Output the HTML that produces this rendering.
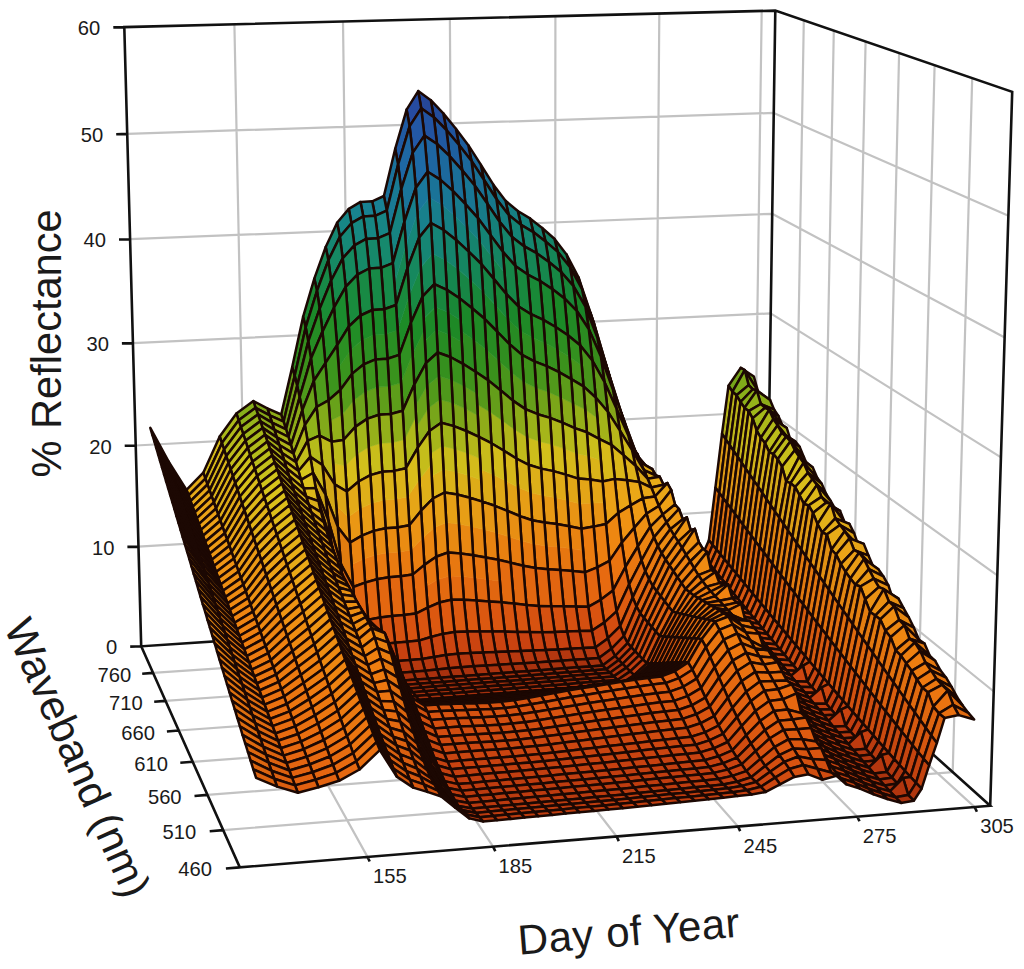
<!DOCTYPE html><html><head><meta charset="utf-8"><title>Reflectance surface</title><style>html,body{margin:0;padding:0;background:#fff}svg{display:block}</style></head><body><svg width="1024" height="969" viewBox="0 0 1024 969"><path d="M138.4,546.6 L767.7,508.8 L993.8,691.5 M135.7,445.5 L769.2,411.7 L997.3,575.4 M132.9,343.1 L770.7,313.4 L1001,457.4 M130,239.2 L772.2,213.8 L1004.7,337.5 M127.2,133.9 L773.7,112.9 L1008.4,215.7 M234.4,24.3 L246.8,639.2 L367.5,856.9 M343,21.6 L350.9,632.3 L493.1,846.6 M449.9,18.9 L453.6,625.4 L616.6,836.5 M555.4,16.2 L554.9,618.7 L738,826.5 M659.3,13.5 L654.7,612 L857.3,816.7 M761.7,10.9 L753.2,605.4 L974.7,807.1 M803.8,20.4 L793.4,628.9 L153,672.9 M833.8,30.7 L822,654.6 L165.5,700.9 M865.6,41.6 L852,681.6 L178.7,730.5 M899.1,53 L883.8,710.1 L192.7,761.8 M934.6,65.2 L917.3,740.2 L207.4,794.9 M972.2,78.1 L952.7,772.1 L223.1,830.1" stroke="#c2c2c2" stroke-width="2.2" fill="none" stroke-linejoin="round"/>
<path d="M141.2,646.3 L239.8,867.4 L990.2,805.8 L766.3,604.5 Z M141.2,646.3 L124.3,27.1 L775.3,10.6 L1012.2,91.8 L990.2,805.8 M775.3,10.6 L766.3,604.5 M141.2,646.3 l-11,0.3 M138.4,546.6 l-11,0.3 M135.7,445.5 l-11,0.3 M132.9,343.1 l-11,0.3 M130,239.2 l-11,0.3 M127.2,133.9 l-11,0.3 M124.3,27.1 l-11,0.3 M153,672.9 l-10.8,0.9 M165.5,700.9 l-11.3,0.9 M178.7,730.5 l-11.8,1 M192.7,761.8 l-12.4,1 M207.4,794.9 l-12.9,1.1 M223.1,830.1 l-13.4,1.1 M239.8,867.4 l-13.9,1.1 M367.5,856.9 l2.2,4.6 M493.1,846.6 l2.2,4.6 M616.6,836.5 l2.2,4.6 M738,826.5 l2.2,4.6 M857.3,816.7 l2.2,4.6 M974.7,807.1 l2.2,4.6" stroke="#111" stroke-width="2.6" fill="none" stroke-linejoin="miter"/>
<g stroke="#1c0803" stroke-width="2.5" stroke-linejoin="round"><path d="M744.8,370.2 L757.8,390.6 L753.9,376.5 L740.7,367.9Z" fill="#6b9b18"/><path d="M732.5,391.7 L744.8,370.2 L740.7,367.9 L728.5,385.8Z" fill="#75a51a"/><path d="M725.9,439.6 L732.5,391.7 L728.5,385.8 L722,433.8Z" fill="#b5b41a"/><path d="M719.3,492.9 L725.9,439.6 L722,433.8 L715.4,487.7Z" fill="#dd9c16"/><path d="M712.7,545 L719.3,492.9 L715.4,487.7 L708.9,540.3Z" fill="#df730f"/><path d="M706.3,559.9 L712.7,545 L708.9,540.3 L702.4,555.1Z" fill="#db5f10"/><path d="M695.4,555.9 L706.3,559.9 L702.4,555.1 L691.6,551Z" fill="#d85b0f"/><path d="M683.8,549 L695.4,555.9 L691.6,551 L680.1,544Z" fill="#d75e0f"/><path d="M672.3,541 L683.8,549 L680.1,544 L668.6,536Z" fill="#d9630f"/><path d="M660.7,531.2 L672.3,541 L668.6,536 L657,526.1Z" fill="#da690f"/><path d="M649.1,519.4 L660.7,531.2 L657,526.1 L645.5,514.2Z" fill="#da6f0f"/><path d="M641.1,464.1 L649.1,519.4 L645.5,514.2 L637.5,454Z" fill="#d28412"/><path d="M629.3,443 L641.1,464.1 L637.5,454 L625.8,438.1Z" fill="#cda417"/><path d="M617.6,404.3 L629.3,443 L625.8,438.1 L614.1,397.7Z" fill="#aea918"/><path d="M605.8,363.6 L617.6,404.3 L614.1,397.7 L602.3,355Z" fill="#619217"/><path d="M593.9,323.2 L605.8,363.6 L602.3,355 L590.5,312.8Z" fill="#2f831c"/><path d="M582,289.1 L593.9,323.2 L590.5,312.8 L578.5,277.3Z" fill="#197d26"/><path d="M569.9,266.9 L582,289.1 L578.5,277.3 L566.5,254.4Z" fill="#157f42"/><path d="M557.7,251.9 L569.9,266.9 L566.5,254.4 L554.4,238.8Z" fill="#158157"/><path d="M545.5,241.4 L557.7,251.9 L554.4,238.8 L542.2,228Z" fill="#158367"/><path d="M533.3,232.1 L545.5,241.4 L542.2,228 L530,218.4Z" fill="#158373"/><path d="M521,224.9 L533.3,232.1 L530,218.4 L517.8,211Z" fill="#16837d"/><path d="M508.7,214.9 L521,224.9 L517.8,211 L505.5,200.7Z" fill="#167e82"/><path d="M496.4,199 L508.7,214.9 L505.5,200.7 L493.2,184.4Z" fill="#17778a"/><path d="M483.9,179.8 L496.4,199 L493.2,184.4 L480.8,164.7Z" fill="#196e90"/><path d="M471.5,160.9 L483.9,179.8 L480.8,164.7 L468.3,145.2Z" fill="#1b6697"/><path d="M459,145 L471.5,160.9 L468.3,145.2 L455.9,128.8Z" fill="#1e5d9c"/><path d="M446.4,130 L459,145 L455.9,128.8 L443.3,113.4Z" fill="#20549d"/><path d="M433.8,117.2 L446.4,130 L443.3,113.4 L430.8,100.2Z" fill="#234c9b"/><path d="M421.2,108.3 L433.8,117.2 L430.8,100.2 L418.2,91.1Z" fill="#264799"/><path d="M409.6,126.4 L421.2,108.3 L418.2,91.1 L406.6,109.6Z" fill="#264ba0"/><path d="M398.1,164.6 L409.6,126.4 L406.6,109.6 L395.2,148.8Z" fill="#205aa2"/><path d="M386.8,210.6 L398.1,164.6 L395.2,148.8 L383.9,196Z" fill="#1b7199"/><path d="M375.1,215.8 L386.8,210.6 L383.9,196 L372.2,201.3Z" fill="#198194"/><path d="M363.3,216.4 L375.1,215.8 L372.2,201.3 L360.5,201.9Z" fill="#188191"/><path d="M351.5,223.2 L363.3,216.4 L360.5,201.9 L348.8,208.9Z" fill="#18838f"/><path d="M339.9,236.8 L351.5,223.2 L348.8,208.9 L337.1,222.8Z" fill="#178686"/><path d="M328.4,260.3 L339.9,236.8 L337.1,222.8 L325.7,247Z" fill="#168772"/><path d="M317,290.8 L328.4,260.3 L325.7,247 L314.3,278.6Z" fill="#168754"/><path d="M305.7,327.4 L317,290.8 L314.3,278.6 L303.1,316.8Z" fill="#1a8833"/><path d="M294.7,375.8 L305.7,327.4 L303.1,316.8 L292.2,367.1Z" fill="#2f8d20"/><path d="M283.6,421.7 L294.7,375.8 L292.2,367.1 L281.2,414.5Z" fill="#669d19"/><path d="M269.7,415.4 L283.6,421.7 L281.2,414.5 L267.3,408.3Z" fill="#8fac19"/><path d="M255.6,407.8 L269.7,415.4 L267.3,408.3 L253.4,401.1Z" fill="#7ea519"/><path d="M238.7,420.3 L255.6,407.8 L253.4,401.1 L236.4,413.5Z" fill="#87ae1a"/><path d="M221.9,443.1 L238.7,420.3 L236.4,413.5 L219.7,436.5Z" fill="#aab81a"/><path d="M205.4,478.6 L221.9,443.1 L219.7,436.5 L203.3,472.7Z" fill="#d4bb1b"/><path d="M188.5,495.5 L205.4,478.6 L203.3,472.7 L186.5,489.9Z" fill="#e5ac18"/><path d="M170.5,467.3 L188.5,495.5 L186.5,489.9 L168.5,461.3Z" fill="#cca017"/><path d="M152.2,434.4 L170.5,467.3 L168.5,461.3 L150.3,427.9Z" fill="#b3ac19"/><path d="M748.6,385.1 L761.8,398.6 L757.8,390.6 L744.8,370.2Z" fill="#7aa018"/><path d="M736.5,395.3 L748.6,385.1 L744.8,370.2 L732.5,391.7Z" fill="#80ab1a"/><path d="M729.8,445.3 L736.5,395.3 L732.5,391.7 L725.9,439.6Z" fill="#b9b41a"/><path d="M723.2,498.2 L729.8,445.3 L725.9,439.6 L719.3,492.9Z" fill="#de9a15"/><path d="M716.6,549.7 L723.2,498.2 L719.3,492.9 L712.7,545Z" fill="#df720f"/><path d="M710.1,564.6 L716.6,549.7 L712.7,545 L706.3,559.9Z" fill="#da5e10"/><path d="M699.2,560.8 L710.1,564.6 L706.3,559.9 L695.4,555.9Z" fill="#d75a0f"/><path d="M687.6,553.9 L699.2,560.8 L695.4,555.9 L683.8,549Z" fill="#d65d0f"/><path d="M676,546.1 L687.6,553.9 L683.8,549 L672.3,541Z" fill="#d8620f"/><path d="M664.4,536.3 L676,546.1 L672.3,541 L660.7,531.2Z" fill="#d9680f"/><path d="M652.8,524.7 L664.4,536.3 L660.7,531.2 L649.1,519.4Z" fill="#da6e0f"/><path d="M644.8,467.7 L652.8,524.7 L649.1,519.4 L641.1,464.1Z" fill="#d28211"/><path d="M632.9,448.6 L644.8,467.7 L641.1,464.1 L629.3,443Z" fill="#cba016"/><path d="M621.2,412.7 L632.9,448.6 L629.3,443 L617.6,404.3Z" fill="#b4ab18"/><path d="M609.3,375.2 L621.2,412.7 L617.6,404.3 L605.8,363.6Z" fill="#6c9617"/><path d="M597.4,337.9 L609.3,375.2 L605.8,363.6 L593.9,323.2Z" fill="#34841a"/><path d="M585.4,306.6 L597.4,337.9 L593.9,323.2 L582,289.1Z" fill="#1e8022"/><path d="M573.3,285.9 L585.4,306.6 L582,289.1 L569.9,266.9Z" fill="#178137"/><path d="M561.1,272 L573.3,285.9 L569.9,266.9 L557.7,251.9Z" fill="#15844a"/><path d="M548.9,262 L561.1,272 L557.7,251.9 L545.5,241.4Z" fill="#158558"/><path d="M536.6,253.2 L548.9,262 L545.5,241.4 L533.3,232.1Z" fill="#158564"/><path d="M524.3,246.4 L536.6,253.2 L533.3,232.1 L521,224.9Z" fill="#16856e"/><path d="M512,236.9 L524.3,246.4 L521,224.9 L508.7,214.9Z" fill="#158476"/><path d="M499.6,221.8 L512,236.9 L508.7,214.9 L496.4,199Z" fill="#167e7f"/><path d="M487.2,203.5 L499.6,221.8 L496.4,199 L483.9,179.8Z" fill="#17778b"/><path d="M474.7,185.5 L487.2,203.5 L483.9,179.8 L471.5,160.9Z" fill="#196f94"/><path d="M462.2,170.4 L474.7,185.5 L471.5,160.9 L459,145Z" fill="#1c689b"/><path d="M449.6,156.2 L462.2,170.4 L459,145 L446.4,130Z" fill="#1e609e"/><path d="M437,144 L449.6,156.2 L446.4,130 L433.8,117.2Z" fill="#2058a0"/><path d="M424.4,135.6 L437,144 L433.8,117.2 L421.2,108.3Z" fill="#2253a1"/><path d="M412.7,152.9 L424.4,135.6 L421.2,108.3 L409.6,126.4Z" fill="#2358a6"/><path d="M401.2,189.3 L412.7,152.9 L409.6,126.4 L398.1,164.6Z" fill="#1e67a3"/><path d="M389.8,233.2 L401.2,189.3 L398.1,164.6 L386.8,210.6Z" fill="#197a94"/><path d="M378,238.2 L389.8,233.2 L386.8,210.6 L375.1,215.8Z" fill="#178685"/><path d="M366.2,238.9 L378,238.2 L375.1,215.8 L363.3,216.4Z" fill="#178683"/><path d="M354.4,245.4 L366.2,238.9 L363.3,216.4 L351.5,223.2Z" fill="#178881"/><path d="M342.7,258.4 L354.4,245.4 L351.5,223.2 L339.9,236.8Z" fill="#168977"/><path d="M331.1,280.8 L342.7,258.4 L339.9,236.8 L328.4,260.3Z" fill="#168963"/><path d="M319.7,308.7 L331.1,280.8 L328.4,260.3 L317,290.8Z" fill="#178947"/><path d="M308.3,341.4 L319.7,308.7 L317,290.8 L305.7,327.4Z" fill="#1b8929"/><path d="M297.2,385.9 L308.3,341.4 L305.7,327.4 L294.7,375.8Z" fill="#348f1e"/><path d="M286.1,429.3 L297.2,385.9 L294.7,375.8 L283.6,421.7Z" fill="#70a119"/><path d="M272,422.6 L286.1,429.3 L283.6,421.7 L269.7,415.4Z" fill="#98af19"/><path d="M258,414.4 L272,422.6 L269.7,415.4 L255.6,407.8Z" fill="#85a719"/><path d="M240.9,427.1 L258,414.4 L255.6,407.8 L238.7,420.3Z" fill="#8fb11a"/><path d="M224.1,449.6 L240.9,427.1 L238.7,420.3 L221.9,443.1Z" fill="#b0b91a"/><path d="M207.5,484.5 L224.1,449.6 L221.9,443.1 L205.4,478.6Z" fill="#d6b91a"/><path d="M190.5,501.1 L207.5,484.5 L205.4,478.6 L188.5,495.5Z" fill="#e6aa18"/><path d="M172.5,473.3 L190.5,501.1 L188.5,495.5 L170.5,467.3Z" fill="#cd9e16"/><path d="M154.2,440.9 L172.5,473.3 L170.5,467.3 L152.2,434.4Z" fill="#b8ad19"/><path d="M752.7,389.3 L766,397.6 L761.8,398.6 L748.6,385.1Z" fill="#81a118"/><path d="M740.5,402 L752.7,389.3 L748.6,385.1 L736.5,395.3Z" fill="#8aae1a"/><path d="M733.8,451.2 L740.5,402 L736.5,395.3 L729.8,445.3Z" fill="#beb61a"/><path d="M727.1,503.4 L733.8,451.2 L729.8,445.3 L723.2,498.2Z" fill="#df9915"/><path d="M720.5,554.5 L727.1,503.4 L723.2,498.2 L716.6,549.7Z" fill="#de710f"/><path d="M714,569.4 L720.5,554.5 L716.6,549.7 L710.1,564.6Z" fill="#da5d10"/><path d="M703,565.7 L714,569.4 L710.1,564.6 L699.2,560.8Z" fill="#d7590f"/><path d="M691.4,558.9 L703,565.7 L699.2,560.8 L687.6,553.9Z" fill="#d65c0f"/><path d="M679.8,551.1 L691.4,558.9 L687.6,553.9 L676,546.1Z" fill="#d8610f"/><path d="M668.1,541.5 L679.8,551.1 L676,546.1 L664.4,536.3Z" fill="#d9670f"/><path d="M656.5,530.1 L668.1,541.5 L664.4,536.3 L652.8,524.7Z" fill="#da6d0f"/><path d="M648.5,468.9 L656.5,530.1 L652.8,524.7 L644.8,467.7Z" fill="#d28111"/><path d="M636.6,454.8 L648.5,468.9 L644.8,467.7 L632.9,448.6Z" fill="#cda017"/><path d="M624.8,422.7 L636.6,454.8 L632.9,448.6 L621.2,412.7Z" fill="#bbad19"/><path d="M612.9,389.6 L624.8,422.7 L621.2,412.7 L609.3,375.2Z" fill="#7c9b17"/><path d="M600.9,356.6 L612.9,389.6 L609.3,375.2 L597.4,337.9Z" fill="#418a19"/><path d="M588.8,329.2 L600.9,356.6 L597.4,337.9 L585.4,306.6Z" fill="#28851f"/><path d="M576.7,310.8 L588.8,329.2 L585.4,306.6 L573.3,285.9Z" fill="#1a8427"/><path d="M564.5,298.4 L576.7,310.8 L573.3,285.9 L561.1,272Z" fill="#188637"/><path d="M552.3,289.1 L564.5,298.4 L561.1,272 L548.9,262Z" fill="#178744"/><path d="M540,281 L552.3,289.1 L548.9,262 L536.6,253.2Z" fill="#16874d"/><path d="M527.7,274.6 L540,281 L536.6,253.2 L524.3,246.4Z" fill="#168756"/><path d="M515.3,265.9 L527.7,274.6 L524.3,246.4 L512,236.9Z" fill="#15865e"/><path d="M502.9,251.8 L515.3,265.9 L512,236.9 L499.6,221.8Z" fill="#15836a"/><path d="M490.4,234.9 L502.9,251.8 L499.6,221.8 L487.2,203.5Z" fill="#15807a"/><path d="M477.9,218.1 L490.4,234.9 L487.2,203.5 L474.7,185.5Z" fill="#177b88"/><path d="M465.4,204.1 L477.9,218.1 L474.7,185.5 L462.2,170.4Z" fill="#197693"/><path d="M452.8,190.9 L465.4,204.1 L462.2,170.4 L449.6,156.2Z" fill="#1b6f98"/><path d="M440.2,179.6 L452.8,190.9 L449.6,156.2 L437,144Z" fill="#1c699d"/><path d="M427.6,171.8 L440.2,179.6 L437,144 L424.4,135.6Z" fill="#1e65a1"/><path d="M415.8,188 L427.6,171.8 L424.4,135.6 L412.7,152.9Z" fill="#1e6aa5"/><path d="M404.3,222 L415.8,188 L412.7,152.9 L401.2,189.3Z" fill="#1b759a"/><path d="M392.8,263.1 L404.3,222 L401.2,189.3 L389.8,233.2Z" fill="#168381"/><path d="M381.1,267.8 L392.8,263.1 L389.8,233.2 L378,238.2Z" fill="#16896d"/><path d="M369.2,268.5 L381.1,267.8 L378,238.2 L366.2,238.9Z" fill="#16886a"/><path d="M357.4,274.6 L369.2,268.5 L366.2,238.9 L354.4,245.4Z" fill="#168967"/><path d="M345.7,286.8 L357.4,274.6 L354.4,245.4 L342.7,258.4Z" fill="#168a5e"/><path d="M334,307.7 L345.7,286.8 L342.7,258.4 L331.1,280.8Z" fill="#178b4c"/><path d="M322.5,331.6 L334,307.7 L331.1,280.8 L319.7,308.7Z" fill="#1a8b35"/><path d="M311,358.6 L322.5,331.6 L319.7,308.7 L308.3,341.4Z" fill="#258d24"/><path d="M299.7,397.2 L311,358.6 L308.3,341.4 L297.2,385.9Z" fill="#3b921c"/><path d="M288.5,437 L299.7,397.2 L297.2,385.9 L286.1,429.3Z" fill="#7da519"/><path d="M274.4,429.9 L288.5,437 L286.1,429.3 L272,422.6Z" fill="#a0b119"/><path d="M260.3,421.2 L274.4,429.9 L272,422.6 L258,414.4Z" fill="#8daa19"/><path d="M243.2,433.9 L260.3,421.2 L258,414.4 L240.9,427.1Z" fill="#98b41a"/><path d="M226.2,456.2 L243.2,433.9 L240.9,427.1 L224.1,449.6Z" fill="#b7bb1b"/><path d="M209.6,490.4 L226.2,456.2 L224.1,449.6 L207.5,484.5Z" fill="#d7b71a"/><path d="M192.6,506.8 L209.6,490.4 L207.5,484.5 L190.5,501.1Z" fill="#e7a817"/><path d="M174.4,479.5 L192.6,506.8 L190.5,501.1 L172.5,473.3Z" fill="#ce9d16"/><path d="M156.1,447.4 L174.4,479.5 L172.5,473.3 L154.2,440.9Z" fill="#beae19"/><path d="M756.8,390.5 L770.1,400 L766,397.6 L752.7,389.3Z" fill="#7fa218"/><path d="M744.5,407.9 L756.8,390.5 L752.7,389.3 L740.5,402Z" fill="#8cad1a"/><path d="M737.8,457 L744.5,407.9 L740.5,402 L733.8,451.2Z" fill="#c3b71a"/><path d="M731.1,508.8 L737.8,457 L733.8,451.2 L727.1,503.4Z" fill="#e09715"/><path d="M724.4,559.3 L731.1,508.8 L727.1,503.4 L720.5,554.5Z" fill="#de700f"/><path d="M717.9,574.2 L724.4,559.3 L720.5,554.5 L714,569.4Z" fill="#d95c10"/><path d="M706.9,570.7 L717.9,574.2 L714,569.4 L703,565.7Z" fill="#d75810"/><path d="M695.2,563.9 L706.9,570.7 L703,565.7 L691.4,558.9Z" fill="#d55b0f"/><path d="M683.6,556.2 L695.2,563.9 L691.4,558.9 L679.8,551.1Z" fill="#d7600f"/><path d="M671.9,546.7 L683.6,556.2 L679.8,551.1 L668.1,541.5Z" fill="#d9650f"/><path d="M660.2,535.4 L671.9,546.7 L668.1,541.5 L656.5,530.1Z" fill="#d96c0f"/><path d="M652.2,469.1 L660.2,535.4 L656.5,530.1 L648.5,468.9Z" fill="#d28211"/><path d="M640.2,462.1 L652.2,469.1 L648.5,468.9 L636.6,454.8Z" fill="#d2a417"/><path d="M628.3,435.4 L640.2,462.1 L636.6,454.8 L624.8,422.7Z" fill="#c2ac19"/><path d="M616.4,408.6 L628.3,435.4 L624.8,422.7 L612.9,389.6Z" fill="#94a518"/><path d="M604.4,381.9 L616.4,408.6 L612.9,389.6 L600.9,356.6Z" fill="#5c9418"/><path d="M592.3,360.5 L604.4,381.9 L600.9,356.6 L588.8,329.2Z" fill="#378b1b"/><path d="M580.1,345.3 L592.3,360.5 L588.8,329.2 L576.7,310.8Z" fill="#2b8b21"/><path d="M567.9,335.2 L580.1,345.3 L576.7,310.8 L564.5,298.4Z" fill="#228a25"/><path d="M555.6,327 L567.9,335.2 L564.5,298.4 L552.3,289.1Z" fill="#1b8927"/><path d="M543.3,319.8 L555.6,327 L552.3,289.1 L540,281Z" fill="#1a8830"/><path d="M531,314.2 L543.3,319.8 L540,281 L527.7,274.6Z" fill="#198937"/><path d="M518.6,306.5 L531,314.2 L527.7,274.6 L515.3,265.9Z" fill="#18883e"/><path d="M506.2,294 L518.6,306.5 L515.3,265.9 L502.9,251.8Z" fill="#168648"/><path d="M493.8,278.9 L506.2,294 L504.6,272.9 L492.1,256.9Z" fill="#15854d" stroke="#15854d" stroke-width="0.6"/><path d="M492.1,256.9 L504.6,272.9 L502.9,251.8 L490.4,234.9Z" fill="#158362" stroke="#158362" stroke-width="0.6"/><path d="M493.8,278.9 L506.2,294 L502.9,251.8 L490.4,234.9Z" fill="none"/><path d="M481.3,264 L493.8,278.9 L492.1,256.9 L479.6,241.1Z" fill="#15845d" stroke="#15845d" stroke-width="0.6"/><path d="M479.6,241.1 L492.1,256.9 L490.4,234.9 L477.9,218.1Z" fill="#158274" stroke="#158274" stroke-width="0.6"/><path d="M481.3,264 L493.8,278.9 L490.4,234.9 L477.9,218.1Z" fill="none"/><path d="M468.7,251.6 L481.3,264 L479.6,241.1 L467,227.9Z" fill="#15836d" stroke="#15836d" stroke-width="0.6"/><path d="M467,227.9 L479.6,241.1 L477.9,218.1 L465.4,204.1Z" fill="#167f81" stroke="#167f81" stroke-width="0.6"/><path d="M468.7,251.6 L481.3,264 L477.9,218.1 L465.4,204.1Z" fill="none"/><path d="M456.1,239.9 L468.7,251.6 L467,227.9 L454.5,215.4Z" fill="#15827a" stroke="#15827a" stroke-width="0.6"/><path d="M454.5,215.4 L467,227.9 L465.4,204.1 L452.8,190.9Z" fill="#187b8c" stroke="#187b8c" stroke-width="0.6"/><path d="M456.1,239.9 L468.7,251.6 L465.4,204.1 L452.8,190.9Z" fill="none"/><path d="M443.5,229.9 L456.1,239.9 L454.5,215.4 L441.9,204.7Z" fill="#177f84" stroke="#177f84" stroke-width="0.6"/><path d="M441.9,204.7 L454.5,215.4 L452.8,190.9 L440.2,179.6Z" fill="#197794" stroke="#197794" stroke-width="0.6"/><path d="M443.5,229.9 L456.1,239.9 L452.8,190.9 L440.2,179.6Z" fill="none"/><path d="M430.9,223 L443.5,229.9 L441.9,204.7 L429.2,197.4Z" fill="#187d8c" stroke="#187d8c" stroke-width="0.6"/><path d="M429.2,197.4 L441.9,204.7 L440.2,179.6 L427.6,171.8Z" fill="#1a7398" stroke="#1a7398" stroke-width="0.6"/><path d="M430.9,223 L443.5,229.9 L440.2,179.6 L427.6,171.8Z" fill="none"/><path d="M419.1,237.6 L430.9,223 L429.2,197.4 L417.5,212.8Z" fill="#18808c" stroke="#18808c" stroke-width="0.6"/><path d="M417.5,212.8 L429.2,197.4 L427.6,171.8 L415.8,188Z" fill="#1a779a" stroke="#1a779a" stroke-width="0.6"/><path d="M419.1,237.6 L430.9,223 L427.6,171.8 L415.8,188Z" fill="none"/><path d="M407.5,268.1 L419.1,237.6 L417.5,212.8 L405.9,245.1Z" fill="#168678" stroke="#168678" stroke-width="0.6"/><path d="M405.9,245.1 L417.5,212.8 L415.8,188 L404.3,222Z" fill="#18808c" stroke="#18808c" stroke-width="0.6"/><path d="M407.5,268.1 L419.1,237.6 L415.8,188 L404.3,222Z" fill="none"/><path d="M396,305 L407.5,268.1 L405.9,245.1 L394.4,284Z" fill="#168853" stroke="#168853" stroke-width="0.6"/><path d="M394.4,284 L405.9,245.1 L404.3,222 L392.8,263.1Z" fill="#16876a" stroke="#16876a" stroke-width="0.6"/><path d="M396,305 L407.5,268.1 L404.3,222 L392.8,263.1Z" fill="none"/><path d="M384.2,309.2 L396,305 L392.8,263.1 L381.1,267.8Z" fill="#178a49"/><path d="M372.4,310 L384.2,309.2 L381.1,267.8 L369.2,268.5Z" fill="#178947"/><path d="M360.5,315.5 L372.4,310 L369.2,268.5 L357.4,274.6Z" fill="#188a44"/><path d="M348.8,326.5 L360.5,315.5 L357.4,274.6 L345.7,286.8Z" fill="#198b3d"/><path d="M337.1,345.3 L348.8,326.5 L345.7,286.8 L334,307.7Z" fill="#1b8c2e"/><path d="M325.4,363.1 L337.1,345.3 L334,307.7 L322.5,331.6Z" fill="#258f25"/><path d="M313.8,381 L325.4,363.1 L322.5,331.6 L311,358.6Z" fill="#339320"/><path d="M302.3,410.4 L313.8,381 L311,358.6 L299.7,397.2Z" fill="#4e991b"/><path d="M291,445.2 L302.3,410.4 L299.7,397.2 L288.5,437Z" fill="#8dab19"/><path d="M276.8,437.4 L291,445.2 L288.5,437 L274.4,429.9Z" fill="#a8b319"/><path d="M262.6,427.9 L276.8,437.4 L274.4,429.9 L260.3,421.2Z" fill="#95ac19"/><path d="M245.5,440.8 L262.6,427.9 L260.3,421.2 L243.2,433.9Z" fill="#a0b61a"/><path d="M228.5,462.8 L245.5,440.8 L243.2,433.9 L226.2,456.2Z" fill="#bdbc1b"/><path d="M211.7,496.4 L228.5,462.8 L226.2,456.2 L209.6,490.4Z" fill="#d9b51a"/><path d="M194.6,512.5 L211.7,496.4 L209.6,490.4 L192.6,506.8Z" fill="#e8a717"/><path d="M176.5,485.6 L194.6,512.5 L192.6,506.8 L174.4,479.5Z" fill="#d09b16"/><path d="M158.1,454.1 L176.5,485.6 L174.4,479.5 L156.1,447.4Z" fill="#c2af19"/><path d="M760.8,404 L774.2,409.7 L770.1,400 L756.8,390.5Z" fill="#8dac19"/><path d="M748.6,411.1 L760.8,404 L756.8,390.5 L744.5,407.9Z" fill="#95b31a"/><path d="M741.8,462.9 L748.6,411.1 L744.5,407.9 L737.8,457Z" fill="#c7b81a"/><path d="M735.1,514.1 L741.8,462.9 L737.8,457 L731.1,508.8Z" fill="#e09514"/><path d="M728.4,564.1 L735.1,514.1 L731.1,508.8 L724.4,559.3Z" fill="#de6f0f"/><path d="M721.8,579.1 L728.4,564.1 L724.4,559.3 L717.9,574.2Z" fill="#d95b10"/><path d="M710.8,575.6 L721.8,579.1 L717.9,574.2 L706.9,570.7Z" fill="#d65710"/><path d="M699.1,569 L710.8,575.6 L706.9,570.7 L695.2,563.9Z" fill="#d55a0f"/><path d="M687.4,561.3 L699.1,569 L695.2,563.9 L683.6,556.2Z" fill="#d75f0f"/><path d="M675.7,551.9 L687.4,561.3 L683.6,556.2 L671.9,546.7Z" fill="#d8640f"/><path d="M663.9,540.8 L675.7,551.9 L671.9,546.7 L660.2,535.4Z" fill="#d96b0f"/><path d="M655.9,475.5 L663.9,540.8 L660.2,535.4 L652.2,469.1Z" fill="#d28111"/><path d="M643.9,470.1 L655.9,475.5 L652.2,469.1 L640.2,462.1Z" fill="#dca918"/><path d="M631.9,449.8 L643.9,470.1 L640.2,462.1 L628.3,435.4Z" fill="#c8aa18"/><path d="M619.9,430.7 L631.9,449.8 L628.3,435.4 L616.4,408.6Z" fill="#b0af19"/><path d="M607.8,411.7 L619.9,430.7 L616.4,408.6 L604.4,381.9Z" fill="#85a418"/><path d="M595.7,397.5 L607.8,411.7 L604.4,381.9 L592.3,360.5Z" fill="#609a19"/><path d="M583.5,386.4 L595.7,397.5 L592.3,360.5 L580.1,345.3Z" fill="#47941b"/><path d="M571.3,379.1 L583.5,386.4 L581.8,365.8 L569.6,357.1Z" fill="#45951b" stroke="#45951b" stroke-width="0.6"/><path d="M569.6,357.1 L581.8,365.8 L580.1,345.3 L567.9,335.2Z" fill="#33901f" stroke="#33901f" stroke-width="0.6"/><path d="M571.3,379.1 L583.5,386.4 L580.1,345.3 L567.9,335.2Z" fill="none"/><path d="M559,372.2 L571.3,379.1 L569.6,357.1 L557.3,349.6Z" fill="#3b921c" stroke="#3b921c" stroke-width="0.6"/><path d="M557.3,349.6 L569.6,357.1 L567.9,335.2 L555.6,327Z" fill="#2d8e21" stroke="#2d8e21" stroke-width="0.6"/><path d="M559,372.2 L571.3,379.1 L567.9,335.2 L555.6,327Z" fill="none"/><path d="M546.7,366.1 L559,372.2 L557.3,349.6 L545,342.9Z" fill="#36911e" stroke="#36911e" stroke-width="0.6"/><path d="M545,342.9 L557.3,349.6 L555.6,327 L543.3,319.8Z" fill="#288d23" stroke="#288d23" stroke-width="0.6"/><path d="M546.7,366.1 L559,372.2 L555.6,327 L543.3,319.8Z" fill="none"/><path d="M534.4,361.4 L546.7,366.1 L545,342.9 L532.7,337.8Z" fill="#32901f" stroke="#32901f" stroke-width="0.6"/><path d="M532.7,337.8 L545,342.9 L543.3,319.8 L531,314.2Z" fill="#248c24" stroke="#248c24" stroke-width="0.6"/><path d="M534.4,361.4 L546.7,366.1 L543.3,319.8 L531,314.2Z" fill="none"/><path d="M522,354.9 L534.4,361.4 L532.7,337.8 L520.3,330.7Z" fill="#2e8e21" stroke="#2e8e21" stroke-width="0.6"/><path d="M520.3,330.7 L532.7,337.8 L531,314.2 L518.6,306.5Z" fill="#1f8a26" stroke="#1f8a26" stroke-width="0.6"/><path d="M522,354.9 L534.4,361.4 L531,314.2 L518.6,306.5Z" fill="none"/><path d="M509.6,344.3 L522,354.9 L520.3,330.7 L507.9,319.2Z" fill="#278b23" stroke="#278b23" stroke-width="0.6"/><path d="M507.9,319.2 L520.3,330.7 L518.6,306.5 L506.2,294Z" fill="#1b882b" stroke="#1b882b" stroke-width="0.6"/><path d="M509.6,344.3 L522,354.9 L518.6,306.5 L506.2,294Z" fill="none"/><path d="M497.1,331.5 L509.6,344.3 L507.9,319.2 L495.4,305.2Z" fill="#1f8825" stroke="#1f8825" stroke-width="0.6"/><path d="M495.4,305.2 L507.9,319.2 L506.2,294 L493.8,278.9Z" fill="#188638" stroke="#188638" stroke-width="0.6"/><path d="M497.1,331.5 L509.6,344.3 L506.2,294 L493.8,278.9Z" fill="none"/><path d="M484.6,318.8 L497.1,331.5 L495.4,305.2 L482.9,291.4Z" fill="#1a872e" stroke="#1a872e" stroke-width="0.6"/><path d="M482.9,291.4 L495.4,305.2 L493.8,278.9 L481.3,264Z" fill="#168646" stroke="#168646" stroke-width="0.6"/><path d="M484.6,318.8 L497.1,331.5 L493.8,278.9 L481.3,264Z" fill="none"/><path d="M472.1,308.3 L484.6,318.8 L482.9,291.4 L470.4,280Z" fill="#18873a" stroke="#18873a" stroke-width="0.6"/><path d="M470.4,280 L482.9,291.4 L481.3,264 L468.7,251.6Z" fill="#158554" stroke="#158554" stroke-width="0.6"/><path d="M472.1,308.3 L484.6,318.8 L481.3,264 L468.7,251.6Z" fill="none"/><path d="M459.5,298.3 L472.1,308.3 L470.4,280 L457.8,269.1Z" fill="#178645" stroke="#178645" stroke-width="0.6"/><path d="M457.8,269.1 L470.4,280 L468.7,251.6 L456.1,239.9Z" fill="#158561" stroke="#158561" stroke-width="0.6"/><path d="M459.5,298.3 L472.1,308.3 L468.7,251.6 L456.1,239.9Z" fill="none"/><path d="M446.9,289.9 L459.5,298.3 L457.8,269.1 L445.2,259.9Z" fill="#15864e" stroke="#15864e" stroke-width="0.6"/><path d="M445.2,259.9 L457.8,269.1 L456.1,239.9 L443.5,229.9Z" fill="#15846c" stroke="#15846c" stroke-width="0.6"/><path d="M446.9,289.9 L459.5,298.3 L456.1,239.9 L443.5,229.9Z" fill="none"/><path d="M434.3,284.1 L446.9,289.9 L445.2,259.9 L432.6,253.6Z" fill="#158657" stroke="#158657" stroke-width="0.6"/><path d="M432.6,253.6 L445.2,259.9 L443.5,229.9 L430.9,223Z" fill="#158476" stroke="#158476" stroke-width="0.6"/><path d="M434.3,284.1 L446.9,289.9 L443.5,229.9 L430.9,223Z" fill="none"/><path d="M422.5,296.7 L434.3,284.1 L432.6,253.6 L420.8,267.2Z" fill="#168855" stroke="#168855" stroke-width="0.6"/><path d="M420.8,267.2 L432.6,253.6 L430.9,223 L419.1,237.6Z" fill="#168674" stroke="#168674" stroke-width="0.6"/><path d="M422.5,296.7 L434.3,284.1 L430.9,223 L419.1,237.6Z" fill="none"/><path d="M410.9,323.1 L422.5,296.7 L420.8,267.2 L409.2,295.6Z" fill="#188a42" stroke="#188a42" stroke-width="0.6"/><path d="M409.2,295.6 L420.8,267.2 L419.1,237.6 L407.5,268.1Z" fill="#16885e" stroke="#16885e" stroke-width="0.6"/><path d="M410.9,323.1 L422.5,296.7 L419.1,237.6 L407.5,268.1Z" fill="none"/><path d="M399.3,354.9 L410.9,323.1 L409.2,295.6 L397.7,329.9Z" fill="#1d8b27" stroke="#1d8b27" stroke-width="0.6"/><path d="M397.7,329.9 L409.2,295.6 L407.5,268.1 L396,305Z" fill="#198a3d" stroke="#198a3d" stroke-width="0.6"/><path d="M399.3,354.9 L410.9,323.1 L407.5,268.1 L396,305Z" fill="none"/><path d="M387.5,358.7 L399.3,354.9 L397.7,329.9 L385.9,334Z" fill="#298e23" stroke="#298e23" stroke-width="0.6"/><path d="M385.9,334 L397.7,329.9 L396,305 L384.2,309.2Z" fill="#1b8a2b" stroke="#1b8a2b" stroke-width="0.6"/><path d="M387.5,358.7 L399.3,354.9 L396,305 L384.2,309.2Z" fill="none"/><path d="M375.6,359.4 L387.5,358.7 L385.9,334 L374,334.7Z" fill="#2a8e22" stroke="#2a8e22" stroke-width="0.6"/><path d="M374,334.7 L385.9,334 L384.2,309.2 L372.4,310Z" fill="#1b8a29" stroke="#1b8a29" stroke-width="0.6"/><path d="M375.6,359.4 L387.5,358.7 L384.2,309.2 L372.4,310Z" fill="none"/><path d="M363.8,364.3 L375.6,359.4 L374,334.7 L362.2,339.9Z" fill="#2c8f22" stroke="#2c8f22" stroke-width="0.6"/><path d="M362.2,339.9 L374,334.7 L372.4,310 L360.5,315.5Z" fill="#1d8b27" stroke="#1d8b27" stroke-width="0.6"/><path d="M363.8,364.3 L375.6,359.4 L372.4,310 L360.5,315.5Z" fill="none"/><path d="M352,373.9 L363.8,364.3 L362.2,339.9 L350.4,350.2Z" fill="#309121" stroke="#309121" stroke-width="0.6"/><path d="M350.4,350.2 L362.2,339.9 L360.5,315.5 L348.8,326.5Z" fill="#228d26" stroke="#228d26" stroke-width="0.6"/><path d="M352,373.9 L363.8,364.3 L360.5,315.5 L348.8,326.5Z" fill="none"/><path d="M340.3,390 L352,373.9 L350.4,350.2 L338.7,367.6Z" fill="#39941e" stroke="#39941e" stroke-width="0.6"/><path d="M338.7,367.6 L350.4,350.2 L348.8,326.5 L337.1,345.3Z" fill="#2b9023" stroke="#2b9023" stroke-width="0.6"/><path d="M340.3,390 L352,373.9 L348.8,326.5 L337.1,345.3Z" fill="none"/><path d="M328.5,400.3 L340.3,390 L337.1,345.3 L325.4,363.1Z" fill="#3c951d"/><path d="M316.6,407 L328.5,400.3 L325.4,363.1 L313.8,381Z" fill="#4e9b1c"/><path d="M304.9,425.1 L316.6,407 L313.8,381 L302.3,410.4Z" fill="#69a31a"/><path d="M293.5,453.6 L304.9,425.1 L302.3,410.4 L291,445.2Z" fill="#9fb219"/><path d="M279.3,445 L293.5,453.6 L291,445.2 L276.8,437.4Z" fill="#b0b51a"/><path d="M265,434.7 L279.3,445 L276.8,437.4 L262.6,427.9Z" fill="#9dae19"/><path d="M247.8,447.8 L265,434.7 L262.6,427.9 L245.5,440.8Z" fill="#a8b91a"/><path d="M230.7,469.5 L247.8,447.8 L245.5,440.8 L228.5,462.8Z" fill="#c4be1b"/><path d="M213.9,502.4 L230.7,469.5 L228.5,462.8 L211.7,496.4Z" fill="#dab319"/><path d="M196.7,518.3 L213.9,502.4 L211.7,496.4 L194.6,512.5Z" fill="#eaa517"/><path d="M178.5,491.8 L196.7,518.3 L194.6,512.5 L176.5,485.6Z" fill="#d19a15"/><path d="M160,460.7 L178.5,491.8 L176.5,485.6 L158.1,454.1Z" fill="#c3ad19"/><path d="M765,407.8 L778.4,415.9 L774.2,409.7 L760.8,404Z" fill="#96ad19"/><path d="M752.6,418.4 L765,407.8 L760.8,404 L748.6,411.1Z" fill="#9eb61a"/><path d="M745.8,468.9 L752.6,418.4 L748.6,411.1 L741.8,462.9Z" fill="#cbb91b"/><path d="M739.1,519.5 L745.8,468.9 L741.8,462.9 L735.1,514.1Z" fill="#e09314"/><path d="M732.4,569 L739.1,519.5 L735.1,514.1 L728.4,564.1Z" fill="#de6e0f"/><path d="M725.8,583.9 L732.4,569 L728.4,564.1 L721.8,579.1Z" fill="#d85a10"/><path d="M714.7,580.6 L725.8,583.9 L721.8,579.1 L710.8,575.6Z" fill="#d65610"/><path d="M703,574.1 L714.7,580.6 L710.8,575.6 L699.1,569Z" fill="#d4590f"/><path d="M691.2,566.5 L703,574.1 L699.1,569 L687.4,561.3Z" fill="#d65e0f"/><path d="M679.5,557.1 L691.2,566.5 L687.4,561.3 L675.7,551.9Z" fill="#d8630f"/><path d="M667.7,546.2 L679.5,557.1 L675.7,551.9 L663.9,540.8Z" fill="#d96a0f"/><path d="M659.7,476.8 L667.7,546.2 L663.9,540.8 L655.9,475.5Z" fill="#d28011"/><path d="M647.6,478.7 L659.7,476.8 L655.9,475.5 L643.9,470.1Z" fill="#e1aa18"/><path d="M635.5,465.7 L647.6,478.7 L643.9,470.1 L631.9,449.8Z" fill="#d1a718"/><path d="M623.5,455.1 L635.5,465.7 L631.9,449.8 L619.9,430.7Z" fill="#ceb71a"/><path d="M611.3,444.8 L623.5,455.1 L619.9,430.7 L607.8,411.7Z" fill="#b8b61a"/><path d="M599.1,438.9 L611.3,444.8 L607.8,411.7 L595.7,397.5Z" fill="#a3b319"/><path d="M586.9,432.3 L599.1,438.9 L597.4,418.2 L585.2,409.3Z" fill="#a3b319" stroke="#a3b319" stroke-width="0.6"/><path d="M585.2,409.3 L597.4,418.2 L595.7,397.5 L583.5,386.4Z" fill="#78a419" stroke="#78a419" stroke-width="0.6"/><path d="M586.9,432.3 L599.1,438.9 L595.7,397.5 L583.5,386.4Z" fill="none"/><path d="M574.7,428.1 L586.9,432.3 L585.2,409.3 L573,403.6Z" fill="#95af19" stroke="#95af19" stroke-width="0.6"/><path d="M573,403.6 L585.2,409.3 L583.5,386.4 L571.3,379.1Z" fill="#67a01a" stroke="#67a01a" stroke-width="0.6"/><path d="M574.7,428.1 L586.9,432.3 L583.5,386.4 L571.3,379.1Z" fill="none"/><path d="M562.4,422.7 L574.7,428.1 L573,403.6 L560.7,397.4Z" fill="#88aa19" stroke="#88aa19" stroke-width="0.6"/><path d="M560.7,397.4 L573,403.6 L571.3,379.1 L559,372.2Z" fill="#5c9c1a" stroke="#5c9c1a" stroke-width="0.6"/><path d="M562.4,422.7 L574.7,428.1 L571.3,379.1 L559,372.2Z" fill="none"/><path d="M550.1,417.9 L562.4,422.7 L560.7,397.4 L548.4,392Z" fill="#7ba619" stroke="#7ba619" stroke-width="0.6"/><path d="M548.4,392 L560.7,397.4 L559,372.2 L546.7,366.1Z" fill="#51991b" stroke="#51991b" stroke-width="0.6"/><path d="M550.1,417.9 L562.4,422.7 L559,372.2 L546.7,366.1Z" fill="none"/><path d="M537.7,414.2 L550.1,417.9 L548.4,392 L536,387.8Z" fill="#70a219" stroke="#70a219" stroke-width="0.6"/><path d="M536,387.8 L548.4,392 L546.7,366.1 L534.4,361.4Z" fill="#48961b" stroke="#48961b" stroke-width="0.6"/><path d="M537.7,414.2 L550.1,417.9 L546.7,366.1 L534.4,361.4Z" fill="none"/><path d="M525.4,409.1 L537.7,414.2 L536,387.8 L523.7,382Z" fill="#669f1a" stroke="#669f1a" stroke-width="0.6"/><path d="M523.7,382 L536,387.8 L534.4,361.4 L522,354.9Z" fill="#3e931b" stroke="#3e931b" stroke-width="0.6"/><path d="M525.4,409.1 L537.7,414.2 L534.4,361.4 L522,354.9Z" fill="none"/><path d="M512.9,400.6 L525.4,409.1 L523.7,382 L511.3,372.5Z" fill="#599b1a" stroke="#599b1a" stroke-width="0.6"/><path d="M511.3,372.5 L523.7,382 L522,354.9 L509.6,344.3Z" fill="#37901d" stroke="#37901d" stroke-width="0.6"/><path d="M512.9,400.6 L525.4,409.1 L522,354.9 L509.6,344.3Z" fill="none"/><path d="M500.5,390.3 L512.9,400.6 L511.3,372.5 L498.8,360.9Z" fill="#49951b" stroke="#49951b" stroke-width="0.6"/><path d="M498.8,360.9 L511.3,372.5 L509.6,344.3 L497.1,331.5Z" fill="#308e20" stroke="#308e20" stroke-width="0.6"/><path d="M500.5,390.3 L512.9,400.6 L509.6,344.3 L497.1,331.5Z" fill="none"/><path d="M488,380.1 L500.5,390.3 L498.8,360.9 L486.3,349.5Z" fill="#3a911c" stroke="#3a911c" stroke-width="0.6"/><path d="M486.3,349.5 L498.8,360.9 L497.1,331.5 L484.6,318.8Z" fill="#278b22" stroke="#278b22" stroke-width="0.6"/><path d="M488,380.1 L500.5,390.3 L497.1,331.5 L484.6,318.8Z" fill="none"/><path d="M475.5,371.7 L488,380.1 L486.3,349.5 L473.8,340Z" fill="#338f1e" stroke="#338f1e" stroke-width="0.6"/><path d="M473.8,340 L486.3,349.5 L484.6,318.8 L472.1,308.3Z" fill="#208925" stroke="#208925" stroke-width="0.6"/><path d="M475.5,371.7 L488,380.1 L484.6,318.8 L472.1,308.3Z" fill="none"/><path d="M462.9,363.8 L475.5,371.7 L473.8,340 L461.2,331.1Z" fill="#2d8d21" stroke="#2d8d21" stroke-width="0.6"/><path d="M461.2,331.1 L473.8,340 L472.1,308.3 L459.5,298.3Z" fill="#1b8829" stroke="#1b8829" stroke-width="0.6"/><path d="M462.9,363.8 L475.5,371.7 L472.1,308.3 L459.5,298.3Z" fill="none"/><path d="M450.3,357 L462.9,363.8 L461.8,342 L449.2,334.7Z" fill="#2b8d21" stroke="#2b8d21" stroke-width="0.6"/><path d="M449.2,334.7 L461.8,342 L460.6,320.2 L448,312.3Z" fill="#1e8926" stroke="#1e8926" stroke-width="0.6"/><path d="M448,312.3 L460.6,320.2 L459.5,298.3 L446.9,289.9Z" fill="#198737" stroke="#198737" stroke-width="0.6"/><path d="M450.3,357 L462.9,363.8 L459.5,298.3 L446.9,289.9Z" fill="none"/><path d="M437.7,352.5 L450.3,357 L449.2,334.7 L436.6,329.7Z" fill="#278c23" stroke="#278c23" stroke-width="0.6"/><path d="M436.6,329.7 L449.2,334.7 L448,312.3 L435.4,306.9Z" fill="#1b882a" stroke="#1b882a" stroke-width="0.6"/><path d="M435.4,306.9 L448,312.3 L446.9,289.9 L434.3,284.1Z" fill="#18873e" stroke="#18873e" stroke-width="0.6"/><path d="M437.7,352.5 L450.3,357 L446.9,289.9 L434.3,284.1Z" fill="none"/><path d="M426,363 L437.7,352.5 L436.6,329.7 L424.8,340.9Z" fill="#298e23" stroke="#298e23" stroke-width="0.6"/><path d="M424.8,340.9 L436.6,329.7 L435.4,306.9 L423.7,318.8Z" fill="#1c8a28" stroke="#1c8a28" stroke-width="0.6"/><path d="M423.7,318.8 L435.4,306.9 L434.3,284.1 L422.5,296.7Z" fill="#19893c" stroke="#19893c" stroke-width="0.6"/><path d="M426,363 L437.7,352.5 L434.3,284.1 L422.5,296.7Z" fill="none"/><path d="M414.3,384.6 L426,363 L424.2,329.9 L412.6,353.9Z" fill="#319120" stroke="#319120" stroke-width="0.6"/><path d="M412.6,353.9 L424.2,329.9 L422.5,296.7 L410.9,323.1Z" fill="#1d8b27" stroke="#1d8b27" stroke-width="0.6"/><path d="M414.3,384.6 L426,363 L422.5,296.7 L410.9,323.1Z" fill="none"/><path d="M402.7,410.7 L414.3,384.6 L412.6,353.9 L401,382.8Z" fill="#45971b" stroke="#45971b" stroke-width="0.6"/><path d="M401,382.8 L412.6,353.9 L410.9,323.1 L399.3,354.9Z" fill="#2f9121" stroke="#2f9121" stroke-width="0.6"/><path d="M402.7,410.7 L414.3,384.6 L410.9,323.1 L399.3,354.9Z" fill="none"/><path d="M390.8,414 L402.7,410.7 L401,382.8 L389.2,386.3Z" fill="#5d9d1a" stroke="#5d9d1a" stroke-width="0.6"/><path d="M389.2,386.3 L401,382.8 L399.3,354.9 L387.5,358.7Z" fill="#39931d" stroke="#39931d" stroke-width="0.6"/><path d="M390.8,414 L402.7,410.7 L399.3,354.9 L387.5,358.7Z" fill="none"/><path d="M378.9,414.8 L390.8,414 L389.2,386.3 L377.3,387.1Z" fill="#5f9e1a" stroke="#5f9e1a" stroke-width="0.6"/><path d="M377.3,387.1 L389.2,386.3 L387.5,358.7 L375.6,359.4Z" fill="#3a931d" stroke="#3a931d" stroke-width="0.6"/><path d="M378.9,414.8 L390.8,414 L387.5,358.7 L375.6,359.4Z" fill="none"/><path d="M367.1,418.9 L378.9,414.8 L377.3,387.1 L365.4,391.6Z" fill="#629f1a" stroke="#629f1a" stroke-width="0.6"/><path d="M365.4,391.6 L377.3,387.1 L375.6,359.4 L363.8,364.3Z" fill="#3b941c" stroke="#3b941c" stroke-width="0.6"/><path d="M367.1,418.9 L378.9,414.8 L375.6,359.4 L363.8,364.3Z" fill="none"/><path d="M355.3,426.9 L367.1,418.9 L365.4,391.6 L353.6,400.4Z" fill="#6ca31a" stroke="#6ca31a" stroke-width="0.6"/><path d="M353.6,400.4 L365.4,391.6 L363.8,364.3 L352,373.9Z" fill="#43961c" stroke="#43961c" stroke-width="0.6"/><path d="M355.3,426.9 L367.1,418.9 L363.8,364.3 L352,373.9Z" fill="none"/><path d="M343.5,440 L355.3,426.9 L353.6,400.4 L341.9,415Z" fill="#82aa1a" stroke="#82aa1a" stroke-width="0.6"/><path d="M341.9,415 L353.6,400.4 L352,373.9 L340.3,390Z" fill="#569d1b" stroke="#569d1b" stroke-width="0.6"/><path d="M343.5,440 L355.3,426.9 L352,373.9 L340.3,390Z" fill="none"/><path d="M331.6,441.7 L343.5,440 L341.9,415 L330,421Z" fill="#93b01a" stroke="#93b01a" stroke-width="0.6"/><path d="M330,421 L341.9,415 L340.3,390 L328.5,400.3Z" fill="#68a21a" stroke="#68a21a" stroke-width="0.6"/><path d="M331.6,441.7 L343.5,440 L340.3,390 L328.5,400.3Z" fill="none"/><path d="M319.5,435.6 L331.6,441.7 L328.5,400.3 L316.6,407Z" fill="#82aa1a"/><path d="M307.6,440.8 L319.5,435.6 L316.6,407 L304.9,425.1Z" fill="#90b21a"/><path d="M296,462.2 L307.6,440.8 L304.9,425.1 L293.5,453.6Z" fill="#b1b81a"/><path d="M281.7,452.7 L296,462.2 L293.5,453.6 L279.3,445Z" fill="#b8b61a"/><path d="M267.4,441.6 L281.7,452.7 L279.3,445 L265,434.7Z" fill="#a4b019"/><path d="M250.1,454.8 L267.4,441.6 L265,434.7 L247.8,447.8Z" fill="#afbb1a"/><path d="M232.9,476.2 L250.1,454.8 L247.8,447.8 L230.7,469.5Z" fill="#cac01b"/><path d="M216,508.5 L232.9,476.2 L230.7,469.5 L213.9,502.4Z" fill="#dcb119"/><path d="M198.8,524.1 L216,508.5 L213.9,502.4 L196.7,518.3Z" fill="#eba317"/><path d="M180.5,498 L198.8,524.1 L196.7,518.3 L178.5,491.8Z" fill="#d29815"/><path d="M162,467.4 L180.5,498 L178.5,491.8 L160,460.7Z" fill="#c5ab18"/><path d="M769.2,409.9 L782.5,425.4 L778.4,415.9 L765,407.8Z" fill="#98ab18"/><path d="M756.7,430.5 L769.2,409.9 L765,407.8 L752.6,418.4Z" fill="#a4b71a"/><path d="M749.9,474.8 L756.7,430.5 L752.6,418.4 L745.8,468.9Z" fill="#cfb61a"/><path d="M743.1,524.9 L749.9,474.8 L745.8,468.9 L739.1,519.5Z" fill="#e09114"/><path d="M736.4,573.8 L743.1,524.9 L739.1,519.5 L732.4,569Z" fill="#dd6d0f"/><path d="M729.8,588.8 L736.4,573.8 L732.4,569 L725.8,583.9Z" fill="#d85910"/><path d="M718.7,585.7 L729.8,588.8 L725.8,583.9 L714.7,580.6Z" fill="#d65510"/><path d="M706.9,579.2 L718.7,585.7 L714.7,580.6 L703,574.1Z" fill="#d4580f"/><path d="M695.1,571.7 L706.9,579.2 L703,574.1 L691.2,566.5Z" fill="#d65d0f"/><path d="M683.3,562.4 L695.1,571.7 L691.2,566.5 L679.5,557.1Z" fill="#d7620f"/><path d="M671.5,551.6 L683.3,562.4 L679.5,557.1 L667.7,546.2Z" fill="#d9690f"/><path d="M663.5,484.7 L671.5,551.6 L667.7,546.2 L659.7,476.8Z" fill="#d37f11"/><path d="M651.3,487.5 L663.5,484.7 L659.7,476.8 L647.6,478.7Z" fill="#e9ac18"/><path d="M639.2,481.9 L651.3,487.5 L647.6,478.7 L635.5,465.7Z" fill="#dca617"/><path d="M627,480.2 L639.2,481.9 L635.5,465.7 L623.5,455.1Z" fill="#ddb119"/><path d="M614.8,478.9 L627,480.2 L623.5,455.1 L611.3,444.8Z" fill="#dab61a"/><path d="M602.6,481.5 L614.8,478.9 L611.3,444.8 L599.1,438.9Z" fill="#d9ba1a"/><path d="M590.3,479.6 L602.6,481.5 L600.8,460.2 L588.6,455.9Z" fill="#dab319" stroke="#dab319" stroke-width="0.6"/><path d="M588.6,455.9 L600.8,460.2 L599.1,438.9 L586.9,432.3Z" fill="#cabd1b" stroke="#cabd1b" stroke-width="0.6"/><path d="M590.3,479.6 L602.6,481.5 L599.1,438.9 L586.9,432.3Z" fill="none"/><path d="M578.1,478.6 L590.3,479.6 L588.6,455.9 L576.4,453.4Z" fill="#d9b61a" stroke="#d9b61a" stroke-width="0.6"/><path d="M576.4,453.4 L588.6,455.9 L586.9,432.3 L574.7,428.1Z" fill="#c1bb1b" stroke="#c1bb1b" stroke-width="0.6"/><path d="M578.1,478.6 L590.3,479.6 L586.9,432.3 L574.7,428.1Z" fill="none"/><path d="M565.8,474.6 L578.1,478.6 L576.4,453.4 L564.1,448.6Z" fill="#d7b81a" stroke="#d7b81a" stroke-width="0.6"/><path d="M564.1,448.6 L576.4,453.4 L574.7,428.1 L562.4,422.7Z" fill="#b8b91a" stroke="#b8b91a" stroke-width="0.6"/><path d="M565.8,474.6 L578.1,478.6 L574.7,428.1 L562.4,422.7Z" fill="none"/><path d="M553.4,471.1 L565.8,474.6 L564.1,448.6 L551.8,444.5Z" fill="#d5bc1b" stroke="#d5bc1b" stroke-width="0.6"/><path d="M551.8,444.5 L564.1,448.6 L562.4,422.7 L550.1,417.9Z" fill="#aeb61a" stroke="#aeb61a" stroke-width="0.6"/><path d="M553.4,471.1 L565.8,474.6 L562.4,422.7 L550.1,417.9Z" fill="none"/><path d="M541.1,468.6 L553.4,471.1 L551.8,444.5 L539.4,441.4Z" fill="#d3bf1b" stroke="#d3bf1b" stroke-width="0.6"/><path d="M539.4,441.4 L551.8,444.5 L550.1,417.9 L537.7,414.2Z" fill="#a6b51a" stroke="#a6b51a" stroke-width="0.6"/><path d="M541.1,468.6 L553.4,471.1 L550.1,417.9 L537.7,414.2Z" fill="none"/><path d="M528.7,464.8 L541.1,468.6 L539.4,441.4 L527,436.9Z" fill="#ccbd1b" stroke="#ccbd1b" stroke-width="0.6"/><path d="M527,436.9 L539.4,441.4 L537.7,414.2 L525.4,409.1Z" fill="#9bb119" stroke="#9bb119" stroke-width="0.6"/><path d="M528.7,464.8 L541.1,468.6 L537.7,414.2 L525.4,409.1Z" fill="none"/><path d="M516.3,458.5 L528.7,464.8 L527,436.9 L514.6,429.5Z" fill="#c0ba1b" stroke="#c0ba1b" stroke-width="0.6"/><path d="M514.6,429.5 L527,436.9 L525.4,409.1 L512.9,400.6Z" fill="#8cab19" stroke="#8cab19" stroke-width="0.6"/><path d="M516.3,458.5 L528.7,464.8 L525.4,409.1 L512.9,400.6Z" fill="none"/><path d="M503.9,450.8 L516.3,458.5 L514.6,429.5 L502.2,420.5Z" fill="#b0b61a" stroke="#b0b61a" stroke-width="0.6"/><path d="M502.2,420.5 L514.6,429.5 L512.9,400.6 L500.5,390.3Z" fill="#77a419" stroke="#77a419" stroke-width="0.6"/><path d="M503.9,450.8 L516.3,458.5 L512.9,400.6 L500.5,390.3Z" fill="none"/><path d="M491.4,443.2 L503.9,450.8 L502.2,420.5 L489.7,411.7Z" fill="#a0b219" stroke="#a0b219" stroke-width="0.6"/><path d="M489.7,411.7 L502.2,420.5 L500.5,390.3 L488,380.1Z" fill="#649e1a" stroke="#649e1a" stroke-width="0.6"/><path d="M491.4,443.2 L503.9,450.8 L500.5,390.3 L488,380.1Z" fill="none"/><path d="M478.9,436.9 L491.4,443.2 L489.7,411.7 L477.2,404.3Z" fill="#8fac19" stroke="#8fac19" stroke-width="0.6"/><path d="M477.2,404.3 L489.7,411.7 L488,380.1 L475.5,371.7Z" fill="#569a1a" stroke="#569a1a" stroke-width="0.6"/><path d="M478.9,436.9 L491.4,443.2 L488,380.1 L475.5,371.7Z" fill="none"/><path d="M466.3,431 L478.9,436.9 L477.7,415.2 L465.2,408.6Z" fill="#8aab19" stroke="#8aab19" stroke-width="0.6"/><path d="M465.2,408.6 L477.7,415.2 L476.6,393.5 L464.1,386.2Z" fill="#629d1a" stroke="#629d1a" stroke-width="0.6"/><path d="M464.1,386.2 L476.6,393.5 L475.5,371.7 L462.9,363.8Z" fill="#40931b" stroke="#40931b" stroke-width="0.6"/><path d="M466.3,431 L478.9,436.9 L475.5,371.7 L462.9,363.8Z" fill="none"/><path d="M453.8,426.1 L466.3,431 L465.2,408.6 L452.6,403.1Z" fill="#7da619" stroke="#7da619" stroke-width="0.6"/><path d="M452.6,403.1 L465.2,408.6 L464.1,386.2 L451.5,380Z" fill="#579a1a" stroke="#579a1a" stroke-width="0.6"/><path d="M451.5,380 L464.1,386.2 L462.9,363.8 L450.3,357Z" fill="#39911c" stroke="#39911c" stroke-width="0.6"/><path d="M453.8,426.1 L466.3,431 L462.9,363.8 L450.3,357Z" fill="none"/><path d="M441.2,422.8 L453.8,426.1 L452.6,403.1 L440,399.4Z" fill="#72a319" stroke="#72a319" stroke-width="0.6"/><path d="M440,399.4 L452.6,403.1 L451.5,380 L438.9,375.9Z" fill="#4e981b" stroke="#4e981b" stroke-width="0.6"/><path d="M438.9,375.9 L451.5,380 L450.3,357 L437.7,352.5Z" fill="#35901e" stroke="#35901e" stroke-width="0.6"/><path d="M441.2,422.8 L453.8,426.1 L450.3,357 L437.7,352.5Z" fill="none"/><path d="M429.4,431 L441.2,422.8 L440,399.4 L428.3,408.3Z" fill="#78a61a" stroke="#78a61a" stroke-width="0.6"/><path d="M428.3,408.3 L440,399.4 L438.9,375.9 L427.1,385.7Z" fill="#529a1b" stroke="#529a1b" stroke-width="0.6"/><path d="M427.1,385.7 L438.9,375.9 L437.7,352.5 L426,363Z" fill="#37921e" stroke="#37921e" stroke-width="0.6"/><path d="M429.4,431 L441.2,422.8 L437.7,352.5 L426,363Z" fill="none"/><path d="M417.7,447.9 L429.4,431 L428.3,408.3 L416.6,426.8Z" fill="#93b01a" stroke="#93b01a" stroke-width="0.6"/><path d="M416.6,426.8 L428.3,408.3 L427.1,385.7 L415.4,405.7Z" fill="#68a21a" stroke="#68a21a" stroke-width="0.6"/><path d="M415.4,405.7 L427.1,385.7 L426,363 L414.3,384.6Z" fill="#47981b" stroke="#47981b" stroke-width="0.6"/><path d="M417.7,447.9 L429.4,431 L426,363 L414.3,384.6Z" fill="none"/><path d="M406,468.2 L417.7,447.9 L416,416.3 L404.3,439.5Z" fill="#b0b91a" stroke="#b0b91a" stroke-width="0.6"/><path d="M404.3,439.5 L416,416.3 L414.3,384.6 L402.7,410.7Z" fill="#74a51a" stroke="#74a51a" stroke-width="0.6"/><path d="M406,468.2 L417.7,447.9 L414.3,384.6 L402.7,410.7Z" fill="none"/><path d="M394.2,470.9 L406,468.2 L404.3,439.5 L392.5,442.5Z" fill="#c4bc1b" stroke="#c4bc1b" stroke-width="0.6"/><path d="M392.5,442.5 L404.3,439.5 L402.7,410.7 L390.8,414Z" fill="#90ae1a" stroke="#90ae1a" stroke-width="0.6"/><path d="M394.2,470.9 L406,468.2 L402.7,410.7 L390.8,414Z" fill="none"/><path d="M382.3,471.7 L394.2,470.9 L392.5,442.5 L380.6,443.2Z" fill="#c5bd1b" stroke="#c5bd1b" stroke-width="0.6"/><path d="M380.6,443.2 L392.5,442.5 L390.8,414 L378.9,414.8Z" fill="#92af1a" stroke="#92af1a" stroke-width="0.6"/><path d="M382.3,471.7 L394.2,470.9 L390.8,414 L378.9,414.8Z" fill="none"/><path d="M370.4,475.1 L382.3,471.7 L380.6,443.2 L368.8,447Z" fill="#c9be1b" stroke="#c9be1b" stroke-width="0.6"/><path d="M368.8,447 L380.6,443.2 L378.9,414.8 L367.1,418.9Z" fill="#96b01a" stroke="#96b01a" stroke-width="0.6"/><path d="M370.4,475.1 L382.3,471.7 L378.9,414.8 L367.1,418.9Z" fill="none"/><path d="M358.6,481.5 L370.4,475.1 L368.8,447 L356.9,454.2Z" fill="#d2c01c" stroke="#d2c01c" stroke-width="0.6"/><path d="M356.9,454.2 L368.8,447 L367.1,418.9 L355.3,426.9Z" fill="#a2b51a" stroke="#a2b51a" stroke-width="0.6"/><path d="M358.6,481.5 L370.4,475.1 L367.1,418.9 L355.3,426.9Z" fill="none"/><path d="M346.8,491.5 L358.6,481.5 L356.9,454.2 L345.1,465.7Z" fill="#d8bd1b" stroke="#d8bd1b" stroke-width="0.6"/><path d="M345.1,465.7 L356.9,454.2 L355.3,426.9 L343.5,440Z" fill="#b4ba1a" stroke="#b4ba1a" stroke-width="0.6"/><path d="M346.8,491.5 L358.6,481.5 L355.3,426.9 L343.5,440Z" fill="none"/><path d="M334.7,484.4 L346.8,491.5 L345.1,465.7 L333.1,463.1Z" fill="#d7b91a" stroke="#d7b91a" stroke-width="0.6"/><path d="M333.1,463.1 L345.1,465.7 L343.5,440 L331.6,441.7Z" fill="#bcba1b" stroke="#bcba1b" stroke-width="0.6"/><path d="M334.7,484.4 L346.8,491.5 L343.5,440 L331.6,441.7Z" fill="none"/><path d="M322.4,465 L334.7,484.4 L331.6,441.7 L319.5,435.6Z" fill="#bdb81a"/><path d="M310.3,456.9 L322.4,465 L319.5,435.6 L307.6,440.8Z" fill="#b5bb1b"/><path d="M298.5,471 L310.3,456.9 L307.6,440.8 L296,462.2Z" fill="#c3bf1b"/><path d="M284.2,460.5 L298.5,471 L296,462.2 L281.7,452.7Z" fill="#c0b71a"/><path d="M269.8,448.5 L284.2,460.5 L281.7,452.7 L267.4,441.6Z" fill="#aab019"/><path d="M252.4,461.8 L269.8,448.5 L267.4,441.6 L250.1,454.8Z" fill="#b5bc1b"/><path d="M235.2,483 L252.4,461.8 L250.1,454.8 L232.9,476.2Z" fill="#d1c11c"/><path d="M218.2,514.6 L235.2,483 L232.9,476.2 L216,508.5Z" fill="#ddaf19"/><path d="M200.9,529.9 L218.2,514.6 L216,508.5 L198.8,524.1Z" fill="#eca116"/><path d="M182.6,504.3 L200.9,529.9 L198.8,524.1 L180.5,498Z" fill="#d39615"/><path d="M164,474.2 L182.6,504.3 L180.5,498 L162,467.4Z" fill="#c6a918"/><path d="M773.3,419.1 L786.8,428 L782.5,425.4 L769.2,409.9Z" fill="#9ead18"/><path d="M760.8,437.9 L773.3,419.1 L769.2,409.9 L756.7,430.5Z" fill="#adb81a"/><path d="M754,480.9 L760.8,437.9 L756.7,430.5 L749.9,474.8Z" fill="#d1b319"/><path d="M747.2,530.4 L754,480.9 L749.9,474.8 L743.1,524.9Z" fill="#e09013"/><path d="M740.5,578.8 L747.2,530.4 L743.1,524.9 L736.4,573.8Z" fill="#dd6c0f"/><path d="M733.8,593.7 L740.5,578.8 L736.4,573.8 L729.8,588.8Z" fill="#d85810"/><path d="M722.7,590.7 L733.8,593.7 L729.8,588.8 L718.7,585.7Z" fill="#d55410"/><path d="M710.9,584.3 L722.7,590.7 L718.7,585.7 L706.9,579.2Z" fill="#d3570f"/><path d="M699,576.9 L710.9,584.3 L706.9,579.2 L695.1,571.7Z" fill="#d55c0f"/><path d="M687.2,567.7 L699,576.9 L695.1,571.7 L683.3,562.4Z" fill="#d7610f"/><path d="M675.3,557.1 L687.2,567.7 L683.3,562.4 L671.5,551.6Z" fill="#d9680f"/><path d="M667.3,483.1 L675.3,557.1 L671.5,551.6 L663.5,484.7Z" fill="#d37e11"/><path d="M655,496.5 L667.3,483.1 L663.5,484.7 L651.3,487.5Z" fill="#e7a717"/><path d="M642.8,498.3 L655,496.5 L651.3,487.5 L639.2,481.9Z" fill="#e9a617"/><path d="M630.6,505.4 L642.8,498.3 L639.2,481.9 L627,480.2Z" fill="#eba817"/><path d="M618.3,512.9 L630.6,505.4 L627,480.2 L614.8,478.9Z" fill="#eaa517"/><path d="M606,524 L618.3,512.9 L614.8,478.9 L602.6,481.5Z" fill="#eba116"/><path d="M593.7,526.6 L606,524 L604.3,502.7 L592,503Z" fill="#e99414" stroke="#e99414" stroke-width="0.6"/><path d="M592,503 L604.3,502.7 L602.6,481.5 L590.3,479.6Z" fill="#e5a517" stroke="#e5a517" stroke-width="0.6"/><path d="M593.7,526.6 L606,524 L602.6,481.5 L590.3,479.6Z" fill="none"/><path d="M581.4,528.8 L593.7,526.6 L592,503 L579.7,503.7Z" fill="#e99414" stroke="#e99414" stroke-width="0.6"/><path d="M579.7,503.7 L592,503 L590.3,479.6 L578.1,478.6Z" fill="#e4a517" stroke="#e4a517" stroke-width="0.6"/><path d="M581.4,528.8 L593.7,526.6 L590.3,479.6 L578.1,478.6Z" fill="none"/><path d="M569.1,526.3 L581.4,528.8 L579.7,503.7 L567.5,500.4Z" fill="#e89414" stroke="#e89414" stroke-width="0.6"/><path d="M567.5,500.4 L579.7,503.7 L578.1,478.6 L565.8,474.6Z" fill="#e2a617" stroke="#e2a617" stroke-width="0.6"/><path d="M569.1,526.3 L581.4,528.8 L578.1,478.6 L565.8,474.6Z" fill="none"/><path d="M556.8,524.1 L569.1,526.3 L567.5,500.4 L555.1,497.6Z" fill="#e89714" stroke="#e89714" stroke-width="0.6"/><path d="M555.1,497.6 L567.5,500.4 L565.8,474.6 L553.4,471.1Z" fill="#e0aa18" stroke="#e0aa18" stroke-width="0.6"/><path d="M556.8,524.1 L569.1,526.3 L565.8,474.6 L553.4,471.1Z" fill="none"/><path d="M544.5,522.6 L556.8,524.1 L555.1,497.6 L542.8,495.6Z" fill="#e89915" stroke="#e89915" stroke-width="0.6"/><path d="M542.8,495.6 L555.1,497.6 L553.4,471.1 L541.1,468.6Z" fill="#dfac18" stroke="#dfac18" stroke-width="0.6"/><path d="M544.5,522.6 L556.8,524.1 L553.4,471.1 L541.1,468.6Z" fill="none"/><path d="M532.1,520.2 L544.5,522.6 L542.8,495.6 L530.4,492.5Z" fill="#e79b15" stroke="#e79b15" stroke-width="0.6"/><path d="M530.4,492.5 L542.8,495.6 L541.1,468.6 L528.7,464.8Z" fill="#ddaf19" stroke="#ddaf19" stroke-width="0.6"/><path d="M532.1,520.2 L544.5,522.6 L541.1,468.6 L528.7,464.8Z" fill="none"/><path d="M519.7,516 L532.1,520.2 L530.4,492.5 L518,487.3Z" fill="#e69e16" stroke="#e69e16" stroke-width="0.6"/><path d="M518,487.3 L530.4,492.5 L528.7,464.8 L516.3,458.5Z" fill="#dab219" stroke="#dab219" stroke-width="0.6"/><path d="M519.7,516 L532.1,520.2 L528.7,464.8 L516.3,458.5Z" fill="none"/><path d="M507.3,510.8 L519.7,516 L518,487.3 L505.6,480.8Z" fill="#e2a217" stroke="#e2a217" stroke-width="0.6"/><path d="M505.6,480.8 L518,487.3 L516.3,458.5 L503.9,450.8Z" fill="#d6b71a" stroke="#d6b71a" stroke-width="0.6"/><path d="M507.3,510.8 L519.7,516 L516.3,458.5 L503.9,450.8Z" fill="none"/><path d="M494.8,505.8 L507.3,510.8 L505.6,480.8 L493.1,474.5Z" fill="#dfa717" stroke="#dfa717" stroke-width="0.6"/><path d="M493.1,474.5 L505.6,480.8 L503.9,450.8 L491.4,443.2Z" fill="#d3bd1b" stroke="#d3bd1b" stroke-width="0.6"/><path d="M494.8,505.8 L507.3,510.8 L503.9,450.8 L491.4,443.2Z" fill="none"/><path d="M482.3,501.6 L494.8,505.8 L493.1,474.5 L480.6,469.3Z" fill="#ddac18" stroke="#ddac18" stroke-width="0.6"/><path d="M480.6,469.3 L493.1,474.5 L491.4,443.2 L478.9,436.9Z" fill="#c9bc1b" stroke="#c9bc1b" stroke-width="0.6"/><path d="M482.3,501.6 L494.8,505.8 L491.4,443.2 L478.9,436.9Z" fill="none"/><path d="M469.8,497.7 L482.3,501.6 L481.2,480.1 L468.6,475.5Z" fill="#ddac18" stroke="#ddac18" stroke-width="0.6"/><path d="M468.6,475.5 L481.2,480.1 L480,458.5 L467.5,453.3Z" fill="#d4bb1b" stroke="#d4bb1b" stroke-width="0.6"/><path d="M467.5,453.3 L480,458.5 L478.9,436.9 L466.3,431Z" fill="#b4b71a" stroke="#b4b71a" stroke-width="0.6"/><path d="M469.8,497.7 L482.3,501.6 L478.9,436.9 L466.3,431Z" fill="none"/><path d="M457.2,494.5 L469.8,497.7 L468.6,475.5 L456.1,471.7Z" fill="#dbaf19" stroke="#dbaf19" stroke-width="0.6"/><path d="M456.1,471.7 L468.6,475.5 L467.5,453.3 L454.9,448.9Z" fill="#d0be1b" stroke="#d0be1b" stroke-width="0.6"/><path d="M454.9,448.9 L467.5,453.3 L466.3,431 L453.8,426.1Z" fill="#aab51a" stroke="#aab51a" stroke-width="0.6"/><path d="M457.2,494.5 L469.8,497.7 L466.3,431 L453.8,426.1Z" fill="none"/><path d="M444.6,492.5 L457.2,494.5 L456.1,471.7 L443.5,469.2Z" fill="#dab219" stroke="#dab219" stroke-width="0.6"/><path d="M443.5,469.2 L456.1,471.7 L454.9,448.9 L442.3,446Z" fill="#c9bc1b" stroke="#c9bc1b" stroke-width="0.6"/><path d="M442.3,446 L454.9,448.9 L453.8,426.1 L441.2,422.8Z" fill="#a1b319" stroke="#a1b319" stroke-width="0.6"/><path d="M444.6,492.5 L457.2,494.5 L453.8,426.1 L441.2,422.8Z" fill="none"/><path d="M432.9,498.5 L444.6,492.5 L443.5,469.2 L431.7,476Z" fill="#dcb219" stroke="#dcb219" stroke-width="0.6"/><path d="M431.7,476 L443.5,469.2 L442.3,446 L430.6,453.5Z" fill="#cdbf1b" stroke="#cdbf1b" stroke-width="0.6"/><path d="M430.6,453.5 L442.3,446 L441.2,422.8 L429.4,431Z" fill="#a6b51a" stroke="#a6b51a" stroke-width="0.6"/><path d="M432.9,498.5 L444.6,492.5 L441.2,422.8 L429.4,431Z" fill="none"/><path d="M421.1,510.7 L432.9,498.5 L431.1,464.8 L419.4,479.3Z" fill="#dfb019" stroke="#dfb019" stroke-width="0.6"/><path d="M419.4,479.3 L431.1,464.8 L429.4,431 L417.7,447.9Z" fill="#c5bd1b" stroke="#c5bd1b" stroke-width="0.6"/><path d="M421.1,510.7 L432.9,498.5 L429.4,431 L417.7,447.9Z" fill="none"/><path d="M409.4,525.3 L421.1,510.7 L419.4,479.3 L407.7,496.7Z" fill="#e6a617" stroke="#e6a617" stroke-width="0.6"/><path d="M407.7,496.7 L419.4,479.3 L417.7,447.9 L406,468.2Z" fill="#d9bc1b" stroke="#d9bc1b" stroke-width="0.6"/><path d="M409.4,525.3 L421.1,510.7 L417.7,447.9 L406,468.2Z" fill="none"/><path d="M397.5,527.5 L409.4,525.3 L407.7,496.7 L395.8,499.2Z" fill="#e89f16" stroke="#e89f16" stroke-width="0.6"/><path d="M395.8,499.2 L407.7,496.7 L406,468.2 L394.2,470.9Z" fill="#dcb319" stroke="#dcb319" stroke-width="0.6"/><path d="M397.5,527.5 L409.4,525.3 L406,468.2 L394.2,470.9Z" fill="none"/><path d="M385.6,528.3 L397.5,527.5 L395.8,499.2 L384,500Z" fill="#e89e16" stroke="#e89e16" stroke-width="0.6"/><path d="M384,500 L395.8,499.2 L394.2,470.9 L382.3,471.7Z" fill="#dcb219" stroke="#dcb219" stroke-width="0.6"/><path d="M385.6,528.3 L397.5,527.5 L394.2,470.9 L382.3,471.7Z" fill="none"/><path d="M373.8,530.9 L385.6,528.3 L384,500 L372.1,503Z" fill="#e99d16" stroke="#e99d16" stroke-width="0.6"/><path d="M372.1,503 L384,500 L382.3,471.7 L370.4,475.1Z" fill="#ddb119" stroke="#ddb119" stroke-width="0.6"/><path d="M373.8,530.9 L385.6,528.3 L382.3,471.7 L370.4,475.1Z" fill="none"/><path d="M361.9,535.7 L373.8,530.9 L372.1,503 L360.2,508.6Z" fill="#e99b15" stroke="#e99b15" stroke-width="0.6"/><path d="M360.2,508.6 L372.1,503 L370.4,475.1 L358.6,481.5Z" fill="#dfaf19" stroke="#dfaf19" stroke-width="0.6"/><path d="M361.9,535.7 L373.8,530.9 L370.4,475.1 L358.6,481.5Z" fill="none"/><path d="M350,542.7 L361.9,535.7 L360.2,508.6 L348.4,517.1Z" fill="#ea9714" stroke="#ea9714" stroke-width="0.6"/><path d="M348.4,517.1 L360.2,508.6 L358.6,481.5 L346.8,491.5Z" fill="#e3aa18" stroke="#e3aa18" stroke-width="0.6"/><path d="M350,542.7 L361.9,535.7 L358.6,481.5 L346.8,491.5Z" fill="none"/><path d="M337.8,526.9 L350,542.7 L348.4,517.1 L336.3,505.7Z" fill="#e59614" stroke="#e59614" stroke-width="0.6"/><path d="M336.3,505.7 L348.4,517.1 L346.8,491.5 L334.7,484.4Z" fill="#dea717" stroke="#dea717" stroke-width="0.6"/><path d="M337.8,526.9 L350,542.7 L346.8,491.5 L334.7,484.4Z" fill="none"/><path d="M325.4,494.4 L337.8,526.9 L334.7,484.4 L322.4,465Z" fill="#d3a718"/><path d="M313,473 L325.4,494.4 L322.4,465 L310.3,456.9Z" fill="#cdb91b"/><path d="M301,479.8 L313,473 L310.3,456.9 L298.5,471Z" fill="#d7c51c"/><path d="M286.6,468.3 L301,479.8 L298.5,471 L284.2,460.5Z" fill="#c7b81a"/><path d="M272.2,455.4 L286.6,468.3 L284.2,460.5 L269.8,448.5Z" fill="#b0b119"/><path d="M254.8,468.9 L272.2,455.4 L269.8,448.5 L252.4,461.8Z" fill="#bcbe1b"/><path d="M237.5,489.8 L254.8,468.9 L252.4,461.8 L235.2,483Z" fill="#d7c21c"/><path d="M220.4,520.8 L237.5,489.8 L235.2,483 L218.2,514.6Z" fill="#dfad18"/><path d="M203,535.8 L220.4,520.8 L218.2,514.6 L200.9,529.9Z" fill="#eda016"/><path d="M184.6,510.6 L203,535.8 L200.9,529.9 L182.6,504.3Z" fill="#d59515"/><path d="M166,481 L184.6,510.6 L182.6,504.3 L164,474.2Z" fill="#c8a718"/><path d="M777.6,425.3 L791,441.5 L786.8,428 L773.3,419.1Z" fill="#a8b119"/><path d="M765,443.1 L777.6,425.3 L773.3,419.1 L760.8,437.9Z" fill="#b3b91a"/><path d="M758.2,486.9 L765,443.1 L760.8,437.9 L754,480.9Z" fill="#d2b019"/><path d="M751.3,535.8 L758.2,486.9 L754,480.9 L747.2,530.4Z" fill="#e08e13"/><path d="M744.5,583.7 L751.3,535.8 L747.2,530.4 L740.5,578.8Z" fill="#dd6b0f"/><path d="M737.9,598.7 L744.5,583.7 L740.5,578.8 L733.8,593.7Z" fill="#d75710"/><path d="M726.7,595.8 L737.9,598.7 L733.8,593.7 L722.7,590.7Z" fill="#d45310"/><path d="M714.8,589.5 L726.7,595.8 L722.7,590.7 L710.9,584.3Z" fill="#d3560f"/><path d="M703,582.1 L714.8,589.5 L710.9,584.3 L699,576.9Z" fill="#d55b0f"/><path d="M691.1,573 L703,582.1 L699,576.9 L687.2,567.7Z" fill="#d6600f"/><path d="M679.2,562.6 L691.1,573 L687.2,567.7 L675.3,557.1Z" fill="#d9670f"/><path d="M671.2,490.2 L679.2,562.6 L675.3,557.1 L667.3,483.1Z" fill="#d37e11"/><path d="M658.8,506 L671.2,490.2 L667.3,483.1 L655,496.5Z" fill="#e9a617"/><path d="M646.5,513.7 L658.8,506 L655,496.5 L642.8,498.3Z" fill="#f1a216"/><path d="M634.2,527.9 L646.5,513.7 L642.8,498.3 L630.6,505.4Z" fill="#f09b15"/><path d="M621.8,542.8 L634.2,527.9 L630.6,505.4 L618.3,512.9Z" fill="#ef9213"/><path d="M609.5,560.9 L621.8,542.8 L618.3,512.9 L606,524Z" fill="#ee8711"/><path d="M597.2,567.4 L609.5,560.9 L606,524 L593.7,526.6Z" fill="#ec7f10"/><path d="M584.9,572.3 L597.2,567.4 L593.7,526.6 L581.4,528.8Z" fill="#eb7c10"/><path d="M572.6,571 L584.9,572.3 L583.2,550.6 L570.8,548.6Z" fill="#e77410" stroke="#e77410" stroke-width="0.6"/><path d="M570.8,548.6 L583.2,550.6 L581.4,528.8 L569.1,526.3Z" fill="#e98311" stroke="#e98311" stroke-width="0.6"/><path d="M572.6,571 L584.9,572.3 L581.4,528.8 L569.1,526.3Z" fill="none"/><path d="M560.2,569.9 L572.6,571 L570.8,548.6 L558.5,547Z" fill="#e77610" stroke="#e77610" stroke-width="0.6"/><path d="M558.5,547 L570.8,548.6 L569.1,526.3 L556.8,524.1Z" fill="#e98511" stroke="#e98511" stroke-width="0.6"/><path d="M560.2,569.9 L572.6,571 L569.1,526.3 L556.8,524.1Z" fill="none"/><path d="M547.9,569.3 L560.2,569.9 L558.5,547 L546.2,545.9Z" fill="#e87710" stroke="#e87710" stroke-width="0.6"/><path d="M546.2,545.9 L558.5,547 L556.8,524.1 L544.5,522.6Z" fill="#e98712" stroke="#e98712" stroke-width="0.6"/><path d="M547.9,569.3 L560.2,569.9 L556.8,524.1 L544.5,522.6Z" fill="none"/><path d="M535.5,568.1 L547.9,569.3 L546.2,545.9 L533.8,544.1Z" fill="#e87810" stroke="#e87810" stroke-width="0.6"/><path d="M533.8,544.1 L546.2,545.9 L544.5,522.6 L532.1,520.2Z" fill="#e98912" stroke="#e98912" stroke-width="0.6"/><path d="M535.5,568.1 L547.9,569.3 L544.5,522.6 L532.1,520.2Z" fill="none"/><path d="M523.1,565.7 L535.5,568.1 L533.8,544.1 L521.4,540.8Z" fill="#e87a10" stroke="#e87a10" stroke-width="0.6"/><path d="M521.4,540.8 L533.8,544.1 L532.1,520.2 L519.7,516Z" fill="#e88b12" stroke="#e88b12" stroke-width="0.6"/><path d="M523.1,565.7 L535.5,568.1 L532.1,520.2 L519.7,516Z" fill="none"/><path d="M510.6,562.7 L523.1,565.7 L521.4,540.8 L508.9,536.8Z" fill="#e87c10" stroke="#e87c10" stroke-width="0.6"/><path d="M508.9,536.8 L521.4,540.8 L519.7,516 L507.3,510.8Z" fill="#e88f13" stroke="#e88f13" stroke-width="0.6"/><path d="M510.6,562.7 L523.1,565.7 L519.7,516 L507.3,510.8Z" fill="none"/><path d="M498.2,559.7 L510.6,562.7 L508.9,536.8 L496.5,532.7Z" fill="#e88010" stroke="#e88010" stroke-width="0.6"/><path d="M496.5,532.7 L508.9,536.8 L507.3,510.8 L494.8,505.8Z" fill="#e79314" stroke="#e79314" stroke-width="0.6"/><path d="M498.2,559.7 L510.6,562.7 L507.3,510.8 L494.8,505.8Z" fill="none"/><path d="M485.7,557.4 L498.2,559.7 L496.5,532.7 L484,529.5Z" fill="#e88311" stroke="#e88311" stroke-width="0.6"/><path d="M484,529.5 L496.5,532.7 L494.8,505.8 L482.3,501.6Z" fill="#e79715" stroke="#e79715" stroke-width="0.6"/><path d="M485.7,557.4 L498.2,559.7 L494.8,505.8 L482.3,501.6Z" fill="none"/><path d="M473.1,555.2 L485.7,557.4 L484,529.5 L471.5,526.5Z" fill="#e88611" stroke="#e88611" stroke-width="0.6"/><path d="M471.5,526.5 L484,529.5 L482.3,501.6 L469.8,497.7Z" fill="#e79b15" stroke="#e79b15" stroke-width="0.6"/><path d="M473.1,555.2 L485.7,557.4 L482.3,501.6 L469.8,497.7Z" fill="none"/><path d="M460.6,553.4 L473.1,555.2 L471.5,526.5 L458.9,524Z" fill="#e88812" stroke="#e88812" stroke-width="0.6"/><path d="M458.9,524 L471.5,526.5 L469.8,497.7 L457.2,494.5Z" fill="#e79e16" stroke="#e79e16" stroke-width="0.6"/><path d="M460.6,553.4 L473.1,555.2 L469.8,497.7 L457.2,494.5Z" fill="none"/><path d="M448,552.5 L460.6,553.4 L458.9,524 L446.3,522.5Z" fill="#e88a12" stroke="#e88a12" stroke-width="0.6"/><path d="M446.3,522.5 L458.9,524 L457.2,494.5 L444.6,492.5Z" fill="#e6a016" stroke="#e6a016" stroke-width="0.6"/><path d="M448,552.5 L460.6,553.4 L457.2,494.5 L444.6,492.5Z" fill="none"/><path d="M436.2,556.7 L448,552.5 L446.3,522.5 L434.5,527.6Z" fill="#e98a12" stroke="#e98a12" stroke-width="0.6"/><path d="M434.5,527.6 L446.3,522.5 L444.6,492.5 L432.9,498.5Z" fill="#e7a016" stroke="#e7a016" stroke-width="0.6"/><path d="M436.2,556.7 L448,552.5 L444.6,492.5 L432.9,498.5Z" fill="none"/><path d="M424.4,564.9 L436.2,556.7 L434.5,527.6 L422.8,537.8Z" fill="#eb8611" stroke="#eb8611" stroke-width="0.6"/><path d="M422.8,537.8 L434.5,527.6 L432.9,498.5 L421.1,510.7Z" fill="#ea9b15" stroke="#ea9b15" stroke-width="0.6"/><path d="M424.4,564.9 L436.2,556.7 L432.9,498.5 L421.1,510.7Z" fill="none"/><path d="M412.7,574.6 L424.4,564.9 L422.8,537.8 L411,549.9Z" fill="#ec7f10" stroke="#ec7f10" stroke-width="0.6"/><path d="M411,549.9 L422.8,537.8 L421.1,510.7 L409.4,525.3Z" fill="#eb9214" stroke="#eb9214" stroke-width="0.6"/><path d="M412.7,574.6 L424.4,564.9 L421.1,510.7 L409.4,525.3Z" fill="none"/><path d="M400.8,576.3 L412.7,574.6 L411,549.9 L399.2,551.9Z" fill="#e97a10" stroke="#e97a10" stroke-width="0.6"/><path d="M399.2,551.9 L411,549.9 L409.4,525.3 L397.5,527.5Z" fill="#ea8c12" stroke="#ea8c12" stroke-width="0.6"/><path d="M400.8,576.3 L412.7,574.6 L409.4,525.3 L397.5,527.5Z" fill="none"/><path d="M388.9,577.2 L400.8,576.3 L399.2,551.9 L387.3,552.7Z" fill="#e97a10" stroke="#e97a10" stroke-width="0.6"/><path d="M387.3,552.7 L399.2,551.9 L397.5,527.5 L385.6,528.3Z" fill="#e98b12" stroke="#e98b12" stroke-width="0.6"/><path d="M388.9,577.2 L400.8,576.3 L397.5,527.5 L385.6,528.3Z" fill="none"/><path d="M377,579.2 L388.9,577.2 L387.3,552.7 L375.4,555.1Z" fill="#e97910" stroke="#e97910" stroke-width="0.6"/><path d="M375.4,555.1 L387.3,552.7 L385.6,528.3 L373.8,530.9Z" fill="#ea8a12" stroke="#ea8a12" stroke-width="0.6"/><path d="M377,579.2 L388.9,577.2 L385.6,528.3 L373.8,530.9Z" fill="none"/><path d="M365.1,582.6 L377,579.2 L375.4,555.1 L363.5,559.1Z" fill="#e97810" stroke="#e97810" stroke-width="0.6"/><path d="M363.5,559.1 L375.4,555.1 L373.8,530.9 L361.9,535.7Z" fill="#eb8912" stroke="#eb8912" stroke-width="0.6"/><path d="M365.1,582.6 L377,579.2 L373.8,530.9 L361.9,535.7Z" fill="none"/><path d="M353.2,587 L365.1,582.6 L363.5,559.1 L351.6,564.8Z" fill="#e97610" stroke="#e97610" stroke-width="0.6"/><path d="M351.6,564.8 L363.5,559.1 L361.9,535.7 L350,542.7Z" fill="#eb8511" stroke="#eb8511" stroke-width="0.6"/><path d="M353.2,587 L365.1,582.6 L361.9,535.7 L350,542.7Z" fill="none"/><path d="M340.9,564 L353.2,587 L350,542.7 L337.8,526.9Z" fill="#e17d10"/><path d="M328.3,520.4 L340.9,564 L337.8,526.9 L325.4,494.4Z" fill="#d78e13"/><path d="M315.7,487.9 L328.3,520.4 L325.4,494.4 L313,473Z" fill="#cda517"/><path d="M303.6,488.4 L315.7,487.9 L313,473 L301,479.8Z" fill="#dec11c"/><path d="M289.1,476.1 L303.6,488.4 L301,479.8 L286.6,468.3Z" fill="#ccb71a"/><path d="M274.6,462.4 L289.1,476.1 L286.6,468.3 L272.2,455.4Z" fill="#b6b219"/><path d="M257.1,476 L274.6,462.4 L272.2,455.4 L254.8,468.9Z" fill="#c3bf1b"/><path d="M239.8,496.7 L257.1,476 L254.8,468.9 L237.5,489.8Z" fill="#d8c01b"/><path d="M222.6,527 L239.8,496.7 L237.5,489.8 L220.4,520.8Z" fill="#e0ab18"/><path d="M205.1,541.8 L222.6,527 L220.4,520.8 L203,535.8Z" fill="#ed9e16"/><path d="M186.7,517 L205.1,541.8 L203,535.8 L184.6,510.6Z" fill="#d69314"/><path d="M168.1,487.8 L186.7,517 L184.6,510.6 L166,481Z" fill="#c9a517"/><path d="M781.8,432.9 L795.4,441.6 L791,441.5 L777.6,425.3Z" fill="#abaf19"/><path d="M769.1,452.1 L781.8,432.9 L777.6,425.3 L765,443.1Z" fill="#bbbc1b"/><path d="M762.3,493 L769.1,452.1 L765,443.1 L758.2,486.9Z" fill="#d4ae19"/><path d="M755.5,541.4 L762.3,493 L758.2,486.9 L751.3,535.8Z" fill="#e08c13"/><path d="M748.7,588.7 L755.5,541.4 L751.3,535.8 L744.5,583.7Z" fill="#dd6a0f"/><path d="M742,603.7 L748.7,588.7 L744.5,583.7 L737.9,598.7Z" fill="#d75710"/><path d="M730.7,601 L742,603.7 L737.9,598.7 L726.7,595.8Z" fill="#d35210"/><path d="M718.8,594.6 L730.7,601 L726.7,595.8 L714.8,589.5Z" fill="#d3550f"/><path d="M706.9,587.4 L718.8,594.6 L714.8,589.5 L703,582.1Z" fill="#d45a0f"/><path d="M695,578.4 L706.9,587.4 L703,582.1 L691.1,573Z" fill="#d65f0f"/><path d="M683,568.1 L695,578.4 L691.1,573 L679.2,562.6Z" fill="#d8660f"/><path d="M675,504.5 L683,568.1 L679.2,562.6 L671.2,490.2Z" fill="#d37a10"/><path d="M662.6,514.6 L675,504.5 L671.2,490.2 L658.8,506Z" fill="#eea216"/><path d="M650.2,526.9 L662.6,514.6 L658.8,506 L646.5,513.7Z" fill="#f09a15"/><path d="M637.8,546.5 L650.2,526.9 L646.5,513.7 L634.2,527.9Z" fill="#ee8f13"/><path d="M625.4,567 L637.8,546.5 L634.2,527.9 L621.8,542.8Z" fill="#ef8110"/><path d="M613,590.4 L625.4,567 L621.8,542.8 L609.5,560.9Z" fill="#eb7410"/><path d="M600.7,599.8 L613,590.4 L609.5,560.9 L597.2,567.4Z" fill="#e76a10"/><path d="M588.3,606.8 L600.7,599.8 L597.2,567.4 L584.9,572.3Z" fill="#e46610"/><path d="M576,606.5 L588.3,606.8 L584.9,572.3 L572.6,571Z" fill="#e16310"/><path d="M563.6,606.2 L576,606.5 L572.6,571 L560.2,569.9Z" fill="#e16410"/><path d="M551.2,606.3 L563.6,606.2 L560.2,569.9 L547.9,569.3Z" fill="#e26510"/><path d="M538.8,606 L551.2,606.3 L547.9,569.3 L535.5,568.1Z" fill="#e26610"/><path d="M526.4,605 L538.8,606 L535.5,568.1 L523.1,565.7Z" fill="#e26710"/><path d="M514,603.6 L526.4,605 L523.1,565.7 L510.6,562.7Z" fill="#e36910"/><path d="M501.5,602.3 L514,603.6 L510.6,562.7 L498.2,559.7Z" fill="#e46b10"/><path d="M489,601.4 L501.5,602.3 L499.8,581 L487.3,579.4Z" fill="#e16610" stroke="#e16610" stroke-width="0.6"/><path d="M487.3,579.4 L499.8,581 L498.2,559.7 L485.7,557.4Z" fill="#e77410" stroke="#e77410" stroke-width="0.6"/><path d="M489,601.4 L501.5,602.3 L498.2,559.7 L485.7,557.4Z" fill="none"/><path d="M476.5,600.5 L489,601.4 L487.3,579.4 L474.8,577.8Z" fill="#e26810" stroke="#e26810" stroke-width="0.6"/><path d="M474.8,577.8 L487.3,579.4 L485.7,557.4 L473.1,555.2Z" fill="#e77510" stroke="#e77510" stroke-width="0.6"/><path d="M476.5,600.5 L489,601.4 L485.7,557.4 L473.1,555.2Z" fill="none"/><path d="M463.9,599.8 L476.5,600.5 L474.8,577.8 L462.3,576.6Z" fill="#e36910" stroke="#e36910" stroke-width="0.6"/><path d="M462.3,576.6 L474.8,577.8 L473.1,555.2 L460.6,553.4Z" fill="#e87710" stroke="#e87710" stroke-width="0.6"/><path d="M463.9,599.8 L476.5,600.5 L473.1,555.2 L460.6,553.4Z" fill="none"/><path d="M451.3,599.7 L463.9,599.8 L462.3,576.6 L449.7,576Z" fill="#e36a10" stroke="#e36a10" stroke-width="0.6"/><path d="M449.7,576 L462.3,576.6 L460.6,553.4 L448,552.5Z" fill="#e87810" stroke="#e87810" stroke-width="0.6"/><path d="M451.3,599.7 L463.9,599.8 L460.6,553.4 L448,552.5Z" fill="none"/><path d="M439.5,602.5 L451.3,599.7 L449.7,576 L437.9,579.6Z" fill="#e46a10" stroke="#e46a10" stroke-width="0.6"/><path d="M437.9,579.6 L449.7,576 L448,552.5 L436.2,556.7Z" fill="#e97810" stroke="#e97810" stroke-width="0.6"/><path d="M439.5,602.5 L451.3,599.7 L448,552.5 L436.2,556.7Z" fill="none"/><path d="M427.7,607.6 L439.5,602.5 L437.9,579.6 L426.1,586.2Z" fill="#e46810" stroke="#e46810" stroke-width="0.6"/><path d="M426.1,586.2 L437.9,579.6 L436.2,556.7 L424.4,564.9Z" fill="#e97610" stroke="#e97610" stroke-width="0.6"/><path d="M427.7,607.6 L439.5,602.5 L436.2,556.7 L424.4,564.9Z" fill="none"/><path d="M415.9,613.6 L427.7,607.6 L424.4,564.9 L412.7,574.6Z" fill="#e66b10"/><path d="M404,615 L415.9,613.6 L412.7,574.6 L400.8,576.3Z" fill="#e36710"/><path d="M392.1,615.9 L404,615 L400.8,576.3 L388.9,577.2Z" fill="#e36710"/><path d="M380.1,617.4 L392.1,615.9 L388.9,577.2 L377,579.2Z" fill="#e36710"/><path d="M368.2,619.8 L380.1,617.4 L377,579.2 L365.1,582.6Z" fill="#e36610"/><path d="M356.3,622.2 L368.2,619.8 L365.1,582.6 L353.2,587Z" fill="#e26410"/><path d="M343.9,593.8 L356.3,622.2 L353.2,587 L340.9,564Z" fill="#d8660f"/><path d="M331.1,542 L343.9,593.8 L340.9,564 L328.3,520.4Z" fill="#d47910"/><path d="M318.4,501.1 L331.1,542 L328.3,520.4 L315.7,487.9Z" fill="#ce9715"/><path d="M306.2,496.7 L318.4,501.1 L315.7,487.9 L303.6,488.4Z" fill="#ddb81a"/><path d="M291.7,483.8 L306.2,496.7 L303.6,488.4 L289.1,476.1Z" fill="#cdb31a"/><path d="M277.1,469.4 L291.7,483.8 L289.1,476.1 L274.6,462.4Z" fill="#bcb31a"/><path d="M259.5,483.1 L277.1,469.4 L274.6,462.4 L257.1,476Z" fill="#c9c11c"/><path d="M242.1,503.6 L259.5,483.1 L257.1,476 L239.8,496.7Z" fill="#dabd1b"/><path d="M224.8,533.2 L242.1,503.6 L239.8,496.7 L222.6,527Z" fill="#e2a918"/><path d="M207.3,547.7 L224.8,533.2 L222.6,527 L205.1,541.8Z" fill="#ed9c15"/><path d="M188.8,523.4 L207.3,547.7 L205.1,541.8 L186.7,517Z" fill="#d79214"/><path d="M170.1,494.7 L188.8,523.4 L186.7,517 L168.1,487.8Z" fill="#caa317"/><path d="M786.1,436.7 L799.7,446.9 L795.4,441.6 L781.8,432.9Z" fill="#b0b219"/><path d="M773.4,454.1 L786.1,436.7 L781.8,432.9 L769.1,452.1Z" fill="#bdba1b"/><path d="M766.5,499.2 L773.4,454.1 L769.1,452.1 L762.3,493Z" fill="#d4ac18"/><path d="M759.7,546.9 L766.5,499.2 L762.3,493 L755.5,541.4Z" fill="#e08a12"/><path d="M752.8,593.7 L759.7,546.9 L755.5,541.4 L748.7,588.7Z" fill="#dc690f"/><path d="M746.1,608.7 L752.8,593.7 L748.7,588.7 L742,603.7Z" fill="#d65610"/><path d="M734.8,606.1 L746.1,608.7 L742,603.7 L730.7,601Z" fill="#d25110"/><path d="M722.9,599.9 L734.8,606.1 L730.7,601 L718.8,594.6Z" fill="#d2540f"/><path d="M710.9,592.7 L722.9,599.9 L718.8,594.6 L706.9,587.4Z" fill="#d4590f"/><path d="M699,583.8 L710.9,592.7 L706.9,587.4 L695,578.4Z" fill="#d55e0f"/><path d="M687,573.7 L699,583.8 L695,578.4 L683,568.1Z" fill="#d8650f"/><path d="M678.9,509 L687,573.7 L683,568.1 L675,504.5Z" fill="#d3780f"/><path d="M666.5,522.3 L678.9,509 L675,504.5 L662.6,514.6Z" fill="#ed9d15"/><path d="M654,537.4 L666.5,522.3 L662.6,514.6 L650.2,526.9Z" fill="#ee9314"/><path d="M641.5,560.5 L654,537.4 L650.2,526.9 L637.8,546.5Z" fill="#ec8411"/><path d="M629.1,584.5 L641.5,560.5 L637.8,546.5 L625.4,567Z" fill="#ea7610"/><path d="M616.6,611.3 L629.1,584.5 L625.4,567 L613,590.4Z" fill="#e36510"/><path d="M604.2,622.6 L616.6,611.3 L613,590.4 L600.7,599.8Z" fill="#e05b10"/><path d="M591.8,630.8 L604.2,622.6 L600.7,599.8 L588.3,606.8Z" fill="#d95310"/><path d="M579.5,631.1 L591.8,630.8 L588.3,606.8 L576,606.5Z" fill="#d44f10"/><path d="M567.1,631.4 L579.5,631.1 L576,606.5 L563.6,606.2Z" fill="#d55010"/><path d="M554.7,631.9 L567.1,631.4 L563.6,606.2 L551.2,606.3Z" fill="#d65110"/><path d="M542.2,632.2 L554.7,631.9 L551.2,606.3 L538.8,606Z" fill="#d65110"/><path d="M529.8,632.1 L542.2,632.2 L538.8,606 L526.4,605Z" fill="#d75210"/><path d="M517.3,631.9 L529.8,632.1 L526.4,605 L514,603.6Z" fill="#d85410"/><path d="M504.8,631.6 L517.3,631.9 L514,603.6 L501.5,602.3Z" fill="#d95510"/><path d="M492.3,631.6 L504.8,631.6 L501.5,602.3 L489,601.4Z" fill="#da5610"/><path d="M479.7,631.5 L492.3,631.6 L489,601.4 L476.5,600.5Z" fill="#db5810"/><path d="M467.2,631.6 L479.7,631.5 L476.5,600.5 L463.9,599.8Z" fill="#db5810"/><path d="M454.6,632 L467.2,631.6 L463.9,599.8 L451.3,599.7Z" fill="#dc5910"/><path d="M442.7,633.9 L454.6,632 L451.3,599.7 L439.5,602.5Z" fill="#dd5910"/><path d="M430.9,637 L442.7,633.9 L439.5,602.5 L427.7,607.6Z" fill="#dc5810"/><path d="M419,640.6 L430.9,637 L427.7,607.6 L415.9,613.6Z" fill="#da5410"/><path d="M407.1,641.8 L419,640.6 L415.9,613.6 L404,615Z" fill="#d75210"/><path d="M395.1,642.7 L407.1,641.8 L404,615 L392.1,615.9Z" fill="#d65210"/><path d="M383.2,643.9 L395.1,642.7 L392.1,615.9 L380.1,617.4Z" fill="#d65110"/><path d="M371.2,645.6 L383.2,643.9 L380.1,617.4 L368.2,619.8Z" fill="#d65110"/><path d="M359.2,646.7 L371.2,645.6 L368.2,619.8 L356.3,622.2Z" fill="#d55010"/><path d="M346.8,615 L359.2,646.7 L356.3,622.2 L343.9,593.8Z" fill="#cb540f"/><path d="M333.9,558.4 L346.8,615 L343.9,593.8 L331.1,542Z" fill="#d26c0e"/><path d="M321.1,512.3 L333.9,558.4 L331.1,542 L318.4,501.1Z" fill="#d28e14"/><path d="M308.8,504.8 L321.1,512.3 L318.4,501.1 L306.2,496.7Z" fill="#dbae19"/><path d="M294.2,491.5 L308.8,504.8 L306.2,496.7 L291.7,483.8Z" fill="#cfaf19"/><path d="M279.5,476.4 L294.2,491.5 L291.7,483.8 L277.1,469.4Z" fill="#c2b41a"/><path d="M261.9,490.3 L279.5,476.4 L277.1,469.4 L259.5,483.1Z" fill="#d0c31c"/><path d="M244.4,510.5 L261.9,490.3 L259.5,483.1 L242.1,503.6Z" fill="#dcbb1b"/><path d="M227.1,539.5 L244.4,510.5 L242.1,503.6 L224.8,533.2Z" fill="#e3a717"/><path d="M209.5,553.7 L227.1,539.5 L224.8,533.2 L207.3,547.7Z" fill="#ed9a15"/><path d="M190.9,529.9 L209.5,553.7 L207.3,547.7 L188.8,523.4Z" fill="#d79014"/><path d="M172.2,501.7 L190.9,529.9 L188.8,523.4 L170.1,494.7Z" fill="#cca217"/><path d="M790.5,441.3 L804,457.4 L799.7,446.9 L786.1,436.7Z" fill="#b4b219"/><path d="M777.7,459.2 L790.5,441.3 L786.1,436.7 L773.4,454.1Z" fill="#c0bc1b"/><path d="M770.8,505.4 L777.7,459.2 L773.4,454.1 L766.5,499.2Z" fill="#d5ab18"/><path d="M763.9,552.5 L770.8,505.4 L766.5,499.2 L759.7,546.9Z" fill="#e18812"/><path d="M757,598.7 L763.9,552.5 L759.7,546.9 L752.8,593.7Z" fill="#dc680f"/><path d="M750.2,613.7 L757,598.7 L752.8,593.7 L746.1,608.7Z" fill="#d55510"/><path d="M738.9,611.3 L750.2,613.7 L746.1,608.7 L734.8,606.1Z" fill="#d15010"/><path d="M727,605.1 L738.9,611.3 L734.8,606.1 L722.9,599.9Z" fill="#d1530f"/><path d="M715,598 L727,605.1 L722.9,599.9 L710.9,592.7Z" fill="#d3580f"/><path d="M702.9,589.2 L715,598 L710.9,592.7 L699,583.8Z" fill="#d55d0f"/><path d="M690.9,579.3 L702.9,589.2 L699,583.8 L687,573.7Z" fill="#d7630f"/><path d="M682.8,519.3 L690.9,579.3 L687,573.7 L678.9,509Z" fill="#d3750f"/><path d="M670.3,529.2 L682.8,519.3 L678.9,509 L666.5,522.3Z" fill="#ee9a15"/><path d="M657.8,546.1 L670.3,529.2 L666.5,522.3 L654,537.4Z" fill="#ec8e13"/><path d="M645.3,571.3 L657.8,546.1 L654,537.4 L641.5,560.5Z" fill="#ea7d10"/><path d="M632.7,597.4 L645.3,571.3 L641.5,560.5 L629.1,584.5Z" fill="#e66e10"/><path d="M620.2,626.1 L632.7,597.4 L629.1,584.5 L616.6,611.3Z" fill="#dc5b10"/><path d="M607.8,638.4 L620.2,626.1 L616.6,611.3 L604.2,622.6Z" fill="#d44d10"/><path d="M595.4,647.4 L607.8,638.4 L604.2,622.6 L591.8,630.8Z" fill="#cd4410"/><path d="M583,648 L595.4,647.4 L591.8,630.8 L579.5,631.1Z" fill="#c74010"/><path d="M570.6,648.7 L583,648 L579.5,631.1 L567.1,631.4Z" fill="#c84010"/><path d="M558.1,649.4 L570.6,648.7 L567.1,631.4 L554.7,631.9Z" fill="#c84110"/><path d="M545.6,650.1 L558.1,649.4 L554.7,631.9 L542.2,632.2Z" fill="#c84110"/><path d="M533.2,650.6 L545.6,650.1 L542.2,632.2 L529.8,632.1Z" fill="#c84110"/><path d="M520.6,651 L533.2,650.6 L529.8,632.1 L517.3,631.9Z" fill="#c94210"/><path d="M508.1,651.4 L520.6,651 L517.3,631.9 L504.8,631.6Z" fill="#c94310"/><path d="M495.6,651.9 L508.1,651.4 L504.8,631.6 L492.3,631.6Z" fill="#ca4310"/><path d="M483,652.4 L495.6,651.9 L492.3,631.6 L479.7,631.5Z" fill="#ca4410"/><path d="M470.4,653 L483,652.4 L479.7,631.5 L467.2,631.6Z" fill="#cb4410"/><path d="M457.8,653.7 L470.4,653 L467.2,631.6 L454.6,632Z" fill="#cb4510"/><path d="M445.9,655 L457.8,653.7 L454.6,632 L442.7,633.9Z" fill="#cc4510"/><path d="M434,656.9 L445.9,655 L442.7,633.9 L430.9,637Z" fill="#cb4410"/><path d="M422,659.1 L434,656.9 L430.9,637 L419,640.6Z" fill="#ca4210"/><path d="M410.1,660.1 L422,659.1 L419,640.6 L407.1,641.8Z" fill="#c84110"/><path d="M398.1,660.9 L410.1,660.1 L407.1,641.8 L395.1,642.7Z" fill="#c84110"/><path d="M386.1,662 L398.1,660.9 L395.1,642.7 L383.2,643.9Z" fill="#c84110"/><path d="M374.1,663.2 L386.1,662 L383.2,643.9 L371.2,645.6Z" fill="#c74010"/><path d="M362.1,663.6 L374.1,663.2 L371.2,645.6 L359.2,646.7Z" fill="#c64010"/><path d="M349.6,630.2 L362.1,663.6 L359.2,646.7 L346.8,615Z" fill="#be470e"/><path d="M336.7,571.1 L349.6,630.2 L346.8,615 L333.9,558.4Z" fill="#cf650e"/><path d="M323.8,522.2 L336.7,571.1 L333.9,558.4 L321.1,512.3Z" fill="#d28812"/><path d="M311.4,512.6 L323.8,522.2 L321.1,512.3 L308.8,504.8Z" fill="#d9a717"/><path d="M296.7,499 L311.4,512.6 L308.8,504.8 L294.2,491.5Z" fill="#d0ac18"/><path d="M282,483.6 L296.7,499 L294.2,491.5 L279.5,476.4Z" fill="#c8b51a"/><path d="M264.3,497.6 L282,483.6 L279.5,476.4 L261.9,490.3Z" fill="#d7c41c"/><path d="M246.8,517.5 L264.3,497.6 L261.9,490.3 L244.4,510.5Z" fill="#ddb81a"/><path d="M229.4,545.8 L246.8,517.5 L244.4,510.5 L227.1,539.5Z" fill="#e5a517"/><path d="M211.7,559.8 L229.4,545.8 L227.1,539.5 L209.5,553.7Z" fill="#ed9815"/><path d="M193.1,536.4 L211.7,559.8 L209.5,553.7 L190.9,529.9Z" fill="#d88e13"/><path d="M174.3,508.7 L193.1,536.4 L190.9,529.9 L172.2,501.7Z" fill="#cda016"/><path d="M794.8,450.2 L808.3,466.9 L804,457.4 L790.5,441.3Z" fill="#bbb31a"/><path d="M782,466.7 L794.8,450.2 L790.5,441.3 L777.7,459.2Z" fill="#c8bf1b"/><path d="M775,511.6 L782,466.7 L777.7,459.2 L770.8,505.4Z" fill="#d6a918"/><path d="M768.1,558.2 L775,511.6 L770.8,505.4 L763.9,552.5Z" fill="#e18712"/><path d="M761.2,603.8 L768.1,558.2 L763.9,552.5 L757,598.7Z" fill="#db670f"/><path d="M754.4,618.8 L761.2,603.8 L757,598.7 L750.2,613.7Z" fill="#d45310"/><path d="M743.1,616.5 L754.4,618.8 L750.2,613.7 L738.9,611.3Z" fill="#d04f10"/><path d="M731.1,610.4 L743.1,616.5 L738.9,611.3 L727,605.1Z" fill="#d0510f"/><path d="M719,603.3 L731.1,610.4 L727,605.1 L715,598Z" fill="#d3570f"/><path d="M707,594.6 L719,603.3 L715,598 L702.9,589.2Z" fill="#d45c0f"/><path d="M694.9,584.9 L707,594.6 L702.9,589.2 L690.9,579.3Z" fill="#d7620f"/><path d="M686.8,517.4 L694.9,584.9 L690.9,579.3 L682.8,519.3Z" fill="#d3750f"/><path d="M674.2,535.6 L686.8,517.4 L682.8,519.3 L670.3,529.2Z" fill="#e99514"/><path d="M661.7,553.3 L674.2,535.6 L670.3,529.2 L657.8,546.1Z" fill="#eb8b12"/><path d="M649.1,579.5 L661.7,553.3 L657.8,546.1 L645.3,571.3Z" fill="#e87910"/><path d="M636.5,606.5 L649.1,579.5 L645.3,571.3 L632.7,597.4Z" fill="#e26810"/><path d="M623.9,636 L636.5,606.5 L632.7,597.4 L620.2,626.1Z" fill="#d65510"/><path d="M611.4,648.8 L623.9,636 L620.2,626.1 L607.8,638.4Z" fill="#cb4410"/><path d="M599,658.1 L611.4,648.8 L607.8,638.4 L595.4,647.4Z" fill="#bd3b0f"/><path d="M586.5,658.9 L599,658.1 L595.4,647.4 L583,648Z" fill="#b4370f"/><path d="M574.1,659.8 L586.5,658.9 L583,648 L570.6,648.7Z" fill="#b4370f"/><path d="M561.6,660.7 L574.1,659.8 L570.6,648.7 L558.1,649.4Z" fill="#b5370f"/><path d="M549.1,661.6 L561.6,660.7 L558.1,649.4 L545.6,650.1Z" fill="#b5370f"/><path d="M536.5,662.4 L549.1,661.6 L545.6,650.1 L533.2,650.6Z" fill="#b5370f"/><path d="M524,663.2 L536.5,662.4 L533.2,650.6 L520.6,651Z" fill="#b5370f"/><path d="M511.4,663.9 L524,663.2 L520.6,651 L508.1,651.4Z" fill="#b6380f"/><path d="M498.8,664.7 L511.4,663.9 L508.1,651.4 L495.6,651.9Z" fill="#b7380f"/><path d="M486.2,665.5 L498.8,664.7 L495.6,651.9 L483,652.4Z" fill="#b7380f"/><path d="M473.6,666.3 L486.2,665.5 L483,652.4 L470.4,653Z" fill="#b7380f"/><path d="M460.9,667.2 L473.6,666.3 L470.4,653 L457.8,653.7Z" fill="#b8380f"/><path d="M449,668.2 L460.9,667.2 L457.8,653.7 L445.9,655Z" fill="#b8380f"/><path d="M437,669.5 L449,668.2 L445.9,655 L434,656.9Z" fill="#b7380f"/><path d="M425.1,670.8 L437,669.5 L434,656.9 L422,659.1Z" fill="#b5370f"/><path d="M413.1,671.8 L425.1,670.8 L422,659.1 L410.1,660.1Z" fill="#b4370e"/><path d="M401.1,672.7 L413.1,671.8 L410.1,660.1 L398.1,660.9Z" fill="#b4360e"/><path d="M389,673.6 L401.1,672.7 L398.1,660.9 L386.1,662Z" fill="#b3360e"/><path d="M377,674.6 L389,673.6 L386.1,662 L374.1,663.2Z" fill="#b3360e"/><path d="M364.9,674.6 L377,674.6 L374.1,663.2 L362.1,663.6Z" fill="#b3360e"/><path d="M352.4,640.6 L364.9,674.6 L362.1,663.6 L349.6,630.2Z" fill="#b53e0e"/><path d="M339.4,580.8 L352.4,640.6 L349.6,630.2 L336.7,571.1Z" fill="#cd600e"/><path d="M326.4,530.9 L339.4,580.8 L336.7,571.1 L323.8,522.2Z" fill="#d28412"/><path d="M314,520.3 L326.4,530.9 L323.8,522.2 L311.4,512.6Z" fill="#d9a217"/><path d="M299.3,506.6 L314,520.3 L311.4,512.6 L296.7,499Z" fill="#d2a918"/><path d="M284.5,490.7 L299.3,506.6 L296.7,499 L282,483.6Z" fill="#c9b21a"/><path d="M266.8,504.9 L284.5,490.7 L282,483.6 L264.3,497.6Z" fill="#dac31c"/><path d="M249.1,524.5 L266.8,504.9 L264.3,497.6 L246.8,517.5Z" fill="#dfb61a"/><path d="M231.6,552.2 L249.1,524.5 L246.8,517.5 L229.4,545.8Z" fill="#e6a317"/><path d="M213.9,565.9 L231.6,552.2 L229.4,545.8 L211.7,559.8Z" fill="#ed9614"/><path d="M195.2,543 L213.9,565.9 L211.7,559.8 L193.1,536.4Z" fill="#d88d13"/><path d="M176.3,515.7 L195.2,543 L193.1,536.4 L174.3,508.7Z" fill="#cf9e16"/><path d="M799.1,456.8 L812.8,467.4 L808.3,466.9 L794.8,450.2Z" fill="#bfb21a"/><path d="M786.2,481.6 L799.1,456.8 L794.8,450.2 L782,466.7Z" fill="#d3c11c"/><path d="M779.3,517.9 L786.2,481.6 L782,466.7 L775,511.6Z" fill="#daa617"/><path d="M772.4,563.9 L779.3,517.9 L775,511.6 L768.1,558.2Z" fill="#e18511"/><path d="M765.5,608.9 L772.4,563.9 L768.1,558.2 L761.2,603.8Z" fill="#db660f"/><path d="M758.7,623.8 L765.5,608.9 L761.2,603.8 L754.4,618.8Z" fill="#d35210"/><path d="M747.3,621.7 L758.7,623.8 L754.4,618.8 L743.1,616.5Z" fill="#cf4d10"/><path d="M735.2,615.7 L747.3,621.7 L743.1,616.5 L731.1,610.4Z" fill="#cf500f"/><path d="M723.1,608.7 L735.2,615.7 L731.1,610.4 L719,603.3Z" fill="#d3560f"/><path d="M711,600.1 L723.1,608.7 L719,603.3 L707,594.6Z" fill="#d45b0f"/><path d="M698.9,590.6 L711,600.1 L707,594.6 L694.9,584.9Z" fill="#d7610f"/><path d="M690.7,530.2 L698.9,590.6 L694.9,584.9 L686.8,517.4Z" fill="#d3730f"/><path d="M678.2,541.6 L690.7,530.2 L686.8,517.4 L674.2,535.6Z" fill="#ed9614"/><path d="M665.6,559.7 L678.2,541.6 L674.2,535.6 L661.7,553.3Z" fill="#ea8812"/><path d="M652.9,586.2 L665.6,559.7 L661.7,553.3 L649.1,579.5Z" fill="#e67710"/><path d="M640.3,613.5 L652.9,586.2 L649.1,579.5 L636.5,606.5Z" fill="#df6510"/><path d="M627.6,643.1 L640.3,613.5 L636.5,606.5 L623.9,636Z" fill="#d25010"/><path d="M615.1,656 L627.6,643.1 L623.9,636 L611.4,648.8Z" fill="#c53f10"/><path d="M602.6,665.4 L615.1,656 L611.4,648.8 L599,658.1Z" fill="#b2360e"/><path d="M590.1,666.4 L602.6,665.4 L599,658.1 L586.5,658.9Z" fill="#a9320e"/><path d="M577.6,667.3 L590.1,666.4 L586.5,658.9 L574.1,659.8Z" fill="#a9320e"/><path d="M565.1,668.3 L577.6,667.3 L574.1,659.8 L561.6,660.7Z" fill="#a9320e"/><path d="M552.5,669.3 L565.1,668.3 L561.6,660.7 L549.1,661.6Z" fill="#a9320e"/><path d="M540,670.2 L552.5,669.3 L549.1,661.6 L536.5,662.4Z" fill="#a9320e"/><path d="M527.4,671.2 L540,670.2 L536.5,662.4 L524,663.2Z" fill="#a9320e"/><path d="M514.7,672.1 L527.4,671.2 L524,663.2 L511.4,663.9Z" fill="#a9320e"/><path d="M502.1,673.1 L514.7,672.1 L511.4,663.9 L498.8,664.7Z" fill="#aa320e"/><path d="M489.4,674 L502.1,673.1 L498.8,664.7 L486.2,665.5Z" fill="#aa320e"/><path d="M476.8,675 L489.4,674 L486.2,665.5 L473.6,666.3Z" fill="#aa320e"/><path d="M464.1,675.9 L476.8,675 L473.6,666.3 L460.9,667.2Z" fill="#aa320e"/><path d="M452.1,676.8 L464.1,675.9 L460.9,667.2 L449,668.2Z" fill="#aa320e"/><path d="M440.1,677.8 L452.1,676.8 L449,668.2 L437,669.5Z" fill="#a9310e"/><path d="M428.1,678.7 L440.1,677.8 L437,669.5 L425.1,670.8Z" fill="#a9310e"/><path d="M416,679.6 L428.1,678.7 L425.1,670.8 L413.1,671.8Z" fill="#a8310d"/><path d="M404,680.5 L416,679.6 L413.1,671.8 L401.1,672.7Z" fill="#a8310d"/><path d="M391.9,681.4 L404,680.5 L401.1,672.7 L389,673.6Z" fill="#a8310d"/><path d="M379.8,682.3 L391.9,681.4 L389,673.6 L377,674.6Z" fill="#a8310d"/><path d="M367.7,682.1 L379.8,682.3 L377,674.6 L364.9,674.6Z" fill="#a7310d"/><path d="M355.1,648.3 L367.7,682.1 L364.9,674.6 L352.4,640.6Z" fill="#b13a0e"/><path d="M342.1,588.9 L355.1,648.3 L352.4,640.6 L339.4,580.8Z" fill="#cc5d0e"/><path d="M329.1,539.1 L342.1,588.9 L339.4,580.8 L326.4,530.9Z" fill="#d28011"/><path d="M316.6,527.9 L329.1,539.1 L326.4,530.9 L314,520.3Z" fill="#d99e16"/><path d="M301.9,514.2 L316.6,527.9 L314,520.3 L299.3,506.6Z" fill="#d3a617"/><path d="M287.1,497.9 L301.9,514.2 L299.3,506.6 L284.5,490.7Z" fill="#cbaf19"/><path d="M269.3,512.2 L287.1,497.9 L284.5,490.7 L266.8,504.9Z" fill="#dbc01b"/><path d="M251.5,531.6 L269.3,512.2 L266.8,504.9 L249.1,524.5Z" fill="#e1b319"/><path d="M233.9,558.6 L251.5,531.6 L249.1,524.5 L231.6,552.2Z" fill="#e8a116"/><path d="M216.1,572 L233.9,558.6 L231.6,552.2 L213.9,565.9Z" fill="#ee9414"/><path d="M197.4,549.6 L216.1,572 L213.9,565.9 L195.2,543Z" fill="#d88b13"/><path d="M178.5,522.8 L197.4,549.6 L195.2,543 L176.3,515.7Z" fill="#d09c16"/><path d="M803.6,462.9 L817.2,477.8 L812.8,467.4 L799.1,456.8Z" fill="#c7b71a"/><path d="M790.6,483.1 L803.6,462.9 L799.1,456.8 L786.2,481.6Z" fill="#d3bd1b"/><path d="M783.7,524.2 L790.6,483.1 L786.2,481.6 L779.3,517.9Z" fill="#daa217"/><path d="M776.7,569.6 L783.7,524.2 L779.3,517.9 L772.4,563.9Z" fill="#e18311"/><path d="M769.7,614 L776.7,569.6 L772.4,563.9 L765.5,608.9Z" fill="#da640f"/><path d="M762.9,629 L769.7,614 L765.5,608.9 L758.7,623.8Z" fill="#d25110"/><path d="M751.5,627 L762.9,629 L758.7,623.8 L747.3,621.7Z" fill="#ce4c10"/><path d="M739.4,621 L751.5,627 L747.3,621.7 L735.2,615.7Z" fill="#ce4f0f"/><path d="M727.2,614.1 L739.4,621 L735.2,615.7 L723.1,608.7Z" fill="#d2550f"/><path d="M715.1,605.6 L727.2,614.1 L723.1,608.7 L711,600.1Z" fill="#d35a0f"/><path d="M702.9,596.2 L715.1,605.6 L711,600.1 L698.9,590.6Z" fill="#d6600f"/><path d="M694.8,528.9 L702.9,596.2 L698.9,590.6 L690.7,530.2Z" fill="#d3720e"/><path d="M682.1,548 L694.8,528.9 L690.7,530.2 L678.2,541.6Z" fill="#e99113"/><path d="M669.5,565.5 L682.1,548 L678.2,541.6 L665.6,559.7Z" fill="#eb8611"/><path d="M656.8,591.3 L669.5,565.5 L665.6,559.7 L652.9,586.2Z" fill="#e57510"/><path d="M644.1,618.1 L656.8,591.3 L652.9,586.2 L640.3,613.5Z" fill="#de6310"/><path d="M631.4,647.4 L644.1,618.1 L640.3,613.5 L627.6,643.1Z" fill="#cf4e10"/><path d="M618.8,660.1 L631.4,647.4 L627.6,643.1 L615.1,656Z" fill="#c03d0f"/><path d="M606.3,669.3 L618.8,660.1 L615.1,656 L602.6,665.4Z" fill="#ad340e"/><path d="M593.8,670.3 L606.3,669.3 L602.6,665.4 L590.1,666.4Z" fill="#a42f0d"/><path d="M581.2,671.3 L593.8,670.3 L590.1,666.4 L577.6,667.3Z" fill="#a42f0d"/><path d="M568.6,672.3 L581.2,671.3 L577.6,667.3 L565.1,668.3Z" fill="#a42f0d"/><path d="M556,673.2 L568.6,672.3 L565.1,668.3 L552.5,669.3Z" fill="#a42f0d"/><path d="M543.4,674.2 L556,673.2 L552.5,669.3 L540,670.2Z" fill="#a32f0d"/><path d="M530.8,675.2 L543.4,674.2 L540,670.2 L527.4,671.2Z" fill="#a32f0d"/><path d="M518.1,676.2 L530.8,675.2 L527.4,671.2 L514.7,672.1Z" fill="#a32f0d"/><path d="M505.4,677.2 L518.1,676.2 L514.7,672.1 L502.1,673.1Z" fill="#a32f0d"/><path d="M492.7,678.2 L505.4,677.2 L502.1,673.1 L489.4,674Z" fill="#a32f0d"/><path d="M480,679.1 L492.7,678.2 L489.4,674 L476.8,675Z" fill="#a32f0d"/><path d="M467.2,680.1 L480,679.1 L476.8,675 L464.1,675.9Z" fill="#a32f0d"/><path d="M455.2,681 L467.2,680.1 L464.1,675.9 L452.1,676.8Z" fill="#a32f0d"/><path d="M443.1,681.9 L455.2,681 L452.1,676.8 L440.1,677.8Z" fill="#a22f0d"/><path d="M431.1,682.8 L443.1,681.9 L440.1,677.8 L428.1,678.7Z" fill="#a22f0d"/><path d="M419,683.7 L431.1,682.8 L428.1,678.7 L416,679.6Z" fill="#a22e0d"/><path d="M406.9,684.7 L419,683.7 L416,679.6 L404,680.5Z" fill="#a22e0d"/><path d="M394.8,685.6 L406.9,684.7 L404,680.5 L391.9,681.4Z" fill="#a22e0d"/><path d="M382.6,686.5 L394.8,685.6 L391.9,681.4 L379.8,682.3Z" fill="#a22e0d"/><path d="M370.5,686.1 L382.6,686.5 L379.8,682.3 L367.7,682.1Z" fill="#a22f0d"/><path d="M357.8,652.9 L370.5,686.1 L367.7,682.1 L355.1,648.3Z" fill="#b0390e"/><path d="M344.8,594.9 L357.8,652.9 L355.1,648.3 L342.1,588.9Z" fill="#cb5b0e"/><path d="M331.8,546.4 L344.8,594.9 L342.1,588.9 L329.1,539.1Z" fill="#d37e11"/><path d="M319.3,535.4 L331.8,546.4 L329.1,539.1 L316.6,527.9Z" fill="#db9b15"/><path d="M304.5,521.8 L319.3,535.4 L316.6,527.9 L301.9,514.2Z" fill="#d5a317"/><path d="M289.6,505.1 L304.5,521.8 L301.9,514.2 L287.1,497.9Z" fill="#ccad19"/><path d="M271.7,519.6 L289.6,505.1 L287.1,497.9 L269.3,512.2Z" fill="#ddbd1b"/><path d="M253.9,538.7 L271.7,519.6 L269.3,512.2 L251.5,531.6Z" fill="#e2b019"/><path d="M236.3,565.1 L253.9,538.7 L251.5,531.6 L233.9,558.6Z" fill="#e99f16"/><path d="M218.3,578.2 L236.3,565.1 L233.9,558.6 L216.1,572Z" fill="#ee9213"/><path d="M199.6,556.2 L218.3,578.2 L216.1,572 L197.4,549.6Z" fill="#d98a13"/><path d="M180.6,529.9 L199.6,556.2 L197.4,549.6 L178.5,522.8Z" fill="#d29a15"/><path d="M807.9,472.8 L821.7,483.8 L817.2,477.8 L803.6,462.9Z" fill="#ccb61a"/><path d="M795.1,487 L807.9,472.8 L803.6,462.9 L790.6,483.1Z" fill="#d8bf1b"/><path d="M788,530.6 L795.1,487 L790.6,483.1 L783.7,524.2Z" fill="#dba217"/><path d="M781,575.3 L788,530.6 L783.7,524.2 L776.7,569.6Z" fill="#e18111"/><path d="M774,619.2 L781,575.3 L776.7,569.6 L769.7,614Z" fill="#da630f"/><path d="M767.2,634.1 L774,619.2 L769.7,614 L762.9,629Z" fill="#d15010"/><path d="M755.7,632.3 L767.2,634.1 L762.9,629 L751.5,627Z" fill="#ce4b10"/><path d="M743.6,626.4 L755.7,632.3 L751.5,627 L739.4,621Z" fill="#cd4e0f"/><path d="M731.4,619.6 L743.6,626.4 L739.4,621 L727.2,614.1Z" fill="#d2540f"/><path d="M719.2,611.2 L731.4,619.6 L727.2,614.1 L715.1,605.6Z" fill="#d3590f"/><path d="M707,601.9 L719.2,611.2 L715.1,605.6 L702.9,596.2Z" fill="#d65f0f"/><path d="M698.8,542.1 L707,601.9 L702.9,596.2 L694.8,528.9Z" fill="#d3700e"/><path d="M686.1,554.8 L698.8,542.1 L694.8,528.9 L682.1,548Z" fill="#ed9213"/><path d="M673.4,571.3 L686.1,554.8 L682.1,548 L669.5,565.5Z" fill="#eb8411"/><path d="M660.7,596.3 L673.4,571.3 L669.5,565.5 L656.8,591.3Z" fill="#e57410"/><path d="M648,622.6 L660.7,596.3 L656.8,591.3 L644.1,618.1Z" fill="#de6310"/><path d="M635.2,651.3 L648,622.6 L644.1,618.1 L631.4,647.4Z" fill="#cf4e10"/><path d="M622.6,663.8 L635.2,651.3 L631.4,647.4 L618.8,660.1Z" fill="#c03d0f"/><path d="M610,672.8 L622.6,663.8 L618.8,660.1 L606.3,669.3Z" fill="#ae340e"/><path d="M597.4,673.8 L610,672.8 L606.3,669.3 L593.8,670.3Z" fill="#a4300d"/><path d="M584.8,674.8 L597.4,673.8 L593.8,670.3 L581.2,671.3Z" fill="#a4300d"/><path d="M572.2,675.8 L584.8,674.8 L581.2,671.3 L568.6,672.3Z" fill="#a4300d"/><path d="M559.5,676.9 L572.2,675.8 L568.6,672.3 L556,673.2Z" fill="#a42f0d"/><path d="M546.9,677.9 L559.5,676.9 L556,673.2 L543.4,674.2Z" fill="#a42f0d"/><path d="M534.2,678.9 L546.9,677.9 L543.4,674.2 L530.8,675.2Z" fill="#a32f0d"/><path d="M521.5,679.9 L534.2,678.9 L530.8,675.2 L518.1,676.2Z" fill="#a32f0d"/><path d="M508.7,680.9 L521.5,679.9 L518.1,676.2 L505.4,677.2Z" fill="#a32f0d"/><path d="M496,681.8 L508.7,680.9 L505.4,677.2 L492.7,678.2Z" fill="#a32f0d"/><path d="M483.2,682.8 L496,681.8 L492.7,678.2 L480,679.1Z" fill="#a32f0d"/><path d="M470.4,683.8 L483.2,682.8 L480,679.1 L467.2,680.1Z" fill="#a32f0d"/><path d="M458.3,684.7 L470.4,683.8 L467.2,680.1 L455.2,681Z" fill="#a32f0d"/><path d="M446.2,685.6 L458.3,684.7 L455.2,681 L443.1,681.9Z" fill="#a22f0d"/><path d="M434.1,686.6 L446.2,685.6 L443.1,681.9 L431.1,682.8Z" fill="#a22f0d"/><path d="M422,687.5 L434.1,686.6 L431.1,682.8 L419,683.7Z" fill="#a22f0d"/><path d="M409.8,688.4 L422,687.5 L419,683.7 L406.9,684.7Z" fill="#a22f0d"/><path d="M397.7,689.3 L409.8,688.4 L406.9,684.7 L394.8,685.6Z" fill="#a22f0d"/><path d="M385.5,690.3 L397.7,689.3 L394.8,685.6 L382.6,686.5Z" fill="#a22e0d"/><path d="M373.2,689.8 L385.5,690.3 L382.6,686.5 L370.5,686.1Z" fill="#a22f0d"/><path d="M360.6,657.3 L373.2,689.8 L370.5,686.1 L357.8,652.9Z" fill="#b0390e"/><path d="M347.6,600.7 L360.6,657.3 L357.8,652.9 L344.8,594.9Z" fill="#ca5b0e"/><path d="M334.5,553.6 L347.6,600.7 L344.8,594.9 L331.8,546.4Z" fill="#d37c10"/><path d="M322,542.9 L334.5,553.6 L331.8,546.4 L319.3,535.4Z" fill="#dc9815"/><path d="M307.1,529.4 L322,542.9 L319.3,535.4 L304.5,521.8Z" fill="#d6a117"/><path d="M292.2,512.4 L307.1,529.4 L304.5,521.8 L289.6,505.1Z" fill="#cdaa18"/><path d="M274.2,527.1 L292.2,512.4 L289.6,505.1 L271.7,519.6Z" fill="#dfba1a"/><path d="M256.3,545.9 L274.2,527.1 L271.7,519.6 L253.9,538.7Z" fill="#e4ae18"/><path d="M238.6,571.6 L256.3,545.9 L253.9,538.7 L236.3,565.1Z" fill="#ea9c15"/><path d="M220.6,584.5 L238.6,571.6 L236.3,565.1 L218.3,578.2Z" fill="#ee9113"/><path d="M201.8,562.9 L220.6,584.5 L218.3,578.2 L199.6,556.2Z" fill="#d98812"/><path d="M182.7,537.1 L201.8,562.9 L199.6,556.2 L180.6,529.9Z" fill="#d39815"/><path d="M812.4,479.3 L826.2,494 L821.7,483.8 L807.9,472.8Z" fill="#ceb31a"/><path d="M799.5,495.2 L812.4,479.3 L807.9,472.8 L795.1,487Z" fill="#dabd1b"/><path d="M792.4,537 L799.5,495.2 L795.1,487 L788,530.6Z" fill="#dca016"/><path d="M785.4,581.1 L792.4,537 L788,530.6 L781,575.3Z" fill="#e17f10"/><path d="M778.4,624.4 L785.4,581.1 L781,575.3 L774,619.2Z" fill="#d9620f"/><path d="M771.5,639.3 L778.4,624.4 L774,619.2 L767.2,634.1Z" fill="#d04f10"/><path d="M760,637.6 L771.5,639.3 L767.2,634.1 L755.7,632.3Z" fill="#cd4a10"/><path d="M747.8,631.8 L760,637.6 L755.7,632.3 L743.6,626.4Z" fill="#cc4d0f"/><path d="M735.6,625 L747.8,631.8 L743.6,626.4 L731.4,619.6Z" fill="#d1530f"/><path d="M723.4,616.7 L735.6,625 L731.4,619.6 L719.2,611.2Z" fill="#d3580f"/><path d="M711.1,607.7 L723.4,616.7 L719.2,611.2 L707,601.9Z" fill="#d55e0f"/><path d="M702.9,548.8 L711.1,607.7 L707,601.9 L698.8,542.1Z" fill="#d26e0e"/><path d="M690.2,561.5 L702.9,548.8 L698.8,542.1 L686.1,554.8Z" fill="#ed8e13"/><path d="M677.4,577.2 L690.2,561.5 L686.1,554.8 L673.4,571.3Z" fill="#eb8211"/><path d="M664.6,601.3 L677.4,577.2 L673.4,571.3 L660.7,596.3Z" fill="#e57310"/><path d="M651.8,627.1 L664.6,601.3 L660.7,596.3 L648,622.6Z" fill="#dd6210"/><path d="M639.1,655.3 L651.8,627.1 L648,622.6 L635.2,651.3Z" fill="#cf4e10"/><path d="M626.4,667.6 L639.1,655.3 L635.2,651.3 L622.6,663.8Z" fill="#c03d10"/><path d="M613.7,676.4 L626.4,667.6 L622.6,663.8 L610,672.8Z" fill="#af350e"/><path d="M601.1,677.4 L613.7,676.4 L610,672.8 L597.4,673.8Z" fill="#a6300d"/><path d="M588.5,678.5 L601.1,677.4 L597.4,673.8 L584.8,674.8Z" fill="#a5300d"/><path d="M575.8,679.5 L588.5,678.5 L584.8,674.8 L572.2,675.8Z" fill="#a5300d"/><path d="M563.1,680.5 L575.8,679.5 L572.2,675.8 L559.5,676.9Z" fill="#a5300d"/><path d="M550.4,681.5 L563.1,680.5 L559.5,676.9 L546.9,677.9Z" fill="#a5300d"/><path d="M537.6,682.5 L550.4,681.5 L546.9,677.9 L534.2,678.9Z" fill="#a5300d"/><path d="M524.9,683.6 L537.6,682.5 L534.2,678.9 L521.5,679.9Z" fill="#a4300d"/><path d="M512.1,684.6 L524.9,683.6 L521.5,679.9 L508.7,680.9Z" fill="#a4300d"/><path d="M499.3,685.6 L512.1,684.6 L508.7,680.9 L496,681.8Z" fill="#a4300d"/><path d="M486.4,686.5 L499.3,685.6 L496,681.8 L483.2,682.8Z" fill="#a42f0d"/><path d="M473.6,687.5 L486.4,686.5 L483.2,682.8 L470.4,683.8Z" fill="#a42f0d"/><path d="M461.5,688.5 L473.6,687.5 L470.4,683.8 L458.3,684.7Z" fill="#a42f0d"/><path d="M449.3,689.4 L461.5,688.5 L458.3,684.7 L446.2,685.6Z" fill="#a42f0d"/><path d="M437.2,690.3 L449.3,689.4 L446.2,685.6 L434.1,686.6Z" fill="#a32f0d"/><path d="M425,691.3 L437.2,690.3 L434.1,686.6 L422,687.5Z" fill="#a32f0d"/><path d="M412.8,692.2 L425,691.3 L422,687.5 L409.8,688.4Z" fill="#a32f0d"/><path d="M400.6,693.1 L412.8,692.2 L409.8,688.4 L397.7,689.3Z" fill="#a32f0d"/><path d="M388.3,694.1 L400.6,693.1 L397.7,689.3 L385.5,690.3Z" fill="#a32f0d"/><path d="M376.1,693.6 L388.3,694.1 L385.5,690.3 L373.2,689.8Z" fill="#a32f0d"/><path d="M363.4,661.7 L376.1,693.6 L373.2,689.8 L360.6,657.3Z" fill="#b0390e"/><path d="M350.3,606.6 L363.4,661.7 L360.6,657.3 L347.6,600.7Z" fill="#ca5a0e"/><path d="M337.3,560.9 L350.3,606.6 L347.6,600.7 L334.5,553.6Z" fill="#d37a10"/><path d="M324.7,550.4 L337.3,560.9 L334.5,553.6 L322,542.9Z" fill="#de9615"/><path d="M309.8,537 L324.7,550.4 L322,542.9 L307.1,529.4Z" fill="#d89e16"/><path d="M294.8,519.8 L309.8,537 L307.1,529.4 L292.2,512.4Z" fill="#cfa718"/><path d="M276.8,534.5 L294.8,519.8 L292.2,512.4 L274.2,527.1Z" fill="#e0b81a"/><path d="M258.8,553.1 L276.8,534.5 L274.2,527.1 L256.3,545.9Z" fill="#e6ab18"/><path d="M241,578.1 L258.8,553.1 L256.3,545.9 L238.6,571.6Z" fill="#ea9a15"/><path d="M222.9,590.7 L241,578.1 L238.6,571.6 L220.6,584.5Z" fill="#ee8f13"/><path d="M204,569.6 L222.9,590.7 L220.6,584.5 L201.8,562.9Z" fill="#da8612"/><path d="M184.9,544.4 L204,569.6 L201.8,562.9 L182.7,537.1Z" fill="#d59615"/><path d="M817,484.9 L830.8,501.1 L826.2,494 L812.4,479.3Z" fill="#ccad19"/><path d="M803.9,503.9 L817,484.9 L812.4,479.3 L799.5,495.2Z" fill="#dbba1a"/><path d="M796.9,543.5 L803.9,503.9 L799.5,495.2 L792.4,537Z" fill="#de9d16"/><path d="M789.8,586.9 L796.9,543.5 L792.4,537 L785.4,581.1Z" fill="#e17e10"/><path d="M782.8,629.6 L789.8,586.9 L785.4,581.1 L778.4,624.4Z" fill="#d8610f"/><path d="M775.9,644.5 L782.8,629.6 L778.4,624.4 L771.5,639.3Z" fill="#cf4e10"/><path d="M764.3,643 L775.9,644.5 L771.5,639.3 L760,637.6Z" fill="#cc4910"/><path d="M752.1,637.2 L764.3,643 L760,637.6 L747.8,631.8Z" fill="#cb4b0f"/><path d="M739.8,630.5 L752.1,637.2 L747.8,631.8 L735.6,625Z" fill="#cf510f"/><path d="M727.5,622.3 L739.8,630.5 L735.6,625 L723.4,616.7Z" fill="#d2570f"/><path d="M715.2,613.4 L727.5,622.3 L723.4,616.7 L711.1,607.7Z" fill="#d55d0f"/><path d="M707,552 L715.2,613.4 L711.1,607.7 L702.9,548.8Z" fill="#d26d0e"/><path d="M694.2,568.3 L707,552 L702.9,548.8 L690.2,561.5Z" fill="#eb8b12"/><path d="M681.5,583.1 L694.2,568.3 L690.2,561.5 L677.4,577.2Z" fill="#ec8110"/><path d="M668.6,606.5 L681.5,583.1 L677.4,577.2 L664.6,601.3Z" fill="#e57210"/><path d="M655.8,631.6 L668.6,606.5 L664.6,601.3 L651.8,627.1Z" fill="#dd6210"/><path d="M642.9,659.3 L655.8,631.6 L651.8,627.1 L639.1,655.3Z" fill="#cf4e10"/><path d="M630.2,671.4 L642.9,659.3 L639.1,655.3 L626.4,667.6Z" fill="#c13e10"/><path d="M617.5,680 L630.2,671.4 L626.4,667.6 L613.7,676.4Z" fill="#b0350e"/><path d="M604.8,681.1 L617.5,680 L613.7,676.4 L601.1,677.4Z" fill="#a7310d"/><path d="M592.1,682.1 L604.8,681.1 L601.1,677.4 L588.5,678.5Z" fill="#a7310d"/><path d="M579.4,683.1 L592.1,682.1 L588.5,678.5 L575.8,679.5Z" fill="#a6310d"/><path d="M566.7,684.2 L579.4,683.1 L575.8,679.5 L563.1,680.5Z" fill="#a6310d"/><path d="M553.9,685.2 L566.7,684.2 L563.1,680.5 L550.4,681.5Z" fill="#a6300d"/><path d="M541.1,686.2 L553.9,685.2 L550.4,681.5 L537.6,682.5Z" fill="#a6300d"/><path d="M528.3,687.3 L541.1,686.2 L537.6,682.5 L524.9,683.6Z" fill="#a5300d"/><path d="M515.4,688.3 L528.3,687.3 L524.9,683.6 L512.1,684.6Z" fill="#a5300d"/><path d="M502.6,689.3 L515.4,688.3 L512.1,684.6 L499.3,685.6Z" fill="#a5300d"/><path d="M489.7,690.3 L502.6,689.3 L499.3,685.6 L486.4,686.5Z" fill="#a5300d"/><path d="M476.8,691.3 L489.7,690.3 L486.4,686.5 L473.6,687.5Z" fill="#a5300d"/><path d="M464.6,692.2 L476.8,691.3 L473.6,687.5 L461.5,688.5Z" fill="#a5300d"/><path d="M452.4,693.2 L464.6,692.2 L461.5,688.5 L449.3,689.4Z" fill="#a5300d"/><path d="M440.2,694.1 L452.4,693.2 L449.3,689.4 L437.2,690.3Z" fill="#a4300d"/><path d="M428,695.1 L440.2,694.1 L437.2,690.3 L425,691.3Z" fill="#a4300d"/><path d="M415.8,696 L428,695.1 L425,691.3 L412.8,692.2Z" fill="#a4300d"/><path d="M403.5,697 L415.8,696 L412.8,692.2 L400.6,693.1Z" fill="#a4300d"/><path d="M391.2,697.9 L403.5,697 L400.6,693.1 L388.3,694.1Z" fill="#a42f0d"/><path d="M378.9,697.3 L391.2,697.9 L388.3,694.1 L376.1,693.6Z" fill="#a4300d"/><path d="M366.2,666.2 L378.9,697.3 L376.1,693.6 L363.4,661.7Z" fill="#b0390e"/><path d="M353.1,612.6 L366.2,666.2 L363.4,661.7 L350.3,606.6Z" fill="#ca590e"/><path d="M340,568.3 L353.1,612.6 L350.3,606.6 L337.3,560.9Z" fill="#d37810"/><path d="M327.4,558 L340,568.3 L337.3,560.9 L324.7,550.4Z" fill="#de9414"/><path d="M312.4,544.7 L327.4,558 L324.7,550.4 L309.8,537Z" fill="#da9c16"/><path d="M297.4,527.1 L312.4,544.7 L309.8,537 L294.8,519.8Z" fill="#d0a417"/><path d="M279.3,542.1 L297.4,527.1 L294.8,519.8 L276.8,534.5Z" fill="#e2b51a"/><path d="M261.3,560.4 L279.3,542.1 L276.8,534.5 L258.8,553.1Z" fill="#e7a918"/><path d="M243.3,584.7 L261.3,560.4 L258.8,553.1 L241,578.1Z" fill="#ea9815"/><path d="M225.2,597.1 L243.3,584.7 L241,578.1 L222.9,590.7Z" fill="#ee8d12"/><path d="M206.2,576.4 L225.2,597.1 L222.9,590.7 L204,569.6Z" fill="#da8512"/><path d="M187.1,551.7 L206.2,576.4 L204,569.6 L184.9,544.4Z" fill="#d69414"/><path d="M821.4,496.9 L835.3,509 L830.8,501.1 L817,484.9Z" fill="#d1ad18"/><path d="M808.5,505.5 L821.4,496.9 L817,484.9 L803.9,503.9Z" fill="#deb81a"/><path d="M801.4,550 L808.5,505.5 L803.9,503.9 L796.9,543.5Z" fill="#de9b15"/><path d="M794.3,592.8 L801.4,550 L796.9,543.5 L789.8,586.9Z" fill="#e17c10"/><path d="M787.2,634.9 L794.3,592.8 L789.8,586.9 L782.8,629.6Z" fill="#d8600f"/><path d="M780.3,649.7 L787.2,634.9 L782.8,629.6 L775.9,644.5Z" fill="#ce4d10"/><path d="M768.6,648.3 L780.3,649.7 L775.9,644.5 L764.3,643Z" fill="#cb4810"/><path d="M756.4,642.7 L768.6,648.3 L764.3,643 L752.1,637.2Z" fill="#ca4a0f"/><path d="M744.1,636 L756.4,642.7 L752.1,637.2 L739.8,630.5Z" fill="#ce500f"/><path d="M731.7,627.9 L744.1,636 L739.8,630.5 L727.5,622.3Z" fill="#d2560f"/><path d="M719.4,619.2 L731.7,627.9 L727.5,622.3 L715.2,613.4Z" fill="#d45c0f"/><path d="M711,570.2 L719.4,619.2 L715.2,613.4 L707,552Z" fill="#d16b0e"/><path d="M698.3,575.2 L711,570.2 L707,552 L694.2,568.3Z" fill="#f08b12"/><path d="M685.5,589.1 L698.3,575.2 L694.2,568.3 L681.5,583.1Z" fill="#ec7f10"/><path d="M672.6,611.6 L685.5,589.1 L681.5,583.1 L668.6,606.5Z" fill="#e57110"/><path d="M659.7,636.1 L672.6,611.6 L668.6,606.5 L655.8,631.6Z" fill="#dd6110"/><path d="M646.8,663.4 L659.7,636.1 L655.8,631.6 L642.9,659.3Z" fill="#cf4e10"/><path d="M634.1,675.2 L646.8,663.4 L642.9,659.3 L630.2,671.4Z" fill="#c13e10"/><path d="M621.3,683.6 L634.1,675.2 L630.2,671.4 L617.5,680Z" fill="#b1360e"/><path d="M608.6,684.7 L621.3,683.6 L617.5,680 L604.8,681.1Z" fill="#a8310e"/><path d="M595.8,685.7 L608.6,684.7 L604.8,681.1 L592.1,682.1Z" fill="#a8310d"/><path d="M583.1,686.8 L595.8,685.7 L592.1,682.1 L579.4,683.1Z" fill="#a7310d"/><path d="M570.3,687.8 L583.1,686.8 L579.4,683.1 L566.7,684.2Z" fill="#a7310d"/><path d="M557.4,688.9 L570.3,687.8 L566.7,684.2 L553.9,685.2Z" fill="#a7310d"/><path d="M544.6,690 L557.4,688.9 L553.9,685.2 L541.1,686.2Z" fill="#a7310d"/><path d="M531.7,691 L544.6,690 L541.1,686.2 L528.3,687.3Z" fill="#a7310d"/><path d="M518.8,692 L531.7,691 L528.3,687.3 L515.4,688.3Z" fill="#a6310d"/><path d="M505.9,693.1 L518.8,692 L515.4,688.3 L502.6,689.3Z" fill="#a6310d"/><path d="M493,694.1 L505.9,693.1 L502.6,689.3 L489.7,690.3Z" fill="#a6310d"/><path d="M480,695.1 L493,694.1 L489.7,690.3 L476.8,691.3Z" fill="#a6300d"/><path d="M467.8,696 L480,695.1 L476.8,691.3 L464.6,692.2Z" fill="#a6300d"/><path d="M455.6,697 L467.8,696 L464.6,692.2 L452.4,693.2Z" fill="#a6300d"/><path d="M443.3,697.9 L455.6,697 L452.4,693.2 L440.2,694.1Z" fill="#a5300d"/><path d="M431.1,698.9 L443.3,697.9 L440.2,694.1 L428,695.1Z" fill="#a5300d"/><path d="M418.8,699.9 L431.1,698.9 L428,695.1 L415.8,696Z" fill="#a5300d"/><path d="M406.5,700.8 L418.8,699.9 L415.8,696 L403.5,697Z" fill="#a5300d"/><path d="M394.1,701.8 L406.5,700.8 L403.5,697 L391.2,697.9Z" fill="#a5300d"/><path d="M381.8,701.1 L394.1,701.8 L391.2,697.9 L378.9,697.3Z" fill="#a5300d"/><path d="M369,670.7 L381.8,701.1 L378.9,697.3 L366.2,666.2Z" fill="#b1390e"/><path d="M355.9,618.5 L369,670.7 L366.2,666.2 L353.1,612.6Z" fill="#c9590e"/><path d="M342.8,575.7 L355.9,618.5 L353.1,612.6 L340,568.3Z" fill="#d3760f"/><path d="M330.1,565.7 L342.8,575.7 L340,568.3 L327.4,558Z" fill="#df9114"/><path d="M315.1,552.4 L330.1,565.7 L327.4,558 L312.4,544.7Z" fill="#db9915"/><path d="M300,534.6 L315.1,552.4 L312.4,544.7 L297.4,527.1Z" fill="#d1a217"/><path d="M281.9,549.6 L300,534.6 L297.4,527.1 L279.3,542.1Z" fill="#e3b219"/><path d="M263.7,567.7 L281.9,549.6 L279.3,542.1 L261.3,560.4Z" fill="#e9a617"/><path d="M245.7,591.4 L263.7,567.7 L261.3,560.4 L243.3,584.7Z" fill="#eb9614"/><path d="M227.5,603.4 L245.7,591.4 L243.3,584.7 L225.2,597.1Z" fill="#ee8b12"/><path d="M208.5,583.3 L227.5,603.4 L225.2,597.1 L206.2,576.4Z" fill="#da8311"/><path d="M189.3,559 L208.5,583.3 L206.2,576.4 L187.1,551.7Z" fill="#d89214"/><path d="M826,502.7 L840.1,510.9 L835.3,509 L821.4,496.9Z" fill="#d2aa18"/><path d="M813,512.9 L826,502.7 L821.4,496.9 L808.5,505.5Z" fill="#e1b71a"/><path d="M805.9,556.5 L813,512.9 L808.5,505.5 L801.4,550Z" fill="#df9a15"/><path d="M798.7,598.7 L805.9,556.5 L801.4,550 L794.3,592.8Z" fill="#e17a0f"/><path d="M791.6,640.2 L798.7,598.7 L794.3,592.8 L787.2,634.9Z" fill="#d75f0f"/><path d="M784.7,655 L791.6,640.2 L787.2,634.9 L780.3,649.7Z" fill="#cd4c10"/><path d="M773,653.8 L784.7,655 L780.3,649.7 L768.6,648.3Z" fill="#ca4710"/><path d="M760.7,648.1 L773,653.8 L768.6,648.3 L756.4,642.7Z" fill="#c9490f"/><path d="M748.4,641.6 L760.7,648.1 L756.4,642.7 L744.1,636Z" fill="#cd4f0f"/><path d="M736,633.6 L748.4,641.6 L744.1,636 L731.7,627.9Z" fill="#d1550f"/><path d="M723.6,625.1 L736,633.6 L731.7,627.9 L719.4,619.2Z" fill="#d45b0f"/><path d="M715.3,572 L723.6,625.1 L719.4,619.2 L711,570.2Z" fill="#d0680e"/><path d="M702.4,581 L715.3,572 L711,570.2 L698.3,575.2Z" fill="#ec8511"/><path d="M689.6,592.3 L702.4,581 L698.3,575.2 L685.5,589.1Z" fill="#eb7d10"/><path d="M676.7,612.9 L689.6,592.3 L685.5,589.1 L672.6,611.6Z" fill="#e47110"/><path d="M663.7,636.6 L676.7,612.9 L672.6,611.6 L659.7,636.1Z" fill="#db610f"/><path d="M650.8,663.5 L663.7,636.6 L659.7,636.1 L646.8,663.4Z" fill="#ce4f0f"/><path d="M638,675 L650.8,663.5 L646.8,663.4 L634.1,675.2Z" fill="#c13f10"/><path d="M625.2,683.2 L638,675 L634.1,675.2 L621.3,683.6Z" fill="#b2370e"/><path d="M612.4,684.4 L625.2,683.2 L621.3,683.6 L608.6,684.7Z" fill="#a8330e"/><path d="M599.6,685.5 L612.4,684.4 L608.6,684.7 L595.8,685.7Z" fill="#a8320e"/><path d="M586.8,686.6 L599.6,685.5 L595.8,685.7 L583.1,686.8Z" fill="#a8320e"/><path d="M573.9,687.7 L586.8,686.6 L583.1,686.8 L570.3,687.8Z" fill="#a8320d"/><path d="M561,688.8 L573.9,687.7 L570.3,687.8 L557.4,688.9Z" fill="#a7320d"/><path d="M548.1,689.9 L561,688.8 L557.4,688.9 L544.6,690Z" fill="#a7320d"/><path d="M535.2,691 L548.1,689.9 L544.6,690 L531.7,691Z" fill="#a7320d"/><path d="M522.3,692.1 L535.2,691 L531.7,691 L518.8,692Z" fill="#a7320d"/><path d="M509.3,693.2 L522.3,692.1 L518.8,692 L505.9,693.1Z" fill="#a7320d"/><path d="M496.3,694.2 L509.3,693.2 L505.9,693.1 L493,694.1Z" fill="#a6320d"/><path d="M483.3,695.3 L496.3,694.2 L493,694.1 L480,695.1Z" fill="#a6310d"/><path d="M471,696.3 L483.3,695.3 L480,695.1 L467.8,696Z" fill="#a6310d"/><path d="M458.8,697.3 L471,696.3 L467.8,696 L455.6,697Z" fill="#a6310d"/><path d="M446.5,698.3 L458.8,697.3 L455.6,697 L443.3,697.9Z" fill="#a6310d"/><path d="M434.1,699.2 L446.5,698.3 L443.3,697.9 L431.1,698.9Z" fill="#a6310d"/><path d="M421.8,700.2 L434.1,699.2 L431.1,698.9 L418.8,699.9Z" fill="#a6310d"/><path d="M409.4,701.2 L421.8,700.2 L418.8,699.9 L406.5,700.8Z" fill="#a5310d"/><path d="M397,702.2 L409.4,701.2 L406.5,700.8 L394.1,701.8Z" fill="#a5310d"/><path d="M384.6,700.9 L397,702.2 L394.1,701.8 L381.8,701.1Z" fill="#a5310d"/><path d="M371.8,670.3 L384.6,700.9 L381.8,701.1 L369,670.7Z" fill="#b23b0e"/><path d="M358.7,620.2 L371.8,670.3 L369,670.7 L355.9,618.5Z" fill="#ca590e"/><path d="M345.6,580.9 L358.7,620.2 L355.9,618.5 L342.8,575.7Z" fill="#d3750f"/><path d="M332.9,572.9 L345.6,580.9 L342.8,575.7 L330.1,565.7Z" fill="#df8f13"/><path d="M317.8,560 L332.9,572.9 L330.1,565.7 L315.1,552.4Z" fill="#dd9715"/><path d="M302.7,542 L317.8,560 L315.1,552.4 L300,534.6Z" fill="#d29f16"/><path d="M284.4,557.3 L302.7,542 L300,534.6 L281.9,549.6Z" fill="#e5b019"/><path d="M266.2,575 L284.4,557.3 L281.9,549.6 L263.7,567.7Z" fill="#eba417"/><path d="M248.1,598 L266.2,575 L263.7,567.7 L245.7,591.4Z" fill="#eb9414"/><path d="M229.8,609.9 L248.1,598 L245.7,591.4 L227.5,603.4Z" fill="#ee8912"/><path d="M210.7,590.2 L229.8,609.9 L227.5,603.4 L208.5,583.3Z" fill="#db8111"/><path d="M191.5,566.5 L210.7,590.2 L208.5,583.3 L189.3,559Z" fill="#d89014"/><path d="M830.8,503.5 L844.6,522.1 L840.1,510.9 L826,502.7Z" fill="#d1a818"/><path d="M817.5,524.1 L830.8,503.5 L826,502.7 L813,512.9Z" fill="#dfb319"/><path d="M810.4,563.1 L817.5,524.1 L813,512.9 L805.9,556.5Z" fill="#e19815"/><path d="M803.2,604.6 L810.4,563.1 L805.9,556.5 L798.7,598.7Z" fill="#e1780f"/><path d="M796.1,645.5 L803.2,604.6 L798.7,598.7 L791.6,640.2Z" fill="#d75e0f"/><path d="M789.1,660.3 L796.1,645.5 L791.6,640.2 L784.7,655Z" fill="#cc4b10"/><path d="M777.4,659.2 L789.1,660.3 L784.7,655 L773,653.8Z" fill="#c94610"/><path d="M765.1,653.7 L777.4,659.2 L773,653.8 L760.7,648.1Z" fill="#c8480f"/><path d="M752.7,647.2 L765.1,653.7 L760.7,648.1 L748.4,641.6Z" fill="#cc4e0f"/><path d="M740.3,639.3 L752.7,647.2 L748.4,641.6 L736,633.6Z" fill="#d1540f"/><path d="M727.8,630.9 L740.3,639.3 L736,633.6 L723.6,625.1Z" fill="#d45a0f"/><path d="M719.4,583.1 L727.8,630.9 L723.6,625.1 L715.3,572Z" fill="#d0670e"/><path d="M706.6,586.7 L719.4,583.1 L715.3,572 L702.4,581Z" fill="#f08511"/><path d="M693.8,595.4 L706.6,586.7 L702.4,581 L689.6,592.3Z" fill="#ec7d10"/><path d="M680.8,613.9 L693.8,595.4 L689.6,592.3 L676.7,612.9Z" fill="#e47210"/><path d="M667.8,636.8 L680.8,613.9 L676.7,612.9 L663.7,636.6Z" fill="#dd640f"/><path d="M654.8,663.3 L667.8,636.8 L663.7,636.6 L650.8,663.5Z" fill="#d2520f"/><path d="M641.9,674.7 L654.8,663.3 L650.8,663.5 L638,675Z" fill="#c54310"/><path d="M629.1,682.6 L641.9,674.7 L638,675 L625.2,683.2Z" fill="#ba3b0f"/><path d="M616.2,683.8 L629.1,682.6 L625.2,683.2 L612.4,684.4Z" fill="#b1370e"/><path d="M603.4,685 L616.2,683.8 L612.4,684.4 L599.6,685.5Z" fill="#b0370e"/><path d="M590.5,686.1 L603.4,685 L599.6,685.5 L586.8,686.6Z" fill="#b0360e"/><path d="M577.6,687.3 L590.5,686.1 L586.8,686.6 L573.9,687.7Z" fill="#b0360e"/><path d="M564.6,688.5 L577.6,687.3 L573.9,687.7 L561,688.8Z" fill="#af360e"/><path d="M551.7,689.6 L564.6,688.5 L561,688.8 L548.1,689.9Z" fill="#af360e"/><path d="M538.7,690.8 L551.7,689.6 L548.1,689.9 L535.2,691Z" fill="#af360e"/><path d="M525.7,692 L538.7,690.8 L535.2,691 L522.3,692.1Z" fill="#ae360e"/><path d="M512.7,693.1 L525.7,692 L522.3,692.1 L509.3,693.2Z" fill="#ae350e"/><path d="M499.7,694.2 L512.7,693.1 L509.3,693.2 L496.3,694.2Z" fill="#ae350e"/><path d="M486.6,695.2 L499.7,694.2 L496.3,694.2 L483.3,695.3Z" fill="#ae350e"/><path d="M474.3,696.3 L486.6,695.2 L483.3,695.3 L471,696.3Z" fill="#ad350e"/><path d="M461.9,697.3 L474.3,696.3 L471,696.3 L458.8,697.3Z" fill="#ad350e"/><path d="M449.6,698.3 L461.9,697.3 L458.8,697.3 L446.5,698.3Z" fill="#ad350e"/><path d="M437.2,699.4 L449.6,698.3 L446.5,698.3 L434.1,699.2Z" fill="#ad350e"/><path d="M424.8,700.4 L437.2,699.4 L434.1,699.2 L421.8,700.2Z" fill="#ad350e"/><path d="M412.4,701.5 L424.8,700.4 L421.8,700.2 L409.4,701.2Z" fill="#ad350e"/><path d="M399.9,702.5 L412.4,701.5 L409.4,701.2 L397,702.2Z" fill="#ac340e"/><path d="M387.5,700.4 L399.9,702.5 L397,702.2 L384.6,700.9Z" fill="#ac350e"/><path d="M374.6,669.6 L387.5,700.4 L384.6,700.9 L371.8,670.3Z" fill="#b63f0e"/><path d="M361.5,621.5 L374.6,669.6 L371.8,670.3 L358.7,620.2Z" fill="#cb5c0e"/><path d="M348.4,586 L361.5,621.5 L358.7,620.2 L345.6,580.9Z" fill="#d3760f"/><path d="M335.6,580 L348.4,586 L345.6,580.9 L332.9,572.9Z" fill="#e28f13"/><path d="M320.6,567.6 L335.6,580 L332.9,572.9 L317.8,560Z" fill="#de9514"/><path d="M305.3,549.6 L320.6,567.6 L317.8,560 L302.7,542Z" fill="#d49d16"/><path d="M287,564.9 L305.3,549.6 L302.7,542 L284.4,557.3Z" fill="#e7ad18"/><path d="M268.8,582.4 L287,564.9 L284.4,557.3 L266.2,575Z" fill="#eca116"/><path d="M250.6,604.8 L268.8,582.4 L266.2,575 L248.1,598Z" fill="#eb9213"/><path d="M232.2,616.3 L250.6,604.8 L248.1,598 L229.8,609.9Z" fill="#ee8711"/><path d="M213,597.1 L232.2,616.3 L229.8,609.9 L210.7,590.2Z" fill="#db8011"/><path d="M193.7,573.9 L213,597.1 L210.7,590.2 L191.5,566.5Z" fill="#d98e13"/><path d="M835.3,518.3 L849.4,523.8 L844.6,522.1 L830.8,503.5Z" fill="#d6a718"/><path d="M822.1,532.5 L835.3,518.3 L830.8,503.5 L817.5,524.1Z" fill="#e3b019"/><path d="M815,569.7 L822.1,532.5 L817.5,524.1 L810.4,563.1Z" fill="#e19414"/><path d="M807.8,610.6 L815,569.7 L810.4,563.1 L803.2,604.6Z" fill="#e1770f"/><path d="M800.7,650.9 L807.8,610.6 L803.2,604.6 L796.1,645.5Z" fill="#d65d0f"/><path d="M793.6,665.6 L800.7,650.9 L796.1,645.5 L789.1,660.3Z" fill="#cb4a10"/><path d="M781.9,664.7 L793.6,665.6 L789.1,660.3 L777.4,659.2Z" fill="#c84510"/><path d="M769.5,659.2 L781.9,664.7 L777.4,659.2 L765.1,653.7Z" fill="#c7470f"/><path d="M757,652.8 L769.5,659.2 L765.1,653.7 L752.7,647.2Z" fill="#cb4c0f"/><path d="M744.6,645 L757,652.8 L752.7,647.2 L740.3,639.3Z" fill="#d0530f"/><path d="M732.1,636.8 L744.6,645 L740.3,639.3 L727.8,630.9Z" fill="#d3590f"/><path d="M723.7,584.9 L732.1,636.8 L727.8,630.9 L719.4,583.1Z" fill="#d0660e"/><path d="M710.8,591.5 L723.7,584.9 L719.4,583.1 L706.6,586.7Z" fill="#ec8110"/><path d="M697.9,598 L710.8,591.5 L706.6,586.7 L693.8,595.4Z" fill="#ec7d10"/><path d="M684.9,614.8 L697.9,598 L693.8,595.4 L680.8,613.9Z" fill="#e57310"/><path d="M671.9,637 L684.9,614.8 L680.8,613.9 L667.8,636.8Z" fill="#de660f"/><path d="M658.8,663.2 L671.9,637 L667.8,636.8 L654.8,663.3Z" fill="#d4560f"/><path d="M645.9,674.3 L658.8,663.2 L654.8,663.3 L641.9,674.7Z" fill="#c94710"/><path d="M633,681.9 L645.9,674.3 L641.9,674.7 L629.1,682.6Z" fill="#c13f10"/><path d="M620.1,683.2 L633,681.9 L629.1,682.6 L616.2,683.8Z" fill="#b93b0f"/><path d="M607.2,684.4 L620.1,683.2 L616.2,683.8 L603.4,685Z" fill="#b93b0f"/><path d="M594.2,685.7 L607.2,684.4 L603.4,685 L590.5,686.1Z" fill="#b83b0f"/><path d="M581.3,686.9 L594.2,685.7 L590.5,686.1 L577.6,687.3Z" fill="#b83a0f"/><path d="M568.3,688.1 L581.3,686.9 L577.6,687.3 L564.6,688.5Z" fill="#b83a0f"/><path d="M555.3,689.4 L568.3,688.1 L564.6,688.5 L551.7,689.6Z" fill="#b73a0f"/><path d="M542.3,690.6 L555.3,689.4 L551.7,689.6 L538.7,690.8Z" fill="#b73a0f"/><path d="M529.2,691.8 L542.3,690.6 L538.7,690.8 L525.7,692Z" fill="#b63a0f"/><path d="M516.1,692.9 L529.2,691.8 L525.7,692 L512.7,693.1Z" fill="#b6390f"/><path d="M503,694.1 L516.1,692.9 L512.7,693.1 L499.7,694.2Z" fill="#b6390f"/><path d="M489.9,695.2 L503,694.1 L499.7,694.2 L486.6,695.2Z" fill="#b6390f"/><path d="M477.6,696.3 L489.9,695.2 L486.6,695.2 L474.3,696.3Z" fill="#b5390f"/><path d="M465.2,697.4 L477.6,696.3 L474.3,696.3 L461.9,697.3Z" fill="#b5390f"/><path d="M452.8,698.4 L465.2,697.4 L461.9,697.3 L449.6,698.3Z" fill="#b5390f"/><path d="M440.3,699.5 L452.8,698.4 L449.6,698.3 L437.2,699.4Z" fill="#b5390f"/><path d="M427.9,700.6 L440.3,699.5 L437.2,699.4 L424.8,700.4Z" fill="#b4380f"/><path d="M415.4,701.7 L427.9,700.6 L424.8,700.4 L412.4,701.5Z" fill="#b4380f"/><path d="M402.9,702.7 L415.4,701.7 L412.4,701.5 L399.9,702.5Z" fill="#b4380e"/><path d="M390.3,700 L402.9,702.7 L399.9,702.5 L387.5,700.4Z" fill="#b3390e"/><path d="M377.4,668.9 L390.3,700 L387.5,700.4 L374.6,669.6Z" fill="#ba430e"/><path d="M364.3,622.8 L377.4,668.9 L374.6,669.6 L361.5,621.5Z" fill="#cc5e0e"/><path d="M351.2,591.1 L364.3,622.8 L361.5,621.5 L348.4,586Z" fill="#d3770f"/><path d="M338.4,587.3 L351.2,591.1 L348.4,586 L335.6,580Z" fill="#e59013"/><path d="M323.3,575.2 L338.4,587.3 L335.6,580 L320.6,567.6Z" fill="#de9314"/><path d="M308,557.1 L323.3,575.2 L320.6,567.6 L305.3,549.6Z" fill="#d59a15"/><path d="M289.7,572.6 L308,557.1 L305.3,549.6 L287,564.9Z" fill="#e8aa18"/><path d="M271.3,589.9 L289.7,572.6 L287,564.9 L268.8,582.4Z" fill="#ed9f16"/><path d="M253,611.6 L271.3,589.9 L268.8,582.4 L250.6,604.8Z" fill="#ec9013"/><path d="M234.5,622.8 L253,611.6 L250.6,604.8 L232.2,616.3Z" fill="#ef8511"/><path d="M215.3,604.1 L234.5,622.8 L232.2,616.3 L213,597.1Z" fill="#db7e10"/><path d="M196,581.4 L215.3,604.1 L213,597.1 L193.7,573.9Z" fill="#d98c13"/><path d="M840,525.1 L854.1,533.1 L849.4,523.8 L835.3,518.3Z" fill="#dda918"/><path d="M826.8,534.4 L840,525.1 L835.3,518.3 L822.1,532.5Z" fill="#e4ac18"/><path d="M819.6,576.4 L826.8,534.4 L822.1,532.5 L815,569.7Z" fill="#e19214"/><path d="M812.4,616.7 L819.6,576.4 L815,569.7 L807.8,610.6Z" fill="#e1750f"/><path d="M805.2,656.3 L812.4,616.7 L807.8,610.6 L800.7,650.9Z" fill="#d65c0f"/><path d="M798.2,671 L805.2,656.3 L800.7,650.9 L793.6,665.6Z" fill="#ca4910"/><path d="M786.4,670.2 L798.2,671 L793.6,665.6 L781.9,664.7Z" fill="#c84410"/><path d="M773.9,664.8 L786.4,670.2 L781.9,664.7 L769.5,659.2Z" fill="#c6460f"/><path d="M761.4,658.4 L773.9,664.8 L769.5,659.2 L757,652.8Z" fill="#ca4b0f"/><path d="M748.9,650.7 L761.4,658.4 L757,652.8 L744.6,645Z" fill="#cf520f"/><path d="M736.4,642.7 L748.9,650.7 L744.6,645 L732.1,636.8Z" fill="#d3580f"/><path d="M728.1,584.4 L736.4,642.7 L732.1,636.8 L723.7,584.9Z" fill="#d0660e"/><path d="M715.1,596.1 L728.1,584.4 L723.7,584.9 L710.8,591.5Z" fill="#ea8110"/><path d="M702.2,600.4 L715.1,596.1 L710.8,591.5 L697.9,598Z" fill="#ec7d10"/><path d="M689.1,615.6 L702.2,600.4 L697.9,598 L684.9,614.8Z" fill="#e67510"/><path d="M676,637.2 L689.1,615.6 L684.9,614.8 L671.9,637Z" fill="#e0680f"/><path d="M662.9,663 L676,637.2 L671.9,637 L658.8,663.2Z" fill="#d6580f"/><path d="M649.9,673.8 L662.9,663 L658.8,663.2 L645.9,674.3Z" fill="#cc4b10"/><path d="M637,681.1 L649.9,673.8 L645.9,674.3 L633,681.9Z" fill="#c54310"/><path d="M624,682.4 L637,681.1 L633,681.9 L620.1,683.2Z" fill="#c03f0f"/><path d="M611,683.7 L624,682.4 L620.1,683.2 L607.2,684.4Z" fill="#bf3f0f"/><path d="M598,685.1 L611,683.7 L607.2,684.4 L594.2,685.7Z" fill="#bf3f0f"/><path d="M585,686.4 L598,685.1 L594.2,685.7 L581.3,686.9Z" fill="#bf3f0f"/><path d="M572,687.8 L585,686.4 L581.3,686.9 L568.3,688.1Z" fill="#bf3e0f"/><path d="M558.9,689.1 L572,687.8 L568.3,688.1 L555.3,689.4Z" fill="#bf3e0f"/><path d="M545.8,690.5 L558.9,689.1 L555.3,689.4 L542.3,690.6Z" fill="#bf3e0f"/><path d="M532.7,691.8 L545.8,690.5 L542.3,690.6 L529.2,691.8Z" fill="#bf3e0f"/><path d="M519.6,693.1 L532.7,691.8 L529.2,691.8 L516.1,692.9Z" fill="#be3d0f"/><path d="M506.5,694.4 L519.6,693.1 L516.1,692.9 L503,694.1Z" fill="#be3d0f"/><path d="M493.3,695.7 L506.5,694.4 L503,694.1 L489.9,695.2Z" fill="#be3d0f"/><path d="M480.9,696.8 L493.3,695.7 L489.9,695.2 L477.6,696.3Z" fill="#bd3d0f"/><path d="M468.4,697.9 L480.9,696.8 L477.6,696.3 L465.2,697.4Z" fill="#bd3d0f"/><path d="M455.9,698.9 L468.4,697.9 L465.2,697.4 L452.8,698.4Z" fill="#bd3c0f"/><path d="M443.5,699.9 L455.9,698.9 L452.8,698.4 L440.3,699.5Z" fill="#bc3c0f"/><path d="M431,700.9 L443.5,699.9 L440.3,699.5 L427.9,700.6Z" fill="#bc3c0f"/><path d="M418.4,702 L431,700.9 L427.9,700.6 L415.4,701.7Z" fill="#bc3c0f"/><path d="M405.9,703 L418.4,702 L415.4,701.7 L402.9,702.7Z" fill="#bb3c0f"/><path d="M393.3,699.5 L405.9,703 L402.9,702.7 L390.3,700Z" fill="#ba3c0f"/><path d="M380.3,668.2 L393.3,699.5 L390.3,700 L377.4,668.9Z" fill="#bd470e"/><path d="M367.1,624.2 L380.3,668.2 L377.4,668.9 L364.3,622.8Z" fill="#ce610e"/><path d="M354.1,596.3 L367.1,624.2 L364.3,622.8 L351.2,591.1Z" fill="#d3770f"/><path d="M341.3,594.5 L354.1,596.3 L351.2,591.1 L338.4,587.3Z" fill="#e89013"/><path d="M326.1,582.9 L341.3,594.5 L338.4,587.3 L323.3,575.2Z" fill="#df9014"/><path d="M310.8,564.7 L326.1,582.9 L323.3,575.2 L308,557.1Z" fill="#d79815"/><path d="M292.3,580.4 L310.8,564.7 L308,557.1 L289.7,572.6Z" fill="#eaa817"/><path d="M273.9,597.4 L292.3,580.4 L289.7,572.6 L271.3,589.9Z" fill="#ed9c15"/><path d="M255.5,618.4 L273.9,597.4 L271.3,589.9 L253,611.6Z" fill="#ec8e13"/><path d="M236.9,629.4 L255.5,618.4 L253,611.6 L234.5,622.8Z" fill="#ef8411"/><path d="M217.7,611.1 L236.9,629.4 L234.5,622.8 L215.3,604.1Z" fill="#dc7d10"/><path d="M198.2,589 L217.7,611.1 L215.3,604.1 L196,581.4Z" fill="#d98b13"/><path d="M844.7,531.3 L858.8,546.4 L854.1,533.1 L840,525.1Z" fill="#dba217"/><path d="M831.4,549.7 L844.7,531.3 L840,525.1 L826.8,534.4Z" fill="#e8ab18"/><path d="M824.2,583.2 L831.4,549.7 L826.8,534.4 L819.6,576.4Z" fill="#e29013"/><path d="M817,622.7 L824.2,583.2 L819.6,576.4 L812.4,616.7Z" fill="#e0740f"/><path d="M809.8,661.7 L817,622.7 L812.4,616.7 L805.2,656.3Z" fill="#d55b0f"/><path d="M802.9,665.9 L809.8,661.7 L805.2,656.3 L798.2,671Z" fill="#cb4a10"/><path d="M790.9,675.7 L802.9,665.9 L798.2,671 L786.4,670.2Z" fill="#c64410"/><path d="M778.4,670.4 L790.9,675.7 L786.4,670.2 L773.9,664.8Z" fill="#c5450f"/><path d="M765.9,664.1 L778.4,670.4 L773.9,664.8 L761.4,658.4Z" fill="#c94a0f"/><path d="M753.3,656.5 L765.9,664.1 L761.4,658.4 L748.9,650.7Z" fill="#ce500f"/><path d="M740.7,648.6 L753.3,656.5 L748.9,650.7 L736.4,642.7Z" fill="#d3570f"/><path d="M732.3,598.2 L740.7,648.6 L736.4,642.7 L728.1,584.4Z" fill="#cf650e"/><path d="M719.4,600.8 L732.3,598.2 L728.1,584.4 L715.1,596.1Z" fill="#f18311"/><path d="M706.4,602.9 L719.4,600.8 L715.1,596.1 L702.2,600.4Z" fill="#eb7d10"/><path d="M693.3,616.5 L706.4,602.9 L702.2,600.4 L689.1,615.6Z" fill="#e77710"/><path d="M680.2,637.4 L693.3,616.5 L689.1,615.6 L676,637.2Z" fill="#e16b10"/><path d="M667,662.8 L680.2,637.4 L676,637.2 L662.9,663Z" fill="#d85b0f"/><path d="M654,673.3 L667,662.8 L662.9,663 L649.9,673.8Z" fill="#d04f10"/><path d="M641,680.2 L654,673.3 L649.9,673.8 L637,681.1Z" fill="#c94810"/><path d="M628,681.6 L641,680.2 L637,681.1 L624,682.4Z" fill="#c4440f"/><path d="M614.9,683 L628,681.6 L624,682.4 L611,683.7Z" fill="#c3440f"/><path d="M601.9,684.4 L614.9,683 L611,683.7 L598,685.1Z" fill="#c3430f"/><path d="M588.8,685.9 L601.9,684.4 L598,685.1 L585,686.4Z" fill="#c3430f"/><path d="M575.7,687.4 L588.8,685.9 L585,686.4 L572,687.8Z" fill="#c3430f"/><path d="M562.6,688.9 L575.7,687.4 L572,687.8 L558.9,689.1Z" fill="#c3420f"/><path d="M549.5,690.4 L562.6,688.9 L558.9,689.1 L545.8,690.5Z" fill="#c2420f"/><path d="M536.3,691.9 L549.5,690.4 L545.8,690.5 L532.7,691.8Z" fill="#c2420f"/><path d="M523.1,693.4 L536.3,691.9 L532.7,691.8 L519.6,693.1Z" fill="#c2410f"/><path d="M509.9,694.9 L523.1,693.4 L519.6,693.1 L506.5,694.4Z" fill="#c2410f"/><path d="M496.7,696.4 L509.9,694.9 L506.5,694.4 L493.3,695.7Z" fill="#c2410f"/><path d="M484.2,697.6 L496.7,696.4 L493.3,695.7 L480.9,696.8Z" fill="#c2400f"/><path d="M471.7,698.6 L484.2,697.6 L480.9,696.8 L468.4,697.9Z" fill="#c1400f"/><path d="M459.2,699.5 L471.7,698.6 L468.4,697.9 L455.9,698.9Z" fill="#c1400f"/><path d="M446.6,700.4 L459.2,699.5 L455.9,698.9 L443.5,699.9Z" fill="#c1400f"/><path d="M434.1,701.3 L446.6,700.4 L443.5,699.9 L431,700.9Z" fill="#c1400f"/><path d="M421.5,702.3 L434.1,701.3 L431,700.9 L418.4,702Z" fill="#c1400f"/><path d="M408.9,703.4 L421.5,702.3 L418.4,702 L405.9,703Z" fill="#c1400f"/><path d="M396.2,699.1 L408.9,703.4 L405.9,703 L393.3,699.5Z" fill="#bd400f"/><path d="M383.2,667.5 L396.2,699.1 L393.3,699.5 L380.3,668.2Z" fill="#c14b0e"/><path d="M370,625.5 L383.2,667.5 L380.3,668.2 L367.1,624.2Z" fill="#cf630e"/><path d="M356.9,601.5 L370,625.5 L367.1,624.2 L354.1,596.3Z" fill="#d3780f"/><path d="M344.1,601.8 L356.9,601.5 L354.1,596.3 L341.3,594.5Z" fill="#ea9013"/><path d="M328.9,590.6 L344.1,601.8 L341.3,594.5 L326.1,582.9Z" fill="#df8e13"/><path d="M313.5,572.4 L328.9,590.6 L326.1,582.9 L310.8,564.7Z" fill="#d89515"/><path d="M295,588.2 L313.5,572.4 L310.8,564.7 L292.3,580.4Z" fill="#eba517"/><path d="M276.4,604.9 L295,588.2 L292.3,580.4 L273.9,597.4Z" fill="#ed9a15"/><path d="M258,625.3 L276.4,604.9 L273.9,597.4 L255.5,618.4Z" fill="#ec8b12"/><path d="M239.3,636 L258,625.3 L255.5,618.4 L236.9,629.4Z" fill="#ef8210"/><path d="M220,618.2 L239.3,636 L236.9,629.4 L217.7,611.1Z" fill="#dc7b10"/><path d="M200.5,596.6 L220,618.2 L217.7,611.1 L198.2,589Z" fill="#da8912"/><path d="M849.5,538.4 L863.8,543.9 L858.8,546.4 L844.7,531.3Z" fill="#d79d16"/><path d="M836.1,554.5 L849.5,538.4 L844.7,531.3 L831.4,549.7Z" fill="#e6a517"/><path d="M828.9,589.9 L836.1,554.5 L831.4,549.7 L824.2,583.2Z" fill="#e28c13"/><path d="M821.7,628.8 L828.9,589.9 L824.2,583.2 L817,622.7Z" fill="#e0730f"/><path d="M814.5,667.2 L821.7,628.8 L817,622.7 L809.8,661.7Z" fill="#d55a0f"/><path d="M807.4,681.8 L814.5,667.2 L809.8,661.7 L802.9,665.9Z" fill="#d04b10"/><path d="M795.5,681.2 L807.4,681.8 L802.9,665.9 L790.9,675.7Z" fill="#ce4610"/><path d="M782.9,676 L795.5,681.2 L790.9,675.7 L778.4,670.4Z" fill="#c4440f"/><path d="M770.3,669.8 L782.9,676 L778.4,670.4 L765.9,664.1Z" fill="#c8490f"/><path d="M757.7,662.3 L770.3,669.8 L765.9,664.1 L753.3,656.5Z" fill="#cd4f0f"/><path d="M745.1,654.6 L757.7,662.3 L753.3,656.5 L740.7,648.6Z" fill="#d2560f"/><path d="M736.7,602.6 L745.1,654.6 L740.7,648.6 L732.3,598.2Z" fill="#cf630e"/><path d="M723.7,605.5 L736.7,602.6 L732.3,598.2 L719.4,600.8Z" fill="#ec7f10"/><path d="M710.7,605.5 L723.7,605.5 L719.4,600.8 L706.4,602.9Z" fill="#ea7d10"/><path d="M697.6,617.4 L710.7,605.5 L706.4,602.9 L693.3,616.5Z" fill="#e87910"/><path d="M684.4,637.7 L697.6,617.4 L693.3,616.5 L680.2,637.4Z" fill="#e26d10"/><path d="M671.2,662.6 L684.4,637.7 L680.2,637.4 L667,662.8Z" fill="#d95e0f"/><path d="M658.1,672.8 L671.2,662.6 L667,662.8 L654,673.3Z" fill="#d45310"/><path d="M645,679.4 L658.1,672.8 L654,673.3 L641,680.2Z" fill="#cd4c10"/><path d="M631.9,680.7 L645,679.4 L641,680.2 L628,681.6Z" fill="#c8490f"/><path d="M618.9,682.2 L631.9,680.7 L628,681.6 L614.9,683Z" fill="#c8480f"/><path d="M605.7,683.8 L618.9,682.2 L614.9,683 L601.9,684.4Z" fill="#c7480f"/><path d="M592.6,685.4 L605.7,683.8 L601.9,684.4 L588.8,685.9Z" fill="#c7470f"/><path d="M579.5,687.1 L592.6,685.4 L588.8,685.9 L575.7,687.4Z" fill="#c7470f"/><path d="M566.3,688.7 L579.5,687.1 L575.7,687.4 L562.6,688.9Z" fill="#c7460f"/><path d="M553.1,690.3 L566.3,688.7 L562.6,688.9 L549.5,690.4Z" fill="#c6460f"/><path d="M539.9,692 L553.1,690.3 L549.5,690.4 L536.3,691.9Z" fill="#c6450f"/><path d="M526.6,693.7 L539.9,692 L536.3,691.9 L523.1,693.4Z" fill="#c6450f"/><path d="M513.4,695.4 L526.6,693.7 L523.1,693.4 L509.9,694.9Z" fill="#c5440f"/><path d="M500.1,697 L513.4,695.4 L509.9,694.9 L496.7,696.4Z" fill="#c5440f"/><path d="M487.5,698.3 L500.1,697 L496.7,696.4 L484.2,697.6Z" fill="#c5440f"/><path d="M475,699.3 L487.5,698.3 L484.2,697.6 L471.7,698.6Z" fill="#c4430f"/><path d="M462.4,700.2 L475,699.3 L471.7,698.6 L459.2,699.5Z" fill="#c4430f"/><path d="M449.8,700.9 L462.4,700.2 L459.2,699.5 L446.6,700.4Z" fill="#c4430f"/><path d="M437.2,701.7 L449.8,700.9 L446.6,700.4 L434.1,701.3Z" fill="#c4430f"/><path d="M424.6,702.6 L437.2,701.7 L434.1,701.3 L421.5,702.3Z" fill="#c4430f"/><path d="M411.9,703.7 L424.6,702.6 L421.5,702.3 L408.9,703.4Z" fill="#c4430f"/><path d="M399.2,698.7 L411.9,703.7 L408.9,703.4 L396.2,699.1Z" fill="#c0430f"/><path d="M386.1,666.8 L399.2,698.7 L396.2,699.1 L383.2,667.5Z" fill="#c44f0e"/><path d="M372.9,626.9 L386.1,666.8 L383.2,667.5 L370,625.5Z" fill="#cf650e"/><path d="M359.8,606.7 L372.9,626.9 L370,625.5 L356.9,601.5Z" fill="#d37910"/><path d="M347,609.2 L359.8,606.7 L356.9,601.5 L344.1,601.8Z" fill="#ec9013"/><path d="M331.7,598.4 L347,609.2 L344.1,601.8 L328.9,590.6Z" fill="#e08c13"/><path d="M316.3,580.1 L331.7,598.4 L328.9,590.6 L313.5,572.4Z" fill="#d99314"/><path d="M297.7,596.1 L316.3,580.1 L313.5,572.4 L295,588.2Z" fill="#eda216"/><path d="M279,612.5 L297.7,596.1 L295,588.2 L276.4,604.9Z" fill="#ee9714"/><path d="M260.5,632.2 L279,612.5 L276.4,604.9 L258,625.3Z" fill="#ed8912"/><path d="M241.8,642.6 L260.5,632.2 L258,625.3 L239.3,636Z" fill="#ef8010"/><path d="M222.4,625.4 L241.8,642.6 L239.3,636 L220,618.2Z" fill="#dd790f"/><path d="M202.8,604.3 L222.4,625.4 L220,618.2 L200.5,596.6Z" fill="#da8712"/><path d="M854.2,550.2 L868.6,555.7 L863.8,543.9 L849.5,538.4Z" fill="#e5a317"/><path d="M840.8,564.1 L854.2,550.2 L849.5,538.4 L836.1,554.5Z" fill="#eca417"/><path d="M833.6,596.8 L840.8,564.1 L836.1,554.5 L828.9,589.9Z" fill="#e28b12"/><path d="M826.4,635 L833.6,596.8 L828.9,589.9 L821.7,628.8Z" fill="#e0710f"/><path d="M819.1,672.7 L826.4,635 L821.7,628.8 L814.5,667.2Z" fill="#d4590f"/><path d="M812,687.2 L819.1,672.7 L814.5,667.2 L807.4,681.8Z" fill="#c84610"/><path d="M800.1,686.8 L812,687.2 L807.4,681.8 L795.5,681.2Z" fill="#c54110"/><path d="M787.5,681.6 L800.1,686.8 L795.5,681.2 L782.9,676Z" fill="#c3420f"/><path d="M774.8,675.5 L787.5,681.6 L782.9,676 L770.3,669.8Z" fill="#c7480f"/><path d="M762.2,668.1 L774.8,675.5 L770.3,669.8 L757.7,662.3Z" fill="#cc4e0f"/><path d="M749.5,660.6 L762.2,668.1 L757.7,662.3 L745.1,654.6Z" fill="#d2550f"/><path d="M741.1,604 L749.5,660.6 L745.1,654.6 L736.7,602.6Z" fill="#cf630e"/><path d="M728.1,610.3 L741.1,604 L736.7,602.6 L723.7,605.5Z" fill="#eb7e10"/><path d="M715.1,608 L728.1,610.3 L723.7,605.5 L710.7,605.5Z" fill="#e87c10"/><path d="M701.9,618.2 L715.1,608 L710.7,605.5 L697.6,617.4Z" fill="#e97a10"/><path d="M688.6,637.9 L701.9,618.2 L697.6,617.4 L684.4,637.7Z" fill="#e37010"/><path d="M675.4,662.4 L688.6,637.9 L684.4,637.7 L671.2,662.6Z" fill="#db610f"/><path d="M662.2,672.2 L675.4,662.4 L671.2,662.6 L658.1,672.8Z" fill="#d75710"/><path d="M649.1,678.5 L662.2,672.2 L658.1,672.8 L645,679.4Z" fill="#d15110"/><path d="M636,679.9 L649.1,678.5 L645,679.4 L631.9,680.7Z" fill="#cc4d0f"/><path d="M622.8,681.4 L636,679.9 L631.9,680.7 L618.9,682.2Z" fill="#cc4d0f"/><path d="M609.6,683.1 L622.8,681.4 L618.9,682.2 L605.7,683.8Z" fill="#cc4c0f"/><path d="M596.5,684.9 L609.6,683.1 L605.7,683.8 L592.6,685.4Z" fill="#cb4c0f"/><path d="M583.3,686.7 L596.5,684.9 L592.6,685.4 L579.5,687.1Z" fill="#cb4b0f"/><path d="M570,688.4 L583.3,686.7 L579.5,687.1 L566.3,688.7Z" fill="#ca4a0f"/><path d="M556.8,690.3 L570,688.4 L566.3,688.7 L553.1,690.3Z" fill="#ca4a0f"/><path d="M543.5,692.1 L556.8,690.3 L553.1,690.3 L539.9,692Z" fill="#ca490f"/><path d="M530.2,694 L543.5,692.1 L539.9,692 L526.6,693.7Z" fill="#c9490f"/><path d="M516.9,695.9 L530.2,694 L526.6,693.7 L513.4,695.4Z" fill="#c9480f"/><path d="M503.5,697.7 L516.9,695.9 L513.4,695.4 L500.1,697Z" fill="#c8470f"/><path d="M490.9,699 L503.5,697.7 L500.1,697 L487.5,698.3Z" fill="#c8470f"/><path d="M478.3,700 L490.9,699 L487.5,698.3 L475,699.3Z" fill="#c7470f"/><path d="M465.7,700.8 L478.3,700 L475,699.3 L462.4,700.2Z" fill="#c7470f"/><path d="M453.1,701.4 L465.7,700.8 L462.4,700.2 L449.8,700.9Z" fill="#c7470f"/><path d="M440.4,702.2 L453.1,701.4 L449.8,700.9 L437.2,701.7Z" fill="#c7470f"/><path d="M427.7,703 L440.4,702.2 L437.2,701.7 L424.6,702.6Z" fill="#c7470f"/><path d="M415,704 L427.7,703 L424.6,702.6 L411.9,703.7Z" fill="#c7470f"/><path d="M402.2,698.2 L415,704 L411.9,703.7 L399.2,698.7Z" fill="#c3470f"/><path d="M389.1,666.1 L402.2,698.2 L399.2,698.7 L386.1,666.8Z" fill="#c6520e"/><path d="M375.8,628.3 L389.1,666.1 L386.1,666.8 L372.9,626.9Z" fill="#d0670e"/><path d="M362.7,612 L375.8,628.3 L372.9,626.9 L359.8,606.7Z" fill="#d57a10"/><path d="M349.9,616.5 L362.7,612 L359.8,606.7 L347,609.2Z" fill="#ee8f13"/><path d="M334.5,606.2 L349.9,616.5 L347,609.2 L331.7,598.4Z" fill="#e08a12"/><path d="M319,587.8 L334.5,606.2 L331.7,598.4 L316.3,580.1Z" fill="#d99114"/><path d="M300.4,604 L319,587.8 L316.3,580.1 L297.7,596.1Z" fill="#eda016"/><path d="M281.7,620.2 L300.4,604 L297.7,596.1 L279,612.5Z" fill="#ee9414"/><path d="M263,639.1 L281.7,620.2 L279,612.5 L260.5,632.2Z" fill="#ed8711"/><path d="M244.2,649.3 L263,639.1 L260.5,632.2 L241.8,642.6Z" fill="#ee7e10"/><path d="M224.8,632.6 L244.2,649.3 L241.8,642.6 L222.4,625.4Z" fill="#dd780f"/><path d="M205.2,612 L224.8,632.6 L222.4,625.4 L202.8,604.3Z" fill="#db8512"/><path d="M859.1,552.7 L873.4,567.1 L868.6,555.7 L854.2,550.2Z" fill="#df9a15"/><path d="M845.6,571.9 L859.1,552.7 L854.2,550.2 L840.8,564.1Z" fill="#ea9f16"/><path d="M838.4,603.6 L845.6,571.9 L840.8,564.1 L833.6,596.8Z" fill="#e28812"/><path d="M831.1,641.2 L838.4,603.6 L833.6,596.8 L826.4,635Z" fill="#df700f"/><path d="M823.9,678.2 L831.1,641.2 L826.4,635 L819.1,672.7Z" fill="#d4580f"/><path d="M816.7,692.7 L823.9,678.2 L819.1,672.7 L812,687.2Z" fill="#c74510"/><path d="M804.7,692.4 L816.7,692.7 L812,687.2 L800.1,686.8Z" fill="#c44010"/><path d="M792.1,687.3 L804.7,692.4 L800.1,686.8 L787.5,681.6Z" fill="#c2410f"/><path d="M779.4,681.3 L792.1,687.3 L787.5,681.6 L774.8,675.5Z" fill="#c6470f"/><path d="M766.7,674 L779.4,681.3 L774.8,675.5 L762.2,668.1Z" fill="#cb4d0f"/><path d="M754,666.6 L766.7,674 L762.2,668.1 L749.5,660.6Z" fill="#d1540f"/><path d="M745.4,620.6 L754,666.6 L749.5,660.6 L741.1,604Z" fill="#ce610e"/><path d="M732.4,615.1 L745.4,620.6 L741.1,604 L728.1,610.3Z" fill="#ee7f10"/><path d="M719.4,610.6 L732.4,615.1 L728.1,610.3 L715.1,608Z" fill="#e57b0f"/><path d="M706.2,619.2 L719.4,610.6 L715.1,608 L701.9,618.2Z" fill="#e97c10"/><path d="M692.9,638.2 L706.2,619.2 L701.9,618.2 L688.6,637.9Z" fill="#e37210"/><path d="M679.6,662.3 L692.9,638.2 L688.6,637.9 L675.4,662.4Z" fill="#dd640f"/><path d="M666.4,671.7 L679.6,662.3 L675.4,662.4 L662.2,672.2Z" fill="#d95a10"/><path d="M653.2,677.6 L666.4,671.7 L662.2,672.2 L649.1,678.5Z" fill="#d55510"/><path d="M640,679 L653.2,677.6 L649.1,678.5 L636,679.9Z" fill="#d0520f"/><path d="M626.8,680.6 L640,679 L636,679.9 L622.8,681.4Z" fill="#d0510f"/><path d="M613.6,682.5 L626.8,680.6 L622.8,681.4 L609.6,683.1Z" fill="#d0510f"/><path d="M600.3,684.4 L613.6,682.5 L609.6,683.1 L596.5,684.9Z" fill="#cf500f"/><path d="M587.1,686.3 L600.3,684.4 L596.5,684.9 L583.3,686.7Z" fill="#cf4f0f"/><path d="M573.8,688.2 L587.1,686.3 L583.3,686.7 L570,688.4Z" fill="#ce4f0f"/><path d="M560.5,690.2 L573.8,688.2 L570,688.4 L556.8,690.3Z" fill="#ce4e0f"/><path d="M547.1,692.2 L560.5,690.2 L556.8,690.3 L543.5,692.1Z" fill="#cd4d0f"/><path d="M533.8,694.3 L547.1,692.2 L543.5,692.1 L530.2,694Z" fill="#cd4c0f"/><path d="M520.4,696.5 L533.8,694.3 L530.2,694 L516.9,695.9Z" fill="#cc4c0f"/><path d="M507,698.4 L520.4,696.5 L516.9,695.9 L503.5,697.7Z" fill="#cb4b0f"/><path d="M494.4,699.8 L507,698.4 L503.5,697.7 L490.9,699Z" fill="#cb4a0f"/><path d="M481.7,700.8 L494.4,699.8 L490.9,699 L478.3,700Z" fill="#ca4a0f"/><path d="M469,701.4 L481.7,700.8 L478.3,700 L465.7,700.8Z" fill="#ca4a0f"/><path d="M456.3,702 L469,701.4 L465.7,700.8 L453.1,701.4Z" fill="#ca4a0f"/><path d="M443.6,702.6 L456.3,702 L453.1,701.4 L440.4,702.2Z" fill="#ca4a0f"/><path d="M430.8,703.3 L443.6,702.6 L440.4,702.2 L427.7,703Z" fill="#ca4a0f"/><path d="M418.1,704.3 L430.8,703.3 L427.7,703 L415,704Z" fill="#ca4a0f"/><path d="M405.2,697.8 L418.1,704.3 L415,704 L402.2,698.2Z" fill="#c64b0f"/><path d="M392,665.4 L405.2,697.8 L402.2,698.2 L389.1,666.1Z" fill="#c7550e"/><path d="M378.8,629.6 L392,665.4 L389.1,666.1 L375.8,628.3Z" fill="#d16a0e"/><path d="M365.7,617.2 L378.8,629.6 L375.8,628.3 L362.7,612Z" fill="#d87d10"/><path d="M352.8,624 L365.7,617.2 L362.7,612 L349.9,616.5Z" fill="#ee8e13"/><path d="M337.4,614.1 L352.8,624 L349.9,616.5 L334.5,606.2Z" fill="#e18812"/><path d="M321.8,595.6 L337.4,614.1 L334.5,606.2 L319,587.8Z" fill="#d98e13"/><path d="M303.1,611.9 L321.8,595.6 L319,587.8 L300.4,604Z" fill="#ee9d15"/><path d="M284.3,627.8 L303.1,611.9 L300.4,604 L281.7,620.2Z" fill="#ee9213"/><path d="M265.6,646.2 L284.3,627.8 L281.7,620.2 L263,639.1Z" fill="#ed8511"/><path d="M246.7,656.1 L265.6,646.2 L263,639.1 L244.2,649.3Z" fill="#ee7d10"/><path d="M227.2,639.8 L246.7,656.1 L244.2,649.3 L224.8,632.6Z" fill="#dd760f"/><path d="M207.5,619.8 L227.2,639.8 L224.8,632.6 L205.2,612Z" fill="#db8311"/><path d="M864,559.1 L878.4,569.3 L873.4,567.1 L859.1,552.7Z" fill="#db9615"/><path d="M850.4,578.5 L864,559.1 L859.1,552.7 L845.6,571.9Z" fill="#ea9d16"/><path d="M843.2,610.6 L850.4,578.5 L845.6,571.9 L838.4,603.6Z" fill="#e28511"/><path d="M835.9,647.4 L843.2,610.6 L838.4,603.6 L831.1,641.2Z" fill="#df6e0f"/><path d="M828.6,683.8 L835.9,647.4 L831.1,641.2 L823.9,678.2Z" fill="#d3570f"/><path d="M821.6,687.5 L828.6,683.8 L823.9,678.2 L816.7,692.7Z" fill="#c74610"/><path d="M809.4,698.1 L821.6,687.5 L816.7,692.7 L804.7,692.4Z" fill="#c34010"/><path d="M796.7,693 L809.4,698.1 L804.7,692.4 L792.1,687.3Z" fill="#c1400f"/><path d="M784,687.1 L796.7,693 L792.1,687.3 L779.4,681.3Z" fill="#c5460f"/><path d="M771.2,679.9 L784,687.1 L779.4,681.3 L766.7,674Z" fill="#ca4c0f"/><path d="M758.5,672.7 L771.2,679.9 L766.7,674 L754,666.6Z" fill="#d0530f"/><path d="M750,621.1 L758.5,672.7 L754,666.6 L745.4,620.6Z" fill="#cd5f0e"/><path d="M736.9,620 L750,621.1 L745.4,620.6 L732.4,615.1Z" fill="#e3770f"/><path d="M723.8,613.3 L736.9,620 L732.4,615.1 L719.4,610.6Z" fill="#e27a0f"/><path d="M710.6,620.1 L723.8,613.3 L719.4,610.6 L706.2,619.2Z" fill="#ea7e10"/><path d="M697.3,638.4 L710.6,620.1 L706.2,619.2 L692.9,638.2Z" fill="#e47410"/><path d="M683.8,662.1 L697.3,638.4 L692.9,638.2 L679.6,662.3Z" fill="#de670f"/><path d="M670.6,671.2 L683.8,662.1 L679.6,662.3 L666.4,671.7Z" fill="#da5d10"/><path d="M657.3,676.7 L670.6,671.2 L666.4,671.7 L653.2,677.6Z" fill="#d75810"/><path d="M644.1,678.1 L657.3,676.7 L653.2,677.6 L640,679Z" fill="#d4560f"/><path d="M630.8,679.8 L644.1,678.1 L640,679 L626.8,680.6Z" fill="#d4550f"/><path d="M617.6,681.8 L630.8,679.8 L626.8,680.6 L613.6,682.5Z" fill="#d4550f"/><path d="M604.3,683.9 L617.6,681.8 L613.6,682.5 L600.3,684.4Z" fill="#d3540f"/><path d="M590.9,685.9 L604.3,683.9 L600.3,684.4 L587.1,686.3Z" fill="#d3540f"/><path d="M577.6,688 L590.9,685.9 L587.1,686.3 L573.8,688.2Z" fill="#d2530f"/><path d="M564.2,690.1 L577.6,688 L573.8,688.2 L560.5,690.2Z" fill="#d1520f"/><path d="M550.8,692.3 L564.2,690.1 L560.5,690.2 L547.1,692.2Z" fill="#d1510f"/><path d="M537.4,694.6 L550.8,692.3 L547.1,692.2 L533.8,694.3Z" fill="#d0500f"/><path d="M524,697 L537.4,694.6 L533.8,694.3 L520.4,696.5Z" fill="#cf4f0f"/><path d="M510.5,699.1 L524,697 L520.4,696.5 L507,698.4Z" fill="#cf4e0f"/><path d="M497.8,700.6 L510.5,699.1 L507,698.4 L494.4,699.8Z" fill="#ce4e0f"/><path d="M485.1,701.5 L497.8,700.6 L494.4,699.8 L481.7,700.8Z" fill="#cd4d0f"/><path d="M472.4,702.1 L485.1,701.5 L481.7,700.8 L469,701.4Z" fill="#cd4d0f"/><path d="M459.6,702.5 L472.4,702.1 L469,701.4 L456.3,702Z" fill="#cd4d0f"/><path d="M446.8,703 L459.6,702.5 L456.3,702 L443.6,702.6Z" fill="#cd4e0f"/><path d="M434,703.7 L446.8,703 L443.6,702.6 L430.8,703.3Z" fill="#ce4e0f"/><path d="M421.2,704.6 L434,703.7 L430.8,703.3 L418.1,704.3Z" fill="#ce4e0f"/><path d="M408.3,697.3 L421.2,704.6 L418.1,704.3 L405.2,697.8Z" fill="#c94e0f"/><path d="M395,664.6 L408.3,697.3 L405.2,697.8 L392,665.4Z" fill="#c9580e"/><path d="M381.7,631 L395,664.6 L392,665.4 L378.8,629.6Z" fill="#d16c0e"/><path d="M368.6,622.5 L381.7,631 L378.8,629.6 L365.7,617.2Z" fill="#db7f11"/><path d="M355.7,631.5 L368.6,622.5 L365.7,617.2 L352.8,624Z" fill="#ee8c12"/><path d="M340.3,622 L355.7,631.5 L352.8,624 L337.4,614.1Z" fill="#e18612"/><path d="M324.7,603.5 L340.3,622 L337.4,614.1 L321.8,595.6Z" fill="#da8c13"/><path d="M305.8,619.9 L324.7,603.5 L321.8,595.6 L303.1,611.9Z" fill="#ee9a15"/><path d="M287,635.6 L305.8,619.9 L303.1,611.9 L284.3,627.8Z" fill="#ee8f13"/><path d="M268.2,653.2 L287,635.6 L284.3,627.8 L265.6,646.2Z" fill="#ed8311"/><path d="M249.2,662.9 L268.2,653.2 L265.6,646.2 L246.7,656.1Z" fill="#ed7b10"/><path d="M229.6,647.1 L249.2,662.9 L246.7,656.1 L227.2,639.8Z" fill="#dd750f"/><path d="M209.9,627.7 L229.6,647.1 L227.2,639.8 L207.5,619.8Z" fill="#dc8111"/><path d="M868.9,569.1 L883.4,576.4 L878.4,569.3 L864,559.1Z" fill="#e39915"/><path d="M855.3,584.7 L868.9,569.1 L864,559.1 L850.4,578.5Z" fill="#eb9c15"/><path d="M848,617.5 L855.3,584.7 L850.4,578.5 L843.2,610.6Z" fill="#e28311"/><path d="M840.7,653.6 L848,617.5 L843.2,610.6 L835.9,647.4Z" fill="#df6d0f"/><path d="M833.4,689.4 L840.7,653.6 L835.9,647.4 L828.6,683.8Z" fill="#d3560f"/><path d="M826.2,703.7 L833.4,689.4 L828.6,683.8 L821.6,687.5Z" fill="#cd4710"/><path d="M814.1,703.7 L826.2,703.7 L821.6,687.5 L809.4,698.1Z" fill="#ca4210"/><path d="M801.4,698.8 L814.1,703.7 L809.4,698.1 L796.7,693Z" fill="#c03f0f"/><path d="M788.6,692.9 L801.4,698.8 L796.7,693 L784,687.1Z" fill="#c4440f"/><path d="M775.8,685.8 L788.6,692.9 L784,687.1 L771.2,679.9Z" fill="#c94a0f"/><path d="M763,678.8 L775.8,685.8 L771.2,679.9 L758.5,672.7Z" fill="#cf510f"/><path d="M754.4,628.2 L763,678.8 L758.5,672.7 L750,621.1Z" fill="#cd5f0e"/><path d="M741.3,625.3 L754.4,628.2 L750,621.1 L736.9,620Z" fill="#e87a10"/><path d="M728.3,616.5 L741.3,625.3 L736.9,620 L723.8,613.3Z" fill="#e0780f"/><path d="M715,621.7 L728.3,616.5 L723.8,613.3 L710.6,620.1Z" fill="#ea7f10"/><path d="M701.6,639.3 L715,621.7 L710.6,620.1 L697.3,638.4Z" fill="#e67710"/><path d="M688.1,662.5 L701.6,639.3 L697.3,638.4 L683.8,662.1Z" fill="#e06a0f"/><path d="M674.8,671.3 L688.1,662.5 L683.8,662.1 L670.6,671.2Z" fill="#dd6010"/><path d="M661.5,676.4 L674.8,671.3 L670.6,671.2 L657.3,676.7Z" fill="#d95c10"/><path d="M648.2,677.9 L661.5,676.4 L657.3,676.7 L644.1,678.1Z" fill="#d6590f"/><path d="M634.9,679.7 L648.2,677.9 L644.1,678.1 L630.8,679.8Z" fill="#d6590f"/><path d="M621.6,681.8 L634.9,679.7 L630.8,679.8 L617.6,681.8Z" fill="#d6590f"/><path d="M608.2,684 L621.6,681.8 L617.6,681.8 L604.3,683.9Z" fill="#d6580f"/><path d="M594.8,686.2 L608.2,684 L604.3,683.9 L590.9,685.9Z" fill="#d6570f"/><path d="M581.4,688.3 L594.8,686.2 L590.9,685.9 L577.6,688Z" fill="#d6570f"/><path d="M568,690.6 L581.4,688.3 L577.6,688 L564.2,690.1Z" fill="#d5560f"/><path d="M554.5,693 L568,690.6 L564.2,690.1 L550.8,692.3Z" fill="#d55510"/><path d="M541.1,695.5 L554.5,693 L550.8,692.3 L537.4,694.6Z" fill="#d45410"/><path d="M527.6,698 L541.1,695.5 L537.4,694.6 L524,697Z" fill="#d35310"/><path d="M514,700.2 L527.6,698 L524,697 L510.5,699.1Z" fill="#d25210"/><path d="M501.3,701.8 L514,700.2 L510.5,699.1 L497.8,700.6Z" fill="#d15110"/><path d="M488.5,702.7 L501.3,701.8 L497.8,700.6 L485.1,701.5Z" fill="#d15010"/><path d="M475.7,703.2 L488.5,702.7 L485.1,701.5 L472.4,702.1Z" fill="#d0500f"/><path d="M462.9,703.5 L475.7,703.2 L472.4,702.1 L459.6,702.5Z" fill="#d1510f"/><path d="M450.1,703.9 L462.9,703.5 L459.6,702.5 L446.8,703Z" fill="#d1510f"/><path d="M437.2,704.6 L450.1,703.9 L446.8,703 L434,703.7Z" fill="#d1510f"/><path d="M424.3,705.5 L437.2,704.6 L434,703.7 L421.2,704.6Z" fill="#d2520f"/><path d="M411.3,697.5 L424.3,705.5 L421.2,704.6 L408.3,697.3Z" fill="#cc520f"/><path d="M398.1,664.7 L411.3,697.5 L408.3,697.3 L395,664.6Z" fill="#cb5b0e"/><path d="M384.7,633 L398.1,664.7 L395,664.6 L381.7,631Z" fill="#d26e0e"/><path d="M371.6,628.2 L384.7,633 L381.7,631 L368.6,622.5Z" fill="#e08311"/><path d="M358.7,639 L371.6,628.2 L368.6,622.5 L355.7,631.5Z" fill="#ee8a12"/><path d="M343.2,630 L358.7,639 L355.7,631.5 L340.3,622Z" fill="#e28411"/><path d="M327.5,611.4 L343.2,630 L340.3,622 L324.7,603.5Z" fill="#da8912"/><path d="M308.6,628 L327.5,611.4 L324.7,603.5 L305.8,619.9Z" fill="#ee9714"/><path d="M289.7,643.4 L308.6,628 L305.8,619.9 L287,635.6Z" fill="#ee8d12"/><path d="M270.8,660.3 L289.7,643.4 L287,635.6 L268.2,653.2Z" fill="#ee8110"/><path d="M251.7,669.7 L270.8,660.3 L268.2,653.2 L249.2,662.9Z" fill="#ed7a10"/><path d="M232.1,654.5 L251.7,669.7 L249.2,662.9 L229.6,647.1Z" fill="#dd740f"/><path d="M212.3,635.6 L232.1,654.5 L229.6,647.1 L209.9,627.7Z" fill="#dc7f10"/><path d="M873.8,578.7 L888.4,585.4 L883.4,576.4 L868.9,569.1Z" fill="#e69714"/><path d="M860.4,586.5 L873.8,578.7 L868.9,569.1 L855.3,584.7Z" fill="#ec9a15"/><path d="M852.9,624.6 L860.4,586.5 L855.3,584.7 L848,617.5Z" fill="#e28211"/><path d="M845.6,659.9 L852.9,624.6 L848,617.5 L840.7,653.6Z" fill="#de6c0f"/><path d="M838.2,695.1 L845.6,659.9 L840.7,653.6 L833.4,689.4Z" fill="#d2550f"/><path d="M831,709.2 L838.2,695.1 L833.4,689.4 L826.2,703.7Z" fill="#c44210"/><path d="M818.9,709.4 L831,709.2 L826.2,703.7 L814.1,703.7Z" fill="#bf3d0f"/><path d="M806.1,704.5 L818.9,709.4 L814.1,703.7 L801.4,698.8Z" fill="#bf3e0f"/><path d="M793.2,698.7 L806.1,704.5 L801.4,698.8 L788.6,692.9Z" fill="#c3430f"/><path d="M780.4,691.7 L793.2,698.7 L788.6,692.9 L775.8,685.8Z" fill="#c8490f"/><path d="M767.6,684.9 L780.4,691.7 L775.8,685.8 L763,678.8Z" fill="#ce500f"/><path d="M759,633.7 L767.6,684.9 L763,678.8 L754.4,628.2Z" fill="#cc5d0e"/><path d="M745.8,632.5 L759,633.7 L754.4,628.2 L741.3,625.3Z" fill="#e87910"/><path d="M732.7,624.4 L745.8,632.5 L741.3,625.3 L728.3,616.5Z" fill="#e2780f"/><path d="M719.4,629.9 L732.7,624.4 L728.3,616.5 L715,621.7Z" fill="#f08210"/><path d="M705.9,647.2 L719.4,629.9 L715,621.7 L701.6,639.3Z" fill="#ea7910"/><path d="M692.4,669.7 L705.9,647.2 L701.6,639.3 L688.1,662.5Z" fill="#e46c10"/><path d="M679,678.2 L692.4,669.7 L688.1,662.5 L674.8,671.3Z" fill="#e46410"/><path d="M665.7,683.1 L679,678.2 L674.8,671.3 L661.5,676.4Z" fill="#e26010"/><path d="M652.3,684.6 L665.7,683.1 L661.5,676.4 L648.2,677.9Z" fill="#df5e10"/><path d="M639,686.4 L652.3,684.6 L648.2,677.9 L634.9,679.7Z" fill="#df5d10"/><path d="M625.6,688.5 L639,686.4 L634.9,679.7 L621.6,681.8Z" fill="#df5d10"/><path d="M612.2,690.6 L625.6,688.5 L621.6,681.8 L608.2,684Z" fill="#de5c10"/><path d="M598.7,692.8 L612.2,690.6 L608.2,684 L594.8,686.2Z" fill="#de5b10"/><path d="M585.3,694.9 L598.7,692.8 L594.8,686.2 L581.4,688.3Z" fill="#dd5a10"/><path d="M571.8,697.1 L585.3,694.9 L581.4,688.3 L568,690.6Z" fill="#dd5a10"/><path d="M558.3,699.4 L571.8,697.1 L568,690.6 L554.5,693Z" fill="#dd5910"/><path d="M544.8,701.9 L558.3,699.4 L554.5,693 L541.1,695.5Z" fill="#dc5710"/><path d="M531.2,704.3 L544.8,701.9 L541.1,695.5 L527.6,698Z" fill="#da5610"/><path d="M517.6,706.5 L531.2,704.3 L527.6,698 L514,700.2Z" fill="#d95510"/><path d="M504.8,708 L517.6,706.5 L514,700.2 L501.3,701.8Z" fill="#d85410"/><path d="M492,709 L504.8,708 L501.3,701.8 L488.5,702.7Z" fill="#d75310"/><path d="M479.2,709.5 L492,709 L488.5,702.7 L475.7,703.2Z" fill="#d75310"/><path d="M466.3,709.9 L479.2,709.5 L475.7,703.2 L462.9,703.5Z" fill="#d75410"/><path d="M453.4,710.4 L466.3,709.9 L462.9,703.5 L450.1,703.9Z" fill="#d85410"/><path d="M440.5,711.1 L453.4,710.4 L450.1,703.9 L437.2,704.6Z" fill="#d85510"/><path d="M427.6,712 L440.5,711.1 L437.2,704.6 L424.3,705.5Z" fill="#d95510"/><path d="M414.5,704.3 L427.6,712 L424.3,705.5 L411.3,697.5Z" fill="#d1540f"/><path d="M401.2,672.8 L414.5,704.3 L411.3,697.5 L398.1,664.7Z" fill="#cb5b0e"/><path d="M387.8,642.4 L401.2,672.8 L398.1,664.7 L384.7,633Z" fill="#d26e0e"/><path d="M374.7,637.6 L387.8,642.4 L384.7,633 L371.6,628.2Z" fill="#e78511"/><path d="M361.7,647.6 L374.7,637.6 L371.6,628.2 L358.7,639Z" fill="#ef8812"/><path d="M346.1,638.4 L361.7,647.6 L358.7,639 L343.2,630Z" fill="#e38111"/><path d="M330.4,619.3 L346.1,638.4 L343.2,630 L327.5,611.4Z" fill="#da8712"/><path d="M311.4,636.1 L330.4,619.3 L327.5,611.4 L308.6,628Z" fill="#ee9514"/><path d="M292.4,651.2 L311.4,636.1 L308.6,628 L289.7,643.4Z" fill="#ee8a12"/><path d="M273.4,667.5 L292.4,651.2 L289.7,643.4 L270.8,660.3Z" fill="#ee7f10"/><path d="M254.2,676.6 L273.4,667.5 L270.8,660.3 L251.7,669.7Z" fill="#ed7810"/><path d="M234.5,661.9 L254.2,676.6 L251.7,669.7 L232.1,654.5Z" fill="#dd730f"/><path d="M214.7,643.5 L234.5,661.9 L232.1,654.5 L212.3,635.6Z" fill="#dc7d10"/><path d="M878.8,587.1 L893.2,599.6 L888.4,585.4 L873.8,578.7Z" fill="#e49114"/><path d="M865.2,599.3 L878.8,587.1 L873.8,578.7 L860.4,586.5Z" fill="#f09915"/><path d="M857.8,631.6 L865.2,599.3 L860.4,586.5 L852.9,624.6Z" fill="#e38011"/><path d="M850.5,666.3 L857.8,631.6 L852.9,624.6 L845.6,659.9Z" fill="#de6a0f"/><path d="M843.1,700.7 L850.5,666.3 L845.6,659.9 L838.2,695.1Z" fill="#d2540f"/><path d="M835.8,714.8 L843.1,700.7 L838.2,695.1 L831,709.2Z" fill="#c44110"/><path d="M823.7,715.2 L835.8,714.8 L831,709.2 L818.9,709.4Z" fill="#bd3c0f"/><path d="M810.8,710.3 L823.7,715.2 L818.9,709.4 L806.1,704.5Z" fill="#be3d0f"/><path d="M797.9,704.6 L810.8,710.3 L806.1,704.5 L793.2,698.7Z" fill="#c2420f"/><path d="M785.1,697.7 L797.9,704.6 L793.2,698.7 L780.4,691.7Z" fill="#c7480f"/><path d="M772.1,691 L785.1,697.7 L780.4,691.7 L767.6,684.9Z" fill="#cd4f0f"/><path d="M763.5,647.3 L772.1,691 L767.6,684.9 L759,633.7Z" fill="#cb5b0e"/><path d="M750.3,640.3 L763.5,647.3 L759,633.7 L745.8,632.5Z" fill="#e87610"/><path d="M737.1,633.5 L750.3,640.3 L745.8,632.5 L732.7,624.4Z" fill="#e3770f"/><path d="M723.8,639.7 L737.1,633.5 L732.7,624.4 L719.4,629.9Z" fill="#f07f10"/><path d="M710.2,656.9 L723.8,639.7 L719.4,629.9 L705.9,647.2Z" fill="#ea7610"/><path d="M696.7,678.6 L710.2,656.9 L705.9,647.2 L692.4,669.7Z" fill="#e46a10"/><path d="M683.3,686.8 L696.7,678.6 L692.4,669.7 L679,678.2Z" fill="#e46210"/><path d="M669.9,691.7 L683.3,686.8 L679,678.2 L665.7,683.1Z" fill="#e25e10"/><path d="M656.5,693.2 L669.9,691.7 L665.7,683.1 L652.3,684.6Z" fill="#df5c10"/><path d="M643.1,694.9 L656.5,693.2 L652.3,684.6 L639,686.4Z" fill="#df5c10"/><path d="M629.6,696.9 L643.1,694.9 L639,686.4 L625.6,688.5Z" fill="#df5b10"/><path d="M616.2,699 L629.6,696.9 L625.6,688.5 L612.2,690.6Z" fill="#df5a10"/><path d="M602.7,701 L616.2,699 L612.2,690.6 L598.7,692.8Z" fill="#de5a10"/><path d="M589.2,703.1 L602.7,701 L598.7,692.8 L585.3,694.9Z" fill="#de5910"/><path d="M575.6,705.2 L589.2,703.1 L585.3,694.9 L571.8,697.1Z" fill="#dd5810"/><path d="M562.1,707.4 L575.6,705.2 L571.8,697.1 L558.3,699.4Z" fill="#dc5710"/><path d="M548.5,709.7 L562.1,707.4 L558.3,699.4 L544.8,701.9Z" fill="#db5610"/><path d="M534.9,712 L548.5,709.7 L544.8,701.9 L531.2,704.3Z" fill="#d95410"/><path d="M521.2,714.1 L534.9,712 L531.2,704.3 L517.6,706.5Z" fill="#d85310"/><path d="M508.4,715.6 L521.2,714.1 L517.6,706.5 L504.8,708Z" fill="#d75210"/><path d="M495.5,716.6 L508.4,715.6 L504.8,708 L492,709Z" fill="#d65210"/><path d="M482.6,717.2 L495.5,716.6 L492,709 L479.2,709.5Z" fill="#d65210"/><path d="M469.7,717.7 L482.6,717.2 L479.2,709.5 L466.3,709.9Z" fill="#d75210"/><path d="M456.8,718.2 L469.7,717.7 L466.3,709.9 L453.4,710.4Z" fill="#d75310"/><path d="M443.8,719 L456.8,718.2 L453.4,710.4 L440.5,711.1Z" fill="#d85310"/><path d="M430.8,720 L443.8,719 L440.5,711.1 L427.6,712Z" fill="#d85310"/><path d="M417.7,712.8 L430.8,720 L427.6,712 L414.5,704.3Z" fill="#d2530f"/><path d="M404.4,683 L417.7,712.8 L414.5,704.3 L401.2,672.8Z" fill="#ca590e"/><path d="M391,653.6 L404.4,683 L401.2,672.8 L387.8,642.4Z" fill="#d26b0e"/><path d="M377.8,648 L391,653.6 L387.8,642.4 L374.7,637.6Z" fill="#e88111"/><path d="M364.7,656.3 L377.8,648 L374.7,637.6 L361.7,647.6Z" fill="#f08511"/><path d="M349.1,646.9 L364.7,656.3 L361.7,647.6 L346.1,638.4Z" fill="#e37e10"/><path d="M333.3,627.3 L349.1,646.9 L346.1,638.4 L330.4,619.3Z" fill="#d98411"/><path d="M314.2,644.2 L333.3,627.3 L330.4,619.3 L311.4,636.1Z" fill="#ee9213"/><path d="M295.1,659 L314.2,644.2 L311.4,636.1 L292.4,651.2Z" fill="#ee8711"/><path d="M276,674.7 L295.1,659 L292.4,651.2 L273.4,667.5Z" fill="#ed7d10"/><path d="M256.8,683.5 L276,674.7 L273.4,667.5 L254.2,676.6Z" fill="#ec7710"/><path d="M237,669.3 L256.8,683.5 L254.2,676.6 L234.5,661.9Z" fill="#dd710f"/><path d="M217.1,651.6 L237,669.3 L234.5,661.9 L214.7,643.5Z" fill="#dd7b10"/><path d="M883.9,589.2 L898.5,598.6 L893.2,599.6 L878.8,587.1Z" fill="#da8912"/><path d="M870.1,611.9 L883.9,589.2 L878.8,587.1 L865.2,599.3Z" fill="#eb9214"/><path d="M862.8,638.8 L870.1,611.9 L865.2,599.3 L857.8,631.6Z" fill="#e47d10"/><path d="M855.4,672.7 L862.8,638.8 L857.8,631.6 L850.5,666.3Z" fill="#dd690f"/><path d="M848,706.4 L855.4,672.7 L850.5,666.3 L843.1,700.7Z" fill="#d1520f"/><path d="M840.9,709.6 L848,706.4 L843.1,700.7 L835.8,714.8Z" fill="#c44210"/><path d="M828.5,720.9 L840.9,709.6 L835.8,714.8 L823.7,715.2Z" fill="#bd3c0f"/><path d="M815.6,716.2 L828.5,720.9 L823.7,715.2 L810.8,710.3Z" fill="#bc3c0f"/><path d="M802.7,710.5 L815.6,716.2 L810.8,710.3 L797.9,704.6Z" fill="#c2410f"/><path d="M789.8,703.7 L802.7,710.5 L797.9,704.6 L785.1,697.7Z" fill="#c6470f"/><path d="M776.8,697.2 L789.8,703.7 L785.1,697.7 L772.1,691Z" fill="#cc4e0f"/><path d="M768.1,650.4 L776.8,697.2 L772.1,691 L763.5,647.3Z" fill="#ca5a0e"/><path d="M754.9,648.4 L768.1,650.4 L763.5,647.3 L750.3,640.3Z" fill="#e3720f"/><path d="M741.6,643.1 L754.9,648.4 L750.3,640.3 L737.1,633.5Z" fill="#e47610"/><path d="M728.2,650.2 L741.6,643.1 L737.1,633.5 L723.8,639.7Z" fill="#ef7c10"/><path d="M714.6,667.2 L728.2,650.2 L723.8,639.7 L710.2,656.9Z" fill="#ea7310"/><path d="M701,688.1 L714.6,667.2 L710.2,656.9 L696.7,678.6Z" fill="#e36610"/><path d="M687.5,696.1 L701,688.1 L696.7,678.6 L683.3,686.8Z" fill="#e25f10"/><path d="M674.1,700.9 L687.5,696.1 L683.3,686.8 L669.9,691.7Z" fill="#e05b10"/><path d="M660.6,702.3 L674.1,700.9 L669.9,691.7 L656.5,693.2Z" fill="#de5910"/><path d="M647.2,704 L660.6,702.3 L656.5,693.2 L643.1,694.9Z" fill="#de5910"/><path d="M633.7,705.9 L647.2,704 L643.1,694.9 L629.6,696.9Z" fill="#dd5810"/><path d="M620.2,707.9 L633.7,705.9 L629.6,696.9 L616.2,699Z" fill="#dd5810"/><path d="M606.6,709.8 L620.2,707.9 L616.2,699 L602.7,701Z" fill="#dc5710"/><path d="M593.1,711.8 L606.6,709.8 L602.7,701 L589.2,703.1Z" fill="#db5610"/><path d="M579.5,713.8 L593.1,711.8 L589.2,703.1 L575.6,705.2Z" fill="#da5510"/><path d="M565.9,715.9 L579.5,713.8 L575.6,705.2 L562.1,707.4Z" fill="#d95410"/><path d="M552.2,718 L565.9,715.9 L562.1,707.4 L548.5,709.7Z" fill="#d85310"/><path d="M538.6,720.2 L552.2,718 L548.5,709.7 L534.9,712Z" fill="#d75210"/><path d="M524.9,722.2 L538.6,720.2 L534.9,712 L521.2,714.1Z" fill="#d65010"/><path d="M512,723.6 L524.9,722.2 L521.2,714.1 L508.4,715.6Z" fill="#d55010"/><path d="M499.1,724.7 L512,723.6 L508.4,715.6 L495.5,716.6Z" fill="#d44f10"/><path d="M486.1,725.4 L499.1,724.7 L495.5,716.6 L482.6,717.2Z" fill="#d44f10"/><path d="M473.2,725.9 L486.1,725.4 L482.6,717.2 L469.7,717.7Z" fill="#d45010"/><path d="M460.2,726.6 L473.2,725.9 L469.7,717.7 L456.8,718.2Z" fill="#d55010"/><path d="M447.1,727.4 L460.2,726.6 L456.8,718.2 L443.8,719Z" fill="#d55010"/><path d="M434.1,728.4 L447.1,727.4 L443.8,719 L430.8,720Z" fill="#d55010"/><path d="M421,721.9 L434.1,728.4 L430.8,720 L417.7,712.8Z" fill="#d0500f"/><path d="M407.6,693.9 L421,721.9 L417.7,712.8 L404.4,683Z" fill="#c9570e"/><path d="M394.2,665.5 L407.6,693.9 L404.4,683 L391,653.6Z" fill="#d2680e"/><path d="M380.9,658.7 L394.2,665.5 L391,653.6 L377.8,648Z" fill="#e77c10"/><path d="M367.8,665.2 L380.9,658.7 L377.8,648 L364.7,656.3Z" fill="#f08110"/><path d="M352.1,655.6 L367.8,665.2 L364.7,656.3 L349.1,646.9Z" fill="#e37b10"/><path d="M336.2,635.3 L352.1,655.6 L349.1,646.9 L333.3,627.3Z" fill="#d98111"/><path d="M317.1,652.4 L336.2,635.3 L333.3,627.3 L314.2,644.2Z" fill="#ee8f13"/><path d="M297.9,667 L317.1,652.4 L314.2,644.2 L295.1,659Z" fill="#ef8511"/><path d="M278.7,681.9 L297.9,667 L295.1,659 L276,674.7Z" fill="#ed7b10"/><path d="M259.4,690.5 L278.7,681.9 L276,674.7 L256.8,683.5Z" fill="#ec7510"/><path d="M239.5,676.8 L259.4,690.5 L256.8,683.5 L237,669.3Z" fill="#dd700f"/><path d="M219.5,659.6 L239.5,676.8 L237,669.3 L217.1,651.6Z" fill="#dd790f"/><path d="M888.9,601.6 L903.6,608.2 L898.5,598.6 L883.9,589.2Z" fill="#e68f13"/><path d="M875.2,615.6 L888.9,601.6 L883.9,589.2 L870.1,611.9Z" fill="#eb9013"/><path d="M867.8,645.9 L875.2,615.6 L870.1,611.9 L862.8,638.8Z" fill="#e37a0f"/><path d="M860.4,679.1 L867.8,645.9 L862.8,638.8 L855.4,672.7Z" fill="#dd670f"/><path d="M853,712.2 L860.4,679.1 L855.4,672.7 L848,706.4Z" fill="#d0510f"/><path d="M845.6,726.1 L853,712.2 L848,706.4 L840.9,709.6Z" fill="#ca4310"/><path d="M833.4,726.7 L845.6,726.1 L840.9,709.6 L828.5,720.9Z" fill="#c43e10"/><path d="M820.4,722 L833.4,726.7 L828.5,720.9 L815.6,716.2Z" fill="#ba3b0f"/><path d="M807.5,716.4 L820.4,722 L815.6,716.2 L802.7,710.5Z" fill="#c1400f"/><path d="M794.5,709.7 L807.5,716.4 L802.7,710.5 L789.8,703.7Z" fill="#c5460f"/><path d="M781.5,703.3 L794.5,709.7 L789.8,703.7 L776.8,697.2Z" fill="#cb4c0f"/><path d="M772.8,657.6 L781.5,703.3 L776.8,697.2 L768.1,650.4Z" fill="#ca590e"/><path d="M759.4,656.5 L772.8,657.6 L768.1,650.4 L754.9,648.4Z" fill="#e87310"/><path d="M746.1,652.8 L759.4,656.5 L754.9,648.4 L741.6,643.1Z" fill="#e67410"/><path d="M732.6,660.7 L746.1,652.8 L741.6,643.1 L728.2,650.2Z" fill="#ee7810"/><path d="M719,677.5 L732.6,660.7 L728.2,650.2 L714.6,667.2Z" fill="#e96f10"/><path d="M705.4,697.6 L719,677.5 L714.6,667.2 L701,688.1Z" fill="#e16310"/><path d="M691.8,705.3 L705.4,697.6 L701,688.1 L687.5,696.1Z" fill="#e15c10"/><path d="M678.3,710 L691.8,705.3 L687.5,696.1 L674.1,700.9Z" fill="#de5810"/><path d="M664.8,711.5 L678.3,710 L674.1,700.9 L660.6,702.3Z" fill="#db5610"/><path d="M651.3,713.1 L664.8,711.5 L660.6,702.3 L647.2,704Z" fill="#da5510"/><path d="M637.8,714.9 L651.3,713.1 L647.2,704 L633.7,705.9Z" fill="#da5410"/><path d="M624.2,716.8 L637.8,714.9 L633.7,705.9 L620.2,707.9Z" fill="#d95410"/><path d="M610.6,718.7 L624.2,716.8 L620.2,707.9 L606.6,709.8Z" fill="#d85310"/><path d="M597,720.5 L610.6,718.7 L606.6,709.8 L593.1,711.8Z" fill="#d75210"/><path d="M583.4,722.4 L597,720.5 L593.1,711.8 L579.5,713.8Z" fill="#d75110"/><path d="M569.7,724.4 L583.4,722.4 L579.5,713.8 L565.9,715.9Z" fill="#d65010"/><path d="M556,726.4 L569.7,724.4 L565.9,715.9 L552.2,718Z" fill="#d54f10"/><path d="M542.3,728.4 L556,726.4 L552.2,718 L538.6,720.2Z" fill="#d44e10"/><path d="M528.6,730.2 L542.3,728.4 L538.6,720.2 L524.9,722.2Z" fill="#d34d10"/><path d="M515.6,731.6 L528.6,730.2 L524.9,722.2 L512,723.6Z" fill="#d24d10"/><path d="M502.6,732.7 L515.6,731.6 L512,723.6 L499.1,724.7Z" fill="#d24c10"/><path d="M489.6,733.5 L502.6,732.7 L499.1,724.7 L486.1,725.4Z" fill="#d14c10"/><path d="M476.6,734.2 L489.6,733.5 L486.1,725.4 L473.2,725.9Z" fill="#d24d10"/><path d="M463.6,735 L476.6,734.2 L473.2,725.9 L460.2,726.6Z" fill="#d24d10"/><path d="M450.5,735.9 L463.6,735 L460.2,726.6 L447.1,727.4Z" fill="#d24d10"/><path d="M437.4,736.9 L450.5,735.9 L447.1,727.4 L434.1,728.4Z" fill="#d34d10"/><path d="M424.3,731 L437.4,736.9 L434.1,728.4 L421,721.9Z" fill="#cd4d0f"/><path d="M410.9,704.8 L424.3,731 L421,721.9 L407.6,693.9Z" fill="#c8540e"/><path d="M397.4,677.4 L410.9,704.8 L407.6,693.9 L394.2,665.5Z" fill="#d1650e"/><path d="M384.1,669.4 L397.4,677.4 L394.2,665.5 L380.9,658.7Z" fill="#e4770f"/><path d="M370.8,674.2 L384.1,669.4 L380.9,658.7 L367.8,665.2Z" fill="#f07e10"/><path d="M355.1,664.2 L370.8,674.2 L367.8,665.2 L352.1,655.6Z" fill="#e2780f"/><path d="M339.2,643.3 L355.1,664.2 L352.1,655.6 L336.2,635.3Z" fill="#d97e10"/><path d="M319.9,660.6 L339.2,643.3 L336.2,635.3 L317.1,652.4Z" fill="#ee8d12"/><path d="M300.7,674.9 L319.9,660.6 L317.1,652.4 L297.9,667Z" fill="#ef8211"/><path d="M281.4,689.2 L300.7,674.9 L297.9,667 L278.7,681.9Z" fill="#ed7a10"/><path d="M262,697.6 L281.4,689.2 L278.7,681.9 L259.4,690.5Z" fill="#eb7410"/><path d="M242.1,684.4 L262,697.6 L259.4,690.5 L239.5,676.8Z" fill="#dd6f0f"/><path d="M222,667.8 L242.1,684.4 L239.5,676.8 L219.5,659.6Z" fill="#de770f"/><path d="M894.1,606.4 L908.8,617.3 L903.6,608.2 L888.9,601.6Z" fill="#e28a12"/><path d="M880.3,619.4 L894.1,606.4 L888.9,601.6 L875.2,615.6Z" fill="#eb8e13"/><path d="M872.9,653.1 L880.3,619.4 L875.2,615.6 L867.8,645.9Z" fill="#e2790f"/><path d="M865.4,685.6 L872.9,653.1 L867.8,645.9 L860.4,679.1Z" fill="#dc660f"/><path d="M858,717.9 L865.4,685.6 L860.4,679.1 L853,712.2Z" fill="#ce500f"/><path d="M850.6,731.7 L858,717.9 L853,712.2 L845.6,726.1Z" fill="#c13e10"/><path d="M838.3,732.5 L850.6,731.7 L845.6,726.1 L833.4,726.7Z" fill="#b8390f"/><path d="M825.3,727.9 L838.3,732.5 L833.4,726.7 L820.4,722Z" fill="#b83a0f"/><path d="M812.3,722.3 L825.3,727.9 L820.4,722 L807.5,716.4Z" fill="#c03f0f"/><path d="M799.3,715.7 L812.3,722.3 L807.5,716.4 L794.5,709.7Z" fill="#c4450f"/><path d="M786.2,709.5 L799.3,715.7 L794.5,709.7 L781.5,703.3Z" fill="#cb4b0f"/><path d="M777.5,662.3 L786.2,709.5 L781.5,703.3 L772.8,657.6Z" fill="#c9580e"/><path d="M764.1,664.5 L777.5,662.3 L772.8,657.6 L759.4,656.5Z" fill="#e87210"/><path d="M750.7,662.3 L764.1,664.5 L759.4,656.5 L746.1,652.8Z" fill="#e77210"/><path d="M737.1,671 L750.7,662.3 L746.1,652.8 L732.6,660.7Z" fill="#ed7410"/><path d="M723.4,687.5 L737.1,671 L732.6,660.7 L719,677.5Z" fill="#e76c10"/><path d="M709.7,706.8 L723.4,687.5 L719,677.5 L705.4,697.6Z" fill="#df6010"/><path d="M696.2,714.3 L709.7,706.8 L705.4,697.6 L691.8,705.3Z" fill="#de5910"/><path d="M682.6,718.9 L696.2,714.3 L691.8,705.3 L678.3,710Z" fill="#da5410"/><path d="M669.1,720.4 L682.6,718.9 L678.3,710 L664.8,711.5Z" fill="#d75210"/><path d="M655.5,721.9 L669.1,720.4 L664.8,711.5 L651.3,713.1Z" fill="#d75110"/><path d="M641.9,723.7 L655.5,721.9 L651.3,713.1 L637.8,714.9Z" fill="#d65110"/><path d="M628.3,725.4 L641.9,723.7 L637.8,714.9 L624.2,716.8Z" fill="#d65010"/><path d="M614.6,727.2 L628.3,725.4 L624.2,716.8 L610.6,718.7Z" fill="#d54f10"/><path d="M601,729 L614.6,727.2 L610.6,718.7 L597,720.5Z" fill="#d44f10"/><path d="M587.3,730.8 L601,729 L597,720.5 L583.4,722.4Z" fill="#d34e10"/><path d="M573.6,732.6 L587.3,730.8 L583.4,722.4 L569.7,724.4Z" fill="#d34d10"/><path d="M559.8,734.5 L573.6,732.6 L569.7,724.4 L556,726.4Z" fill="#d24c10"/><path d="M546.1,736.3 L559.8,734.5 L556,726.4 L542.3,728.4Z" fill="#d14b10"/><path d="M532.3,738.1 L546.1,736.3 L542.3,728.4 L528.6,730.2Z" fill="#d04b10"/><path d="M519.3,739.5 L532.3,738.1 L528.6,730.2 L515.6,731.6Z" fill="#cf4a10"/><path d="M506.2,740.6 L519.3,739.5 L515.6,731.6 L502.6,732.7Z" fill="#cf4a10"/><path d="M493.2,741.4 L506.2,740.6 L502.6,732.7 L489.6,733.5Z" fill="#cf4a10"/><path d="M480.1,742.2 L493.2,741.4 L489.6,733.5 L476.6,734.2Z" fill="#cf4a10"/><path d="M467,743.1 L480.1,742.2 L476.6,734.2 L463.6,735Z" fill="#cf4a10"/><path d="M453.9,744 L467,743.1 L463.6,735 L450.5,735.9Z" fill="#cf4a10"/><path d="M440.8,745.1 L453.9,744 L450.5,735.9 L437.4,736.9Z" fill="#d04a10"/><path d="M427.6,739.8 L440.8,745.1 L437.4,736.9 L424.3,731Z" fill="#cb4a0f"/><path d="M414.1,715.3 L427.6,739.8 L424.3,731 L410.9,704.8Z" fill="#c7510e"/><path d="M400.6,688.9 L414.1,715.3 L410.9,704.8 L397.4,677.4Z" fill="#d0610e"/><path d="M387.2,680 L400.6,688.9 L397.4,677.4 L384.1,669.4Z" fill="#e2730f"/><path d="M373.9,683.1 L387.2,680 L384.1,669.4 L370.8,674.2Z" fill="#ee7b10"/><path d="M358.1,672.9 L373.9,683.1 L370.8,674.2 L355.1,664.2Z" fill="#e1760f"/><path d="M342.1,651.4 L358.1,672.9 L355.1,664.2 L339.2,643.3Z" fill="#d97c10"/><path d="M322.8,668.9 L342.1,651.4 L339.2,643.3 L319.9,660.6Z" fill="#ee8a12"/><path d="M303.5,682.9 L322.8,668.9 L319.9,660.6 L300.7,674.9Z" fill="#ef8010"/><path d="M284.1,696.6 L303.5,682.9 L300.7,674.9 L281.4,689.2Z" fill="#ec7810"/><path d="M264.6,704.7 L284.1,696.6 L281.4,689.2 L262,697.6Z" fill="#eb7210"/><path d="M244.6,692 L264.6,704.7 L262,697.6 L242.1,684.4Z" fill="#dd6e0f"/><path d="M224.5,676 L244.6,692 L242.1,684.4 L222,667.8Z" fill="#de750f"/><path d="M899.1,619.9 L913.9,627.7 L908.8,617.3 L894.1,606.4Z" fill="#e58712"/><path d="M885.4,630.8 L899.1,619.9 L894.1,606.4 L880.3,619.4Z" fill="#f08e13"/><path d="M877.9,660.4 L885.4,630.8 L880.3,619.4 L872.9,653.1Z" fill="#e3780f"/><path d="M870.5,692.1 L877.9,660.4 L872.9,653.1 L865.4,685.6Z" fill="#db640f"/><path d="M863,723.7 L870.5,692.1 L865.4,685.6 L858,717.9Z" fill="#cd4f0f"/><path d="M855.6,737.4 L863,723.7 L858,717.9 L850.6,731.7Z" fill="#bf3d0f"/><path d="M843.3,738.3 L855.6,737.4 L850.6,731.7 L838.3,732.5Z" fill="#b6390f"/><path d="M830.2,733.8 L843.3,738.3 L838.3,732.5 L825.3,727.9Z" fill="#b6390f"/><path d="M817.1,728.3 L830.2,733.8 L825.3,727.9 L812.3,722.3Z" fill="#bf3e0f"/><path d="M804.1,721.8 L817.1,728.3 L812.3,722.3 L799.3,715.7Z" fill="#c3440f"/><path d="M790.9,715.8 L804.1,721.8 L799.3,715.7 L786.2,709.5Z" fill="#ca4a0f"/><path d="M782.2,671.8 L790.9,715.8 L786.2,709.5 L777.5,662.3Z" fill="#c8570e"/><path d="M768.7,672.7 L782.2,671.8 L777.5,662.3 L764.1,664.5Z" fill="#ea7110"/><path d="M755.3,671.9 L768.7,672.7 L764.1,664.5 L750.7,662.3Z" fill="#e87110"/><path d="M741.6,681.3 L755.3,671.9 L750.7,662.3 L737.1,671Z" fill="#ec7110"/><path d="M727.9,697.7 L741.6,681.3 L737.1,671 L723.4,687.5Z" fill="#e56810"/><path d="M714.2,716.1 L727.9,697.7 L723.4,687.5 L709.7,706.8Z" fill="#de5c10"/><path d="M700.5,723.3 L714.2,716.1 L709.7,706.8 L696.2,714.3Z" fill="#db5510"/><path d="M686.9,727.8 L700.5,723.3 L696.2,714.3 L682.6,718.9Z" fill="#d75010"/><path d="M673.3,729.3 L686.9,727.8 L682.6,718.9 L669.1,720.4Z" fill="#d44e10"/><path d="M659.7,730.8 L673.3,729.3 L669.1,720.4 L655.5,721.9Z" fill="#d34e10"/><path d="M646.1,732.4 L659.7,730.8 L655.5,721.9 L641.9,723.7Z" fill="#d34d10"/><path d="M632.4,734.1 L646.1,732.4 L641.9,723.7 L628.3,725.4Z" fill="#d24d10"/><path d="M618.7,735.8 L632.4,734.1 L628.3,725.4 L614.6,727.2Z" fill="#d24c10"/><path d="M605,737.5 L618.7,735.8 L614.6,727.2 L601,729Z" fill="#d14b10"/><path d="M591.2,739.2 L605,737.5 L601,729 L587.3,730.8Z" fill="#d04b10"/><path d="M577.5,740.9 L591.2,739.2 L587.3,730.8 L573.6,732.6Z" fill="#d04a10"/><path d="M563.7,742.6 L577.5,740.9 L573.6,732.6 L559.8,734.5Z" fill="#cf4910"/><path d="M549.9,744.4 L563.7,742.6 L559.8,734.5 L546.1,736.3Z" fill="#ce4910"/><path d="M536,746 L549.9,744.4 L546.1,736.3 L532.3,738.1Z" fill="#ce4810"/><path d="M523,747.3 L536,746 L532.3,738.1 L519.3,739.5Z" fill="#cd4710"/><path d="M509.9,748.5 L523,747.3 L519.3,739.5 L506.2,740.6Z" fill="#cd4710"/><path d="M496.8,749.4 L509.9,748.5 L506.2,740.6 L493.2,741.4Z" fill="#cd4710"/><path d="M483.7,750.3 L496.8,749.4 L493.2,741.4 L480.1,742.2Z" fill="#cd4710"/><path d="M470.5,751.3 L483.7,750.3 L480.1,742.2 L467,743.1Z" fill="#cd4710"/><path d="M457.3,752.3 L470.5,751.3 L467,743.1 L453.9,744Z" fill="#cd4710"/><path d="M444.1,753.4 L457.3,752.3 L453.9,744 L440.8,745.1Z" fill="#cd4710"/><path d="M430.9,748.7 L444.1,753.4 L440.8,745.1 L427.6,739.8Z" fill="#c94810"/><path d="M417.4,725.9 L430.9,748.7 L427.6,739.8 L414.1,715.3Z" fill="#c64e0e"/><path d="M403.9,700.6 L417.4,725.9 L414.1,715.3 L400.6,688.9Z" fill="#ce5e0e"/><path d="M390.4,690.7 L403.9,700.6 L400.6,688.9 L387.2,680Z" fill="#df6e0f"/><path d="M377.1,692 L390.4,690.7 L387.2,680 L373.9,683.1Z" fill="#ed7710"/><path d="M361.2,681.6 L377.1,692 L373.9,683.1 L358.1,672.9Z" fill="#e0730f"/><path d="M345.1,659.6 L361.2,681.6 L358.1,672.9 L342.1,651.4Z" fill="#d8790f"/><path d="M325.8,677.2 L345.1,659.6 L342.1,651.4 L322.8,668.9Z" fill="#ee8711"/><path d="M306.3,691 L325.8,677.2 L322.8,668.9 L303.5,682.9Z" fill="#ee7e10"/><path d="M286.8,704 L306.3,691 L303.5,682.9 L284.1,696.6Z" fill="#ec7610"/><path d="M267.2,711.8 L286.8,704 L284.1,696.6 L264.6,704.7Z" fill="#ea7110"/><path d="M247.2,699.7 L267.2,711.8 L264.6,704.7 L244.6,692Z" fill="#dd6c0f"/><path d="M227,684.2 L247.2,699.7 L244.6,692 L224.5,676Z" fill="#de740f"/><path d="M904.4,625.4 L919.1,639.9 L913.9,627.7 L899.1,619.9Z" fill="#e18111"/><path d="M890.6,637.3 L904.4,625.4 L899.1,619.9 L885.4,630.8Z" fill="#ed8812"/><path d="M883.1,667.7 L890.6,637.3 L885.4,630.8 L877.9,660.4Z" fill="#e2750f"/><path d="M875.6,698.6 L883.1,667.7 L877.9,660.4 L870.5,692.1Z" fill="#db630f"/><path d="M868.1,729.5 L875.6,698.6 L870.5,692.1 L863,723.7Z" fill="#cc4d0f"/><path d="M860.9,732.1 L868.1,729.5 L863,723.7 L855.6,737.4Z" fill="#c13e10"/><path d="M848.3,744.1 L860.9,732.1 L855.6,737.4 L843.3,738.3Z" fill="#b6390f"/><path d="M835.2,739.7 L848.3,744.1 L843.3,738.3 L830.2,733.8Z" fill="#b5380f"/><path d="M822.1,734.3 L835.2,739.7 L830.2,733.8 L817.1,728.3Z" fill="#be3d0f"/><path d="M808.9,727.8 L822.1,734.3 L817.1,728.3 L804.1,721.8Z" fill="#c2430f"/><path d="M795.7,722 L808.9,727.8 L804.1,721.8 L790.9,715.8Z" fill="#c9490f"/><path d="M786.9,680.6 L795.7,722 L790.9,715.8 L782.2,671.8Z" fill="#c7550e"/><path d="M773.4,681 L786.9,680.6 L782.2,671.8 L768.7,672.7Z" fill="#e96e10"/><path d="M759.9,681.6 L773.4,681 L768.7,672.7 L755.3,671.9Z" fill="#e86f10"/><path d="M746.2,691.8 L759.9,681.6 L755.3,671.9 L741.6,681.3Z" fill="#ea6d10"/><path d="M732.4,707.9 L746.2,691.8 L741.6,681.3 L727.9,697.7Z" fill="#e36410"/><path d="M718.6,725.5 L732.4,707.9 L727.9,697.7 L714.2,716.1Z" fill="#dc5910"/><path d="M705,732.4 L718.6,725.5 L714.2,716.1 L700.5,723.3Z" fill="#d75110"/><path d="M691.3,736.8 L705,732.4 L700.5,723.3 L686.9,727.8Z" fill="#d34d10"/><path d="M677.7,738.3 L691.3,736.8 L686.9,727.8 L673.3,729.3Z" fill="#d04a10"/><path d="M664,739.7 L677.7,738.3 L673.3,729.3 L659.7,730.8Z" fill="#d04a10"/><path d="M650.3,741.3 L664,739.7 L659.7,730.8 L646.1,732.4Z" fill="#d04a10"/><path d="M636.6,742.9 L650.3,741.3 L646.1,732.4 L632.4,734.1Z" fill="#cf4910"/><path d="M622.8,744.5 L636.6,742.9 L632.4,734.1 L618.7,735.8Z" fill="#cf4910"/><path d="M609,746.1 L622.8,744.5 L618.7,735.8 L605,737.5Z" fill="#ce4810"/><path d="M595.2,747.7 L609,746.1 L605,737.5 L591.2,739.2Z" fill="#cd4710"/><path d="M581.4,749.3 L595.2,747.7 L591.2,739.2 L577.5,740.9Z" fill="#cd4710"/><path d="M567.6,750.9 L581.4,749.3 L577.5,740.9 L563.7,742.6Z" fill="#cc4610"/><path d="M553.7,752.5 L567.6,750.9 L563.7,742.6 L549.9,744.4Z" fill="#cc4610"/><path d="M539.8,754 L553.7,752.5 L549.9,744.4 L536,746Z" fill="#cb4510"/><path d="M526.7,755.3 L539.8,754 L536,746 L523,747.3Z" fill="#cb4510"/><path d="M513.6,756.4 L526.7,755.3 L523,747.3 L509.9,748.5Z" fill="#ca4510"/><path d="M500.4,757.5 L513.6,756.4 L509.9,748.5 L496.8,749.4Z" fill="#ca4410"/><path d="M487.2,758.5 L500.4,757.5 L496.8,749.4 L483.7,750.3Z" fill="#ca4410"/><path d="M474,759.5 L487.2,758.5 L483.7,750.3 L470.5,751.3Z" fill="#ca4510"/><path d="M460.8,760.6 L474,759.5 L470.5,751.3 L457.3,752.3Z" fill="#ca4510"/><path d="M447.6,761.8 L460.8,760.6 L457.3,752.3 L444.1,753.4Z" fill="#ca4410"/><path d="M434.2,757.6 L447.6,761.8 L444.1,753.4 L430.9,748.7Z" fill="#c74510"/><path d="M420.8,736.6 L434.2,757.6 L430.9,748.7 L417.4,725.9Z" fill="#c34b0f"/><path d="M407.2,712.3 L420.8,736.6 L417.4,725.9 L403.9,700.6Z" fill="#cd5a0e"/><path d="M393.7,701.4 L407.2,712.3 L403.9,700.6 L390.4,690.7Z" fill="#dd6a0f"/><path d="M380.2,701.1 L393.7,701.4 L390.4,690.7 L377.1,692Z" fill="#eb7410"/><path d="M364.3,690.3 L380.2,701.1 L377.1,692 L361.2,681.6Z" fill="#df710f"/><path d="M348.2,667.8 L364.3,690.3 L361.2,681.6 L345.1,659.6Z" fill="#d8760f"/><path d="M328.7,685.5 L348.2,667.8 L345.1,659.6 L325.8,677.2Z" fill="#ee8511"/><path d="M309.2,699.1 L328.7,685.5 L325.8,677.2 L306.3,691Z" fill="#ee7c10"/><path d="M289.6,711.4 L309.2,699.1 L306.3,691 L286.8,704Z" fill="#ec7510"/><path d="M269.9,719 L289.6,711.4 L286.8,704 L267.2,711.8Z" fill="#ea6f10"/><path d="M249.8,707.4 L269.9,719 L267.2,711.8 L247.2,699.7Z" fill="#dd6b0f"/><path d="M229.5,692.5 L249.8,707.4 L247.2,699.7 L227,684.2Z" fill="#de720f"/><path d="M909.5,638.7 L924.5,643.5 L919.1,639.9 L904.4,625.4Z" fill="#e27e10"/><path d="M895.6,650.3 L909.5,638.7 L904.4,625.4 L890.6,637.3Z" fill="#f08611"/><path d="M888.2,675.1 L895.6,650.3 L890.6,637.3 L883.1,667.7Z" fill="#e2730f"/><path d="M880.7,705.2 L888.2,675.1 L883.1,667.7 L875.6,698.6Z" fill="#da610f"/><path d="M873.3,735.4 L880.7,705.2 L875.6,698.6 L868.1,729.5Z" fill="#cb4c0f"/><path d="M865.8,748.8 L873.3,735.4 L868.1,729.5 L860.9,732.1Z" fill="#c64010"/><path d="M853.3,750 L865.8,748.8 L860.9,732.1 L848.3,744.1Z" fill="#bc3b0f"/><path d="M840.2,745.6 L853.3,750 L848.3,744.1 L835.2,739.7Z" fill="#b3380e"/><path d="M827,740.3 L840.2,745.6 L835.2,739.7 L822.1,734.3Z" fill="#bc3c0f"/><path d="M813.8,733.9 L827,740.3 L822.1,734.3 L808.9,727.8Z" fill="#c2420f"/><path d="M800.6,728.3 L813.8,733.9 L808.9,727.8 L795.7,722Z" fill="#c8480f"/><path d="M791.8,684.4 L800.6,728.3 L795.7,722 L786.9,680.6Z" fill="#c7540e"/><path d="M778.1,689.3 L791.8,684.4 L786.9,680.6 L773.4,681Z" fill="#e76c10"/><path d="M764.5,690.8 L778.1,689.3 L773.4,681 L759.9,681.6Z" fill="#e86c10"/><path d="M750.8,701.3 L764.5,690.8 L759.9,681.6 L746.2,691.8Z" fill="#e86a10"/><path d="M737,717.1 L750.8,701.3 L746.2,691.8 L732.4,707.9Z" fill="#e16110"/><path d="M723.1,733.8 L737,717.1 L732.4,707.9 L718.6,725.5Z" fill="#da5610"/><path d="M709.4,740.4 L723.1,733.8 L718.6,725.5 L705,732.4Z" fill="#d44d10"/><path d="M695.7,744.7 L709.4,740.4 L705,732.4 L691.3,736.8Z" fill="#d04910"/><path d="M682,746.1 L695.7,744.7 L691.3,736.8 L677.7,738.3Z" fill="#cd4710"/><path d="M668.3,747.6 L682,746.1 L677.7,738.3 L664,739.7Z" fill="#cc4710"/><path d="M654.5,749.1 L668.3,747.6 L664,739.7 L650.3,741.3Z" fill="#cc4610"/><path d="M640.7,750.6 L654.5,749.1 L650.3,741.3 L636.6,742.9Z" fill="#cc4610"/><path d="M626.9,752.2 L640.7,750.6 L636.6,742.9 L622.8,744.5Z" fill="#cb4510"/><path d="M613.1,753.7 L626.9,752.2 L622.8,744.5 L609,746.1Z" fill="#cb4510"/><path d="M599.3,755.2 L613.1,753.7 L609,746.1 L595.2,747.7Z" fill="#ca4410"/><path d="M585.4,756.8 L599.3,755.2 L595.2,747.7 L581.4,749.3Z" fill="#ca4410"/><path d="M571.5,758.2 L585.4,756.8 L581.4,749.3 L567.6,750.9Z" fill="#c94410"/><path d="M557.5,759.7 L571.5,758.2 L567.6,750.9 L553.7,752.5Z" fill="#c94310"/><path d="M543.6,761.2 L557.5,759.7 L553.7,752.5 L539.8,754Z" fill="#c84310"/><path d="M530.4,762.4 L543.6,761.2 L539.8,754 L526.7,755.3Z" fill="#c84210"/><path d="M517.2,763.6 L530.4,762.4 L526.7,755.3 L513.6,756.4Z" fill="#c84210"/><path d="M504,764.7 L517.2,763.6 L513.6,756.4 L500.4,757.5Z" fill="#c84210"/><path d="M490.8,765.8 L504,764.7 L500.4,757.5 L487.2,758.5Z" fill="#c84210"/><path d="M477.6,766.9 L490.8,765.8 L487.2,758.5 L474,759.5Z" fill="#c84210"/><path d="M464.3,768.1 L477.6,766.9 L474,759.5 L460.8,760.6Z" fill="#c84210"/><path d="M451,769.3 L464.3,768.1 L460.8,760.6 L447.6,761.8Z" fill="#c84210"/><path d="M437.6,765.5 L451,769.3 L447.6,761.8 L434.2,757.6Z" fill="#c44210"/><path d="M424.1,746 L437.6,765.5 L434.2,757.6 L420.8,736.6Z" fill="#c0480f"/><path d="M410.5,722.8 L424.1,746 L420.8,736.6 L407.2,712.3Z" fill="#cb570e"/><path d="M396.9,711.5 L410.5,722.8 L407.2,712.3 L393.7,701.4Z" fill="#da660f"/><path d="M383.4,710 L396.9,711.5 L393.7,701.4 L380.2,701.1Z" fill="#e87010"/><path d="M367.4,699.1 L383.4,710 L380.2,701.1 L364.3,690.3Z" fill="#de6e0f"/><path d="M351.2,676 L367.4,699.1 L364.3,690.3 L348.2,667.8Z" fill="#d8740f"/><path d="M331.7,693.9 L351.2,676 L348.2,667.8 L328.7,685.5Z" fill="#ee8211"/><path d="M312,707.2 L331.7,693.9 L328.7,685.5 L309.2,699.1Z" fill="#ed7a10"/><path d="M292.4,718.9 L312,707.2 L309.2,699.1 L289.6,711.4Z" fill="#eb7310"/><path d="M272.6,726.2 L292.4,718.9 L289.6,711.4 L269.9,719Z" fill="#e96e10"/><path d="M252.4,715.1 L272.6,726.2 L269.9,719 L249.8,707.4Z" fill="#dd6a0f"/><path d="M232.1,700.8 L252.4,715.1 L249.8,707.4 L229.5,692.5Z" fill="#de710f"/><path d="M914.9,642.5 L929.7,655.6 L924.5,643.5 L909.5,638.7Z" fill="#e37c10"/><path d="M900.9,655.6 L914.9,642.5 L909.5,638.7 L895.6,650.3Z" fill="#ec8010"/><path d="M893.5,682.5 L900.9,655.6 L895.6,650.3 L888.2,675.1Z" fill="#e1710f"/><path d="M885.9,711.8 L893.5,682.5 L888.2,675.1 L880.7,705.2Z" fill="#d9600f"/><path d="M878.4,741.3 L885.9,711.8 L880.7,705.2 L873.3,735.4Z" fill="#ca4b0f"/><path d="M870.9,754.6 L878.4,741.3 L873.3,735.4 L865.8,748.8Z" fill="#ba3b0f"/><path d="M858.4,755.9 L870.9,754.6 L865.8,748.8 L853.3,750Z" fill="#b2360e"/><path d="M845.2,751.6 L858.4,755.9 L853.3,750 L840.2,745.6Z" fill="#b1370e"/><path d="M832,746.3 L845.2,751.6 L840.2,745.6 L827,740.3Z" fill="#ba3b0f"/><path d="M818.8,740.1 L832,746.3 L827,740.3 L813.8,733.9Z" fill="#c1410f"/><path d="M805.5,734.5 L818.8,740.1 L813.8,733.9 L800.6,728.3Z" fill="#c7470f"/><path d="M796.6,693.3 L805.5,734.5 L800.6,728.3 L791.8,684.4Z" fill="#c6530e"/><path d="M782.9,699.3 L796.6,693.3 L791.8,684.4 L778.1,689.3Z" fill="#e96c10"/><path d="M769.2,700.9 L782.9,699.3 L778.1,689.3 L764.5,690.8Z" fill="#e76910"/><path d="M755.4,711.1 L769.2,700.9 L764.5,690.8 L750.8,701.3Z" fill="#e66710"/><path d="M741.6,726.2 L755.4,711.1 L750.8,701.3 L737,717.1Z" fill="#e05e10"/><path d="M727.7,742 L741.6,726.2 L737,717.1 L723.1,733.8Z" fill="#d75210"/><path d="M713.9,748.3 L727.7,742 L723.1,733.8 L709.4,740.4Z" fill="#d14a10"/><path d="M700.2,752.4 L713.9,748.3 L709.4,740.4 L695.7,744.7Z" fill="#cd4710"/><path d="M686.4,753.9 L700.2,752.4 L695.7,744.7 L682,746.1Z" fill="#ca4510"/><path d="M672.6,755.3 L686.4,753.9 L682,746.1 L668.3,747.6Z" fill="#ca4410"/><path d="M658.8,756.8 L672.6,755.3 L668.3,747.6 L654.5,749.1Z" fill="#ca4410"/><path d="M645,758.2 L658.8,756.8 L654.5,749.1 L640.7,750.6Z" fill="#c94310"/><path d="M631.1,759.7 L645,758.2 L640.7,750.6 L626.9,752.2Z" fill="#c94310"/><path d="M617.2,761.2 L631.1,759.7 L626.9,752.2 L613.1,753.7Z" fill="#c84310"/><path d="M603.3,762.7 L617.2,761.2 L613.1,753.7 L599.3,755.2Z" fill="#c84210"/><path d="M589.4,764.1 L603.3,762.7 L599.3,755.2 L585.4,756.8Z" fill="#c84210"/><path d="M575.4,765.5 L589.4,764.1 L585.4,756.8 L571.5,758.2Z" fill="#c74110"/><path d="M561.4,766.9 L575.4,765.5 L571.5,758.2 L557.5,759.7Z" fill="#c74110"/><path d="M547.4,768.3 L561.4,766.9 L557.5,759.7 L543.6,761.2Z" fill="#c74110"/><path d="M534.2,769.5 L547.4,768.3 L543.6,761.2 L530.4,762.4Z" fill="#c64110"/><path d="M521,770.7 L534.2,769.5 L530.4,762.4 L517.2,763.6Z" fill="#c64010"/><path d="M507.7,771.9 L521,770.7 L517.2,763.6 L504,764.7Z" fill="#c64010"/><path d="M494.4,773.1 L507.7,771.9 L504,764.7 L490.8,765.8Z" fill="#c64010"/><path d="M481.1,774.3 L494.4,773.1 L490.8,765.8 L477.6,766.9Z" fill="#c64010"/><path d="M467.8,775.5 L481.1,774.3 L477.6,766.9 L464.3,768.1Z" fill="#c64010"/><path d="M454.4,776.7 L467.8,775.5 L464.3,768.1 L451,769.3Z" fill="#c54010"/><path d="M441,773.3 L454.4,776.7 L451,769.3 L437.6,765.5Z" fill="#c34010"/><path d="M427.5,755.3 L441,773.3 L437.6,765.5 L424.1,746Z" fill="#bf450f"/><path d="M413.8,733.2 L427.5,755.3 L424.1,746 L410.5,722.8Z" fill="#ca540e"/><path d="M400.2,721.6 L413.8,733.2 L410.5,722.8 L396.9,711.5Z" fill="#d8620f"/><path d="M386.6,718.9 L400.2,721.6 L396.9,711.5 L383.4,710Z" fill="#e66c10"/><path d="M370.6,707.8 L386.6,718.9 L383.4,710 L367.4,699.1Z" fill="#dd6c0f"/><path d="M354.3,684.2 L370.6,707.8 L367.4,699.1 L351.2,676Z" fill="#d7710f"/><path d="M334.7,702.3 L354.3,684.2 L351.2,676 L331.7,693.9Z" fill="#ee8010"/><path d="M314.9,715.4 L334.7,702.3 L331.7,693.9 L312,707.2Z" fill="#ed7810"/><path d="M295.2,726.4 L314.9,715.4 L312,707.2 L292.4,718.9Z" fill="#eb7110"/><path d="M275.3,733.5 L295.2,726.4 L292.4,718.9 L272.6,726.2Z" fill="#e86c10"/><path d="M255.1,723 L275.3,733.5 L272.6,726.2 L252.4,715.1Z" fill="#dd690f"/><path d="M234.7,709.2 L255.1,723 L252.4,715.1 L232.1,700.8Z" fill="#de6f0f"/><path d="M920.2,651.1 L935.2,660.8 L929.7,655.6 L914.9,642.5Z" fill="#e0780f"/><path d="M906.2,663.4 L920.2,651.1 L914.9,642.5 L900.9,655.6Z" fill="#ee8010"/><path d="M898.7,689.9 L906.2,663.4 L900.9,655.6 L893.5,682.5Z" fill="#e1700f"/><path d="M891.2,718.4 L898.7,689.9 L893.5,682.5 L885.9,711.8Z" fill="#d95e0f"/><path d="M883.7,747.2 L891.2,718.4 L885.9,711.8 L878.4,741.3Z" fill="#c94a0f"/><path d="M876.1,760.4 L883.7,747.2 L878.4,741.3 L870.9,754.6Z" fill="#b93a0f"/><path d="M863.5,761.8 L876.1,760.4 L870.9,754.6 L858.4,755.9Z" fill="#b0350e"/><path d="M850.3,757.5 L863.5,761.8 L858.4,755.9 L845.2,751.6Z" fill="#b0360e"/><path d="M837,752.3 L850.3,757.5 L845.2,751.6 L832,746.3Z" fill="#b83a0f"/><path d="M823.7,746.2 L837,752.3 L832,746.3 L818.8,740.1Z" fill="#c0400f"/><path d="M810.4,740.8 L823.7,746.2 L818.8,740.1 L805.5,734.5Z" fill="#c6460f"/><path d="M801.2,713.1 L810.4,740.8 L805.5,734.5 L796.6,693.3Z" fill="#c5500e"/><path d="M787.7,709.5 L801.2,713.1 L796.6,693.3 L782.9,699.3Z" fill="#e66710"/><path d="M774,711.1 L787.7,709.5 L782.9,699.3 L769.2,700.9Z" fill="#e56610"/><path d="M760.1,721.1 L774,711.1 L769.2,700.9 L755.4,711.1Z" fill="#e46310"/><path d="M746.2,735.4 L760.1,721.1 L755.4,711.1 L741.6,726.2Z" fill="#de5b10"/><path d="M732.3,750.3 L746.2,735.4 L741.6,726.2 L727.7,742Z" fill="#d44f10"/><path d="M718.4,756.3 L732.3,750.3 L727.7,742 L713.9,748.3Z" fill="#ce4810"/><path d="M704.6,760.2 L718.4,756.3 L713.9,748.3 L700.2,752.4Z" fill="#cb4410"/><path d="M690.8,761.6 L704.6,760.2 L700.2,752.4 L686.4,753.9Z" fill="#c84210"/><path d="M677,763.1 L690.8,761.6 L686.4,753.9 L672.6,755.3Z" fill="#c84210"/><path d="M663.1,764.5 L677,763.1 L672.6,755.3 L658.8,756.8Z" fill="#c74110"/><path d="M649.2,765.9 L663.1,764.5 L658.8,756.8 L645,758.2Z" fill="#c74110"/><path d="M635.3,767.3 L649.2,765.9 L645,758.2 L631.1,759.7Z" fill="#c74110"/><path d="M621.4,768.7 L635.3,767.3 L631.1,759.7 L617.2,761.2Z" fill="#c64010"/><path d="M607.4,770.2 L621.4,768.7 L617.2,761.2 L603.3,762.7Z" fill="#c64010"/><path d="M593.4,771.5 L607.4,770.2 L603.3,762.7 L589.4,764.1Z" fill="#c64010"/><path d="M579.4,772.8 L593.4,771.5 L589.4,764.1 L575.4,765.5Z" fill="#c54010"/><path d="M565.4,774.1 L579.4,772.8 L575.4,765.5 L561.4,766.9Z" fill="#c43f10"/><path d="M551.3,775.5 L565.4,774.1 L561.4,766.9 L547.4,768.3Z" fill="#c43f10"/><path d="M538,776.7 L551.3,775.5 L547.4,768.3 L534.2,769.5Z" fill="#c33f10"/><path d="M524.7,777.9 L538,776.7 L534.2,769.5 L521,770.7Z" fill="#c33f10"/><path d="M511.4,779.2 L524.7,777.9 L521,770.7 L507.7,771.9Z" fill="#c33e10"/><path d="M498.1,780.4 L511.4,779.2 L507.7,771.9 L494.4,773.1Z" fill="#c33e10"/><path d="M484.7,781.6 L498.1,780.4 L494.4,773.1 L481.1,774.3Z" fill="#c23e10"/><path d="M471.3,782.9 L484.7,781.6 L481.1,774.3 L467.8,775.5Z" fill="#c23e10"/><path d="M457.9,784.1 L471.3,782.9 L467.8,775.5 L454.4,776.7Z" fill="#c23e10"/><path d="M444.5,781.1 L457.9,784.1 L454.4,776.7 L441,773.3Z" fill="#c13e10"/><path d="M430.9,764.6 L444.5,781.1 L441,773.3 L427.5,755.3Z" fill="#bd430f"/><path d="M417.2,743.6 L430.9,764.6 L427.5,755.3 L413.8,733.2Z" fill="#c9520f"/><path d="M403.5,731.7 L417.2,743.6 L413.8,733.2 L400.2,721.6Z" fill="#d65f0f"/><path d="M389.8,727.8 L403.5,731.7 L400.2,721.6 L386.6,718.9Z" fill="#e36910"/><path d="M373.7,716.6 L389.8,727.8 L386.6,718.9 L370.6,707.8Z" fill="#dd6a0f"/><path d="M357.4,692.5 L373.7,716.6 L370.6,707.8 L354.3,684.2Z" fill="#d66f0f"/><path d="M337.7,710.7 L357.4,692.5 L354.3,684.2 L334.7,702.3Z" fill="#ed7d10"/><path d="M317.9,723.5 L337.7,710.7 L334.7,702.3 L314.9,715.4Z" fill="#ec7610"/><path d="M298,734 L317.9,723.5 L314.9,715.4 L295.2,726.4Z" fill="#ea7010"/><path d="M278,740.8 L298,734 L295.2,726.4 L275.3,733.5Z" fill="#e76b10"/><path d="M257.7,730.8 L278,740.8 L275.3,733.5 L255.1,723Z" fill="#dd670f"/><path d="M237.2,717.7 L257.7,730.8 L255.1,723 L234.7,709.2Z" fill="#de6e0f"/><path d="M925.5,662.7 L940.6,670.6 L935.2,660.8 L920.2,651.1Z" fill="#e4780f"/><path d="M911.6,670.8 L925.5,662.7 L920.2,651.1 L906.2,663.4Z" fill="#ef7e10"/><path d="M904,697.4 L911.6,670.8 L906.2,663.4 L898.7,689.9Z" fill="#e06e0f"/><path d="M896.5,725.1 L904,697.4 L898.7,689.9 L891.2,718.4Z" fill="#d85d0f"/><path d="M888.9,753.1 L896.5,725.1 L891.2,718.4 L883.7,747.2Z" fill="#c8490f"/><path d="M881.6,755 L888.9,753.1 L883.7,747.2 L876.1,760.4Z" fill="#bb3b0f"/><path d="M868.7,767.7 L881.6,755 L876.1,760.4 L863.5,761.8Z" fill="#b0360e"/><path d="M855.4,763.5 L868.7,767.7 L863.5,761.8 L850.3,757.5Z" fill="#ae350e"/><path d="M842.1,758.4 L855.4,763.5 L850.3,757.5 L837,752.3Z" fill="#b73a0f"/><path d="M828.8,752.3 L842.1,758.4 L837,752.3 L823.7,746.2Z" fill="#bf3f0f"/><path d="M815.4,747.1 L828.8,752.3 L823.7,746.2 L810.4,740.8Z" fill="#c5450f"/><path d="M806.2,717.6 L815.4,747.1 L810.4,740.8 L801.2,713.1Z" fill="#c34d0e"/><path d="M792.5,719.4 L806.2,717.6 L801.2,713.1 L787.7,709.5Z" fill="#df6010"/><path d="M778.7,720.7 L792.5,719.4 L787.7,709.5 L774,711.1Z" fill="#e36210"/><path d="M764.9,730.1 L778.7,720.7 L774,711.1 L760.1,721.1Z" fill="#e26010"/><path d="M750.9,743.6 L764.9,730.1 L760.1,721.1 L746.2,735.4Z" fill="#dc5810"/><path d="M736.9,757.7 L750.9,743.6 L746.2,735.4 L732.3,750.3Z" fill="#d14c10"/><path d="M723,763.3 L736.9,757.7 L732.3,750.3 L718.4,756.3Z" fill="#cc4510"/><path d="M709.2,766.9 L723,763.3 L718.4,756.3 L704.6,760.2Z" fill="#c84210"/><path d="M695.3,768.4 L709.2,766.9 L704.6,760.2 L690.8,761.6Z" fill="#c64010"/><path d="M681.4,769.8 L695.3,768.4 L690.8,761.6 L677,763.1Z" fill="#c54010"/><path d="M667.5,771.2 L681.4,769.8 L677,763.1 L663.1,764.5Z" fill="#c43f10"/><path d="M653.6,772.6 L667.5,771.2 L663.1,764.5 L649.2,765.9Z" fill="#c43f10"/><path d="M639.6,774 L653.6,772.6 L649.2,765.9 L635.3,767.3Z" fill="#c33f10"/><path d="M625.6,775.4 L639.6,774 L635.3,767.3 L621.4,768.7Z" fill="#c33e10"/><path d="M611.6,776.8 L625.6,775.4 L621.4,768.7 L607.4,770.2Z" fill="#c23e10"/><path d="M597.5,778.2 L611.6,776.8 L607.4,770.2 L593.4,771.5Z" fill="#c23e10"/><path d="M583.4,779.5 L597.5,778.2 L593.4,771.5 L579.4,772.8Z" fill="#c13e10"/><path d="M569.3,780.8 L583.4,779.5 L579.4,772.8 L565.4,774.1Z" fill="#c13e10"/><path d="M555.2,782.1 L569.3,780.8 L565.4,774.1 L551.3,775.5Z" fill="#c03d10"/><path d="M541.9,783.4 L555.2,782.1 L551.3,775.5 L538,776.7Z" fill="#c03d10"/><path d="M528.5,784.6 L541.9,783.4 L538,776.7 L524.7,777.9Z" fill="#c03d0f"/><path d="M515.2,785.8 L528.5,784.6 L524.7,777.9 L511.4,779.2Z" fill="#bf3d0f"/><path d="M501.8,787.1 L515.2,785.8 L511.4,779.2 L498.1,780.4Z" fill="#bf3d0f"/><path d="M488.3,788.3 L501.8,787.1 L498.1,780.4 L484.7,781.6Z" fill="#bf3c0f"/><path d="M474.9,789.5 L488.3,788.3 L484.7,781.6 L471.3,782.9Z" fill="#be3c0f"/><path d="M461.4,790.8 L474.9,789.5 L471.3,782.9 L457.9,784.1Z" fill="#be3c0f"/><path d="M447.9,788 L461.4,790.8 L457.9,784.1 L444.5,781.1Z" fill="#bd3d0f"/><path d="M434.3,772.7 L447.9,788 L444.5,781.1 L430.9,764.6Z" fill="#bb410f"/><path d="M420.5,753 L434.3,772.7 L430.9,764.6 L417.2,743.6Z" fill="#c74f0f"/><path d="M406.8,741.3 L420.5,753 L417.2,743.6 L403.5,731.7Z" fill="#d45c0f"/><path d="M393.1,736.7 L406.8,741.3 L403.5,731.7 L389.8,727.8Z" fill="#e06510"/><path d="M376.9,725.3 L393.1,736.7 L389.8,727.8 L373.7,716.6Z" fill="#dc680f"/><path d="M360.5,700.8 L376.9,725.3 L373.7,716.6 L357.4,692.5Z" fill="#d56d0f"/><path d="M340.7,719.2 L360.5,700.8 L357.4,692.5 L337.7,710.7Z" fill="#ed7b10"/><path d="M320.8,731.8 L340.7,719.2 L337.7,710.7 L317.9,723.5Z" fill="#eb7410"/><path d="M300.9,741.6 L320.8,731.8 L317.9,723.5 L298,734Z" fill="#e96e10"/><path d="M280.8,748.2 L300.9,741.6 L298,734 L278,740.8Z" fill="#e66910"/><path d="M260.4,738.7 L280.8,748.2 L278,740.8 L257.7,730.8Z" fill="#dd660f"/><path d="M239.9,726.2 L260.4,738.7 L257.7,730.8 L237.2,717.7Z" fill="#de6c0f"/><path d="M931,670.4 L946.1,677.7 L940.6,670.6 L925.5,662.7Z" fill="#e3750f"/><path d="M916.9,679.5 L931,670.4 L925.5,662.7 L911.6,670.8Z" fill="#ee7c10"/><path d="M909.4,705 L916.9,679.5 L911.6,670.8 L904,697.4Z" fill="#e06c0f"/><path d="M901.8,731.8 L909.4,705 L904,697.4 L896.5,725.1Z" fill="#d75c0f"/><path d="M894.2,759.1 L901.8,731.8 L896.5,725.1 L888.9,753.1Z" fill="#c7480f"/><path d="M886.7,771.9 L894.2,759.1 L888.9,753.1 L881.6,755Z" fill="#c03d0f"/><path d="M874,773.6 L886.7,771.9 L881.6,755 L868.7,767.7Z" fill="#b6370f"/><path d="M860.6,769.5 L874,773.6 L868.7,767.7 L855.4,763.5Z" fill="#ac340e"/><path d="M847.2,764.4 L860.6,769.5 L855.4,763.5 L842.1,758.4Z" fill="#b5390f"/><path d="M833.8,758.5 L847.2,764.4 L842.1,758.4 L828.8,752.3Z" fill="#be3e0f"/><path d="M820.4,753.4 L833.8,758.5 L828.8,752.3 L815.4,747.1Z" fill="#c4440f"/><path d="M811.1,728.1 L820.4,753.4 L815.4,747.1 L806.2,717.6Z" fill="#c14c0e"/><path d="M797.4,729.2 L811.1,728.1 L806.2,717.6 L792.5,719.4Z" fill="#e15f10"/><path d="M783.6,729.9 L797.4,729.2 L792.5,719.4 L778.7,720.7Z" fill="#e15f10"/><path d="M769.6,738.5 L783.6,729.9 L778.7,720.7 L764.9,730.1Z" fill="#e15d10"/><path d="M755.6,751.2 L769.6,738.5 L764.9,730.1 L750.9,743.6Z" fill="#da5510"/><path d="M741.6,764.3 L755.6,751.2 L750.9,743.6 L736.9,757.7Z" fill="#cf4a10"/><path d="M727.7,769.6 L741.6,764.3 L736.9,757.7 L723,763.3Z" fill="#ca4310"/><path d="M713.8,772.9 L727.7,769.6 L723,763.3 L709.2,766.9Z" fill="#c64010"/><path d="M699.8,774.4 L713.8,772.9 L709.2,766.9 L695.3,768.4Z" fill="#c33f10"/><path d="M685.9,775.8 L699.8,774.4 L695.3,768.4 L681.4,769.8Z" fill="#c23e10"/><path d="M671.9,777.2 L685.9,775.8 L681.4,769.8 L667.5,771.2Z" fill="#c23e10"/><path d="M657.9,778.6 L671.9,777.2 L667.5,771.2 L653.6,772.6Z" fill="#c13e10"/><path d="M643.9,780 L657.9,778.6 L653.6,772.6 L639.6,774Z" fill="#c13e10"/><path d="M629.8,781.4 L643.9,780 L639.6,774 L625.6,775.4Z" fill="#c03d10"/><path d="M615.7,782.8 L629.8,781.4 L625.6,775.4 L611.6,776.8Z" fill="#c03d0f"/><path d="M601.6,784.2 L615.7,782.8 L611.6,776.8 L597.5,778.2Z" fill="#bf3d0f"/><path d="M587.5,785.5 L601.6,784.2 L597.5,778.2 L583.4,779.5Z" fill="#bf3d0f"/><path d="M573.3,786.8 L587.5,785.5 L583.4,779.5 L569.3,780.8Z" fill="#be3c0f"/><path d="M559.1,788.2 L573.3,786.8 L569.3,780.8 L555.2,782.1Z" fill="#be3c0f"/><path d="M545.8,789.4 L559.1,788.2 L555.2,782.1 L541.9,783.4Z" fill="#be3c0f"/><path d="M532.4,790.6 L545.8,789.4 L541.9,783.4 L528.5,784.6Z" fill="#bd3c0f"/><path d="M518.9,791.9 L532.4,790.6 L528.5,784.6 L515.2,785.8Z" fill="#bd3c0f"/><path d="M505.5,793.1 L518.9,791.9 L515.2,785.8 L501.8,787.1Z" fill="#bd3c0f"/><path d="M492,794.4 L505.5,793.1 L501.8,787.1 L488.3,788.3Z" fill="#bc3b0f"/><path d="M478.5,795.6 L492,794.4 L488.3,788.3 L474.9,789.5Z" fill="#bc3b0f"/><path d="M465,796.9 L478.5,795.6 L474.9,789.5 L461.4,790.8Z" fill="#bc3b0f"/><path d="M451.4,794.2 L465,796.9 L461.4,790.8 L447.9,788Z" fill="#bb3b0f"/><path d="M437.7,780 L451.4,794.2 L447.9,788 L434.3,772.7Z" fill="#ba400f"/><path d="M423.9,761.6 L437.7,780 L434.3,772.7 L420.5,753Z" fill="#c54d0f"/><path d="M410.1,750.5 L423.9,761.6 L420.5,753 L406.8,741.3Z" fill="#d25a0f"/><path d="M396.4,745.4 L410.1,750.5 L406.8,741.3 L393.1,736.7Z" fill="#dd6210"/><path d="M380.1,734.1 L396.4,745.4 L393.1,736.7 L376.9,725.3Z" fill="#da650f"/><path d="M363.7,709.1 L380.1,734.1 L376.9,725.3 L360.5,700.8Z" fill="#d56b0f"/><path d="M343.8,727.7 L363.7,709.1 L360.5,700.8 L340.7,719.2Z" fill="#ec7910"/><path d="M323.8,740 L343.8,727.7 L340.7,719.2 L320.8,731.8Z" fill="#eb7210"/><path d="M303.7,749.2 L323.8,740 L320.8,731.8 L300.9,741.6Z" fill="#e86c10"/><path d="M283.6,755.6 L303.7,749.2 L300.9,741.6 L280.8,748.2Z" fill="#e66810"/><path d="M263.1,746.7 L283.6,755.6 L280.8,748.2 L260.4,738.7Z" fill="#dc650f"/><path d="M242.5,734.8 L263.1,746.7 L260.4,738.7 L239.9,726.2Z" fill="#de6b0f"/><path d="M936.4,678.8 L951.6,686.8 L946.1,677.7 L931,670.4Z" fill="#e3740f"/><path d="M922.3,687.7 L936.4,678.8 L931,670.4 L916.9,679.5Z" fill="#ed7910"/><path d="M914.8,712.5 L922.3,687.7 L916.9,679.5 L909.4,705Z" fill="#e06a0f"/><path d="M907.2,738.5 L914.8,712.5 L909.4,705 L901.8,731.8Z" fill="#d75a0f"/><path d="M899.6,765 L907.2,738.5 L901.8,731.8 L894.2,759.1Z" fill="#c6470f"/><path d="M892,777.7 L899.6,765 L894.2,759.1 L886.7,771.9Z" fill="#b4380f"/><path d="M879.2,779.5 L892,777.7 L886.7,771.9 L874,773.6Z" fill="#ac330e"/><path d="M865.8,775.5 L879.2,779.5 L874,773.6 L860.6,769.5Z" fill="#ab340e"/><path d="M852.4,770.5 L865.8,775.5 L860.6,769.5 L847.2,764.4Z" fill="#b3380e"/><path d="M839,764.6 L852.4,770.5 L847.2,764.4 L833.8,758.5Z" fill="#bd3d0f"/><path d="M825.5,759.6 L839,764.6 L833.8,758.5 L820.4,753.4Z" fill="#c4430f"/><path d="M816,741.4 L825.5,759.6 L820.4,753.4 L811.1,728.1Z" fill="#bf490e"/><path d="M802.3,739.2 L816,741.4 L811.1,728.1 L797.4,729.2Z" fill="#de5b10"/><path d="M788.4,739.3 L802.3,739.2 L797.4,729.2 L783.6,729.9Z" fill="#df5c10"/><path d="M774.5,747.1 L788.4,739.3 L783.6,729.9 L769.6,738.5Z" fill="#df5a10"/><path d="M760.4,758.9 L774.5,747.1 L769.6,738.5 L755.6,751.2Z" fill="#d85210"/><path d="M746.3,771.1 L760.4,758.9 L755.6,751.2 L741.6,764.3Z" fill="#ce4910"/><path d="M732.4,775.9 L746.3,771.1 L741.6,764.3 L727.7,769.6Z" fill="#c84210"/><path d="M718.4,779 L732.4,775.9 L727.7,769.6 L713.8,772.9Z" fill="#c53f10"/><path d="M704.4,780.4 L718.4,779 L713.8,772.9 L699.8,774.4Z" fill="#c13e10"/><path d="M690.4,781.8 L704.4,780.4 L699.8,774.4 L685.9,775.8Z" fill="#c13e10"/><path d="M676.4,783.2 L690.4,781.8 L685.9,775.8 L671.9,777.2Z" fill="#c03d10"/><path d="M662.3,784.7 L676.4,783.2 L671.9,777.2 L657.9,778.6Z" fill="#c03d0f"/><path d="M648.2,786.1 L662.3,784.7 L657.9,778.6 L643.9,780Z" fill="#bf3d0f"/><path d="M634.1,787.5 L648.2,786.1 L643.9,780 L629.8,781.4Z" fill="#bf3d0f"/><path d="M620,788.9 L634.1,787.5 L629.8,781.4 L615.7,782.8Z" fill="#be3c0f"/><path d="M605.8,790.3 L620,788.9 L615.7,782.8 L601.6,784.2Z" fill="#be3c0f"/><path d="M591.6,791.6 L605.8,790.3 L601.6,784.2 L587.5,785.5Z" fill="#bd3c0f"/><path d="M577.4,792.9 L591.6,791.6 L587.5,785.5 L573.3,786.8Z" fill="#bd3c0f"/><path d="M563.1,794.2 L577.4,792.9 L573.3,786.8 L559.1,788.2Z" fill="#bc3c0f"/><path d="M549.7,795.5 L563.1,794.2 L559.1,788.2 L545.8,789.4Z" fill="#bc3b0f"/><path d="M536.2,796.7 L549.7,795.5 L545.8,789.4 L532.4,790.6Z" fill="#bc3b0f"/><path d="M522.7,798 L536.2,796.7 L532.4,790.6 L518.9,791.9Z" fill="#bc3b0f"/><path d="M509.2,799.2 L522.7,798 L518.9,791.9 L505.5,793.1Z" fill="#bb3b0f"/><path d="M495.7,800.5 L509.2,799.2 L505.5,793.1 L492,794.4Z" fill="#bb3b0f"/><path d="M482.1,801.7 L495.7,800.5 L492,794.4 L478.5,795.6Z" fill="#bb3b0f"/><path d="M468.5,803 L482.1,801.7 L478.5,795.6 L465,796.9Z" fill="#ba3a0f"/><path d="M454.9,800.4 L468.5,803 L465,796.9 L451.4,794.2Z" fill="#ba3b0f"/><path d="M441.2,787.3 L454.9,800.4 L451.4,794.2 L437.7,780Z" fill="#ba3f0f"/><path d="M427.3,770.3 L441.2,787.3 L437.7,780 L423.9,761.6Z" fill="#c44b0f"/><path d="M413.5,759.7 L427.3,770.3 L423.9,761.6 L410.1,750.5Z" fill="#d2580f"/><path d="M399.7,754.2 L413.5,759.7 L410.1,750.5 L396.4,745.4Z" fill="#db6010"/><path d="M383.4,742.8 L399.7,754.2 L396.4,745.4 L380.1,734.1Z" fill="#d9630f"/><path d="M366.8,717.4 L383.4,742.8 L380.1,734.1 L363.7,709.1Z" fill="#d4690f"/><path d="M346.9,736.2 L366.8,717.4 L363.7,709.1 L343.8,727.7Z" fill="#eb7710"/><path d="M326.8,748.3 L346.9,736.2 L343.8,727.7 L323.8,740Z" fill="#ea7010"/><path d="M306.6,756.8 L326.8,748.3 L323.8,740 L303.7,749.2Z" fill="#e76a10"/><path d="M286.4,763 L306.6,756.8 L303.7,749.2 L283.6,755.6Z" fill="#e56610"/><path d="M265.9,754.7 L286.4,763 L283.6,755.6 L263.1,746.7Z" fill="#dc630f"/><path d="M245.2,743.4 L265.9,754.7 L263.1,746.7 L242.5,734.8Z" fill="#de690f"/><path d="M942,684.8 L957.1,697.1 L951.6,686.8 L936.4,678.8Z" fill="#df700f"/><path d="M927.9,692.4 L942,684.8 L936.4,678.8 L922.3,687.7Z" fill="#eb7710"/><path d="M920.2,720.1 L927.9,692.4 L922.3,687.7 L914.8,712.5Z" fill="#de690f"/><path d="M912.6,745.2 L920.2,720.1 L914.8,712.5 L907.2,738.5Z" fill="#d6590f"/><path d="M905,771 L912.6,745.2 L907.2,738.5 L899.6,765Z" fill="#c6450f"/><path d="M897.4,783.5 L905,771 L899.6,765 L892,777.7Z" fill="#b3370e"/><path d="M884.6,785.5 L897.4,783.5 L892,777.7 L879.2,779.5Z" fill="#ab330e"/><path d="M871.1,781.4 L884.6,785.5 L879.2,779.5 L865.8,775.5Z" fill="#aa330e"/><path d="M857.6,776.5 L871.1,781.4 L865.8,775.5 L852.4,770.5Z" fill="#b2370e"/><path d="M844.1,770.7 L857.6,776.5 L852.4,770.5 L839,764.6Z" fill="#bc3c0f"/><path d="M830.6,765.9 L844.1,770.7 L839,764.6 L825.5,759.6Z" fill="#c3420f"/><path d="M821.1,748 L830.6,765.9 L825.5,759.6 L816,741.4Z" fill="#bd470e"/><path d="M807.2,749.2 L821.1,748 L816,741.4 L802.3,739.2Z" fill="#da5710"/><path d="M793.4,748.4 L807.2,749.2 L802.3,739.2 L788.4,739.3Z" fill="#dc5810"/><path d="M779.3,755.2 L793.4,748.4 L788.4,739.3 L774.5,747.1Z" fill="#dd5810"/><path d="M765.2,766 L779.3,755.2 L774.5,747.1 L760.4,758.9Z" fill="#d55010"/><path d="M751.1,777.3 L765.2,766 L760.4,758.9 L746.3,771.1Z" fill="#cc4710"/><path d="M737.1,781.7 L751.1,777.3 L746.3,771.1 L732.4,775.9Z" fill="#c74110"/><path d="M723.1,784.4 L737.1,781.7 L732.4,775.9 L718.4,779Z" fill="#c33e10"/><path d="M709,785.9 L723.1,784.4 L718.4,779 L704.4,780.4Z" fill="#c03d0f"/><path d="M695,787.3 L709,785.9 L704.4,780.4 L690.4,781.8Z" fill="#bf3d0f"/><path d="M680.9,788.7 L695,787.3 L690.4,781.8 L676.4,783.2Z" fill="#bf3d0f"/><path d="M666.7,790.2 L680.9,788.7 L676.4,783.2 L662.3,784.7Z" fill="#be3c0f"/><path d="M652.6,791.6 L666.7,790.2 L662.3,784.7 L648.2,786.1Z" fill="#be3c0f"/><path d="M638.4,793 L652.6,791.6 L648.2,786.1 L634.1,787.5Z" fill="#bd3c0f"/><path d="M624.2,794.4 L638.4,793 L634.1,787.5 L620,788.9Z" fill="#bd3c0f"/><path d="M610,795.8 L624.2,794.4 L620,788.9 L605.8,790.3Z" fill="#bc3b0f"/><path d="M595.7,797.1 L610,795.8 L605.8,790.3 L591.6,791.6Z" fill="#bc3b0f"/><path d="M581.4,798.5 L595.7,797.1 L591.6,791.6 L577.4,792.9Z" fill="#bb3b0f"/><path d="M567.1,799.8 L581.4,798.5 L577.4,792.9 L563.1,794.2Z" fill="#bb3b0f"/><path d="M553.6,801.1 L567.1,799.8 L563.1,794.2 L549.7,795.5Z" fill="#bb3b0f"/><path d="M540.1,802.3 L553.6,801.1 L549.7,795.5 L536.2,796.7Z" fill="#ba3b0f"/><path d="M526.6,803.6 L540.1,802.3 L536.2,796.7 L522.7,798Z" fill="#ba3a0f"/><path d="M513,804.8 L526.6,803.6 L522.7,798 L509.2,799.2Z" fill="#ba3a0f"/><path d="M499.4,806.1 L513,804.8 L509.2,799.2 L495.7,800.5Z" fill="#ba3a0f"/><path d="M485.8,807.3 L499.4,806.1 L495.7,800.5 L482.1,801.7Z" fill="#b93a0f"/><path d="M472.1,808.6 L485.8,807.3 L482.1,801.7 L468.5,803Z" fill="#b93a0f"/><path d="M458.5,806.1 L472.1,808.6 L468.5,803 L454.9,800.4Z" fill="#b93a0f"/><path d="M444.7,793.9 L458.5,806.1 L454.9,800.4 L441.2,787.3Z" fill="#ba3e0f"/><path d="M430.8,778.2 L444.7,793.9 L441.2,787.3 L427.3,770.3Z" fill="#c3490f"/><path d="M416.9,768.6 L430.8,778.2 L427.3,770.3 L413.5,759.7Z" fill="#d1560f"/><path d="M403,762.8 L416.9,768.6 L413.5,759.7 L399.7,754.2Z" fill="#da5d0f"/><path d="M386.7,751.5 L403,762.8 L399.7,754.2 L383.4,742.8Z" fill="#d8610f"/><path d="M370.1,725.7 L386.7,751.5 L383.4,742.8 L366.8,717.4Z" fill="#d3680e"/><path d="M350,744.6 L370.1,725.7 L366.8,717.4 L346.9,736.2Z" fill="#eb7510"/><path d="M329.8,756.5 L350,744.6 L346.9,736.2 L326.8,748.3Z" fill="#ea6e10"/><path d="M309.6,764.5 L329.8,756.5 L326.8,748.3 L306.6,756.8Z" fill="#e66810"/><path d="M289.3,770.5 L309.6,764.5 L306.6,756.8 L286.4,763Z" fill="#e46510"/><path d="M268.6,762.7 L289.3,770.5 L286.4,763 L265.9,754.7Z" fill="#dc620f"/><path d="M247.9,752 L268.6,762.7 L265.9,754.7 L245.2,743.4Z" fill="#dd680f"/><path d="M947.7,690.6 L962.7,705.5 L957.1,697.1 L942,684.8Z" fill="#db6c0f"/><path d="M933.3,706.6 L947.7,690.6 L942,684.8 L927.9,692.4Z" fill="#ed7610"/><path d="M925.7,727.8 L933.3,706.6 L927.9,692.4 L920.2,720.1Z" fill="#df670f"/><path d="M918.1,752 L925.7,727.8 L920.2,720.1 L912.6,745.2Z" fill="#d5580f"/><path d="M910.5,776.9 L918.1,752 L912.6,745.2 L905,771Z" fill="#c5440f"/><path d="M903.1,778 L910.5,776.9 L905,771 L897.4,783.5Z" fill="#b5390f"/><path d="M889.9,791.4 L903.1,778 L897.4,783.5 L884.6,785.5Z" fill="#ab330e"/><path d="M876.4,787.4 L889.9,791.4 L884.6,785.5 L871.1,781.4Z" fill="#a8320e"/><path d="M862.9,782.5 L876.4,787.4 L871.1,781.4 L857.6,776.5Z" fill="#b1370e"/><path d="M849.3,776.8 L862.9,782.5 L857.6,776.5 L844.1,770.7Z" fill="#ba3c0f"/><path d="M835.7,772.1 L849.3,776.8 L844.1,770.7 L830.6,765.9Z" fill="#c2410f"/><path d="M826.1,760 L835.7,772.1 L830.6,765.9 L821.1,748Z" fill="#bf460f"/><path d="M812.2,758.9 L826.1,760 L821.1,748 L807.2,749.2Z" fill="#d95410"/><path d="M798.3,756.5 L812.2,758.9 L807.2,749.2 L793.4,748.4Z" fill="#d85510"/><path d="M784.3,761.9 L798.3,756.5 L793.4,748.4 L779.3,755.2Z" fill="#da5510"/><path d="M770.1,771.7 L784.3,761.9 L779.3,755.2 L765.2,766Z" fill="#d34e10"/><path d="M756,782 L770.1,771.7 L765.2,766 L751.1,777.3Z" fill="#cb4610"/><path d="M741.9,785.9 L756,782 L751.1,777.3 L737.1,781.7Z" fill="#c54010"/><path d="M727.8,788.3 L741.9,785.9 L737.1,781.7 L723.1,784.4Z" fill="#c13e10"/><path d="M713.7,789.8 L727.8,788.3 L723.1,784.4 L709,785.9Z" fill="#bf3d0f"/><path d="M699.6,791.2 L713.7,789.8 L709,785.9 L695,787.3Z" fill="#bf3d0f"/><path d="M685.4,792.7 L699.6,791.2 L695,787.3 L680.9,788.7Z" fill="#be3d0f"/><path d="M671.2,794.1 L685.4,792.7 L680.9,788.7 L666.7,790.2Z" fill="#be3c0f"/><path d="M657,795.6 L671.2,794.1 L666.7,790.2 L652.6,791.6Z" fill="#bd3c0f"/><path d="M642.8,797 L657,795.6 L652.6,791.6 L638.4,793Z" fill="#bd3c0f"/><path d="M628.5,798.5 L642.8,797 L638.4,793 L624.2,794.4Z" fill="#bc3c0f"/><path d="M614.2,799.9 L628.5,798.5 L624.2,794.4 L610,795.8Z" fill="#bc3b0f"/><path d="M599.9,801.2 L614.2,799.9 L610,795.8 L595.7,797.1Z" fill="#bb3b0f"/><path d="M585.6,802.6 L599.9,801.2 L595.7,797.1 L581.4,798.5Z" fill="#bb3b0f"/><path d="M571.2,803.9 L585.6,802.6 L581.4,798.5 L567.1,799.8Z" fill="#bb3b0f"/><path d="M557.6,805.2 L571.2,803.9 L567.1,799.8 L553.6,801.1Z" fill="#ba3b0f"/><path d="M544,806.5 L557.6,805.2 L553.6,801.1 L540.1,802.3Z" fill="#ba3b0f"/><path d="M530.4,807.8 L544,806.5 L540.1,802.3 L526.6,803.6Z" fill="#ba3a0f"/><path d="M516.8,809 L530.4,807.8 L526.6,803.6 L513,804.8Z" fill="#b93a0f"/><path d="M503.2,810.3 L516.8,809 L513,804.8 L499.4,806.1Z" fill="#b93a0f"/><path d="M489.5,811.6 L503.2,810.3 L499.4,806.1 L485.8,807.3Z" fill="#b93a0f"/><path d="M475.8,812.9 L489.5,811.6 L485.8,807.3 L472.1,808.6Z" fill="#b83a0f"/><path d="M462,810.1 L475.8,812.9 L472.1,808.6 L458.5,806.1Z" fill="#b83a0f"/><path d="M448.2,798.5 L462,810.1 L458.5,806.1 L444.7,793.9Z" fill="#b93e0f"/><path d="M434.3,784.4 L448.2,798.5 L444.7,793.9 L430.8,778.2Z" fill="#c2480f"/><path d="M420.3,776.5 L434.3,784.4 L430.8,778.2 L416.9,768.6Z" fill="#d1540f"/><path d="M406.4,771.2 L420.3,776.5 L416.9,768.6 L403,762.8Z" fill="#d85b0f"/><path d="M390,760 L406.4,771.2 L403,762.8 L386.7,751.5Z" fill="#d75f0f"/><path d="M373.3,734 L390,760 L386.7,751.5 L370.1,725.7Z" fill="#d3660e"/><path d="M353.1,753.1 L373.3,734 L370.1,725.7 L350,744.6Z" fill="#ea7410"/><path d="M332.9,764.8 L353.1,753.1 L350,744.6 L329.8,756.5Z" fill="#e86c10"/><path d="M312.5,772.2 L332.9,764.8 L329.8,756.5 L309.6,764.5Z" fill="#e56710"/><path d="M292.1,777.9 L312.5,772.2 L309.6,764.5 L289.3,770.5Z" fill="#e36310"/><path d="M271.4,770.7 L292.1,777.9 L289.3,770.5 L268.6,762.7Z" fill="#db610f"/><path d="M250.6,760.6 L271.4,770.7 L268.6,762.7 L247.9,752Z" fill="#dd660f"/><path d="M953.1,704.8 L968.4,712.9 L962.7,705.5 L947.7,690.6Z" fill="#de6c0f"/><path d="M938.9,713.4 L953.1,704.8 L947.7,690.6 L933.3,706.6Z" fill="#ec7310"/><path d="M931.3,735.4 L938.9,713.4 L933.3,706.6 L925.7,727.8Z" fill="#dd640f"/><path d="M923.6,758.7 L931.3,735.4 L925.7,727.8 L918.1,752Z" fill="#d5560f"/><path d="M916,782.9 L923.6,758.7 L918.1,752 L910.5,776.9Z" fill="#c4430f"/><path d="M908.3,795.1 L916,782.9 L910.5,776.9 L903.1,778Z" fill="#bb3a0f"/><path d="M895.4,797.2 L908.3,795.1 L903.1,778 L889.9,791.4Z" fill="#b1350e"/><path d="M881.8,793.3 L895.4,797.2 L889.9,791.4 L876.4,787.4Z" fill="#a7320d"/><path d="M868.2,788.5 L881.8,793.3 L876.4,787.4 L862.9,782.5Z" fill="#af360e"/><path d="M854.6,782.8 L868.2,788.5 L862.9,782.5 L849.3,776.8Z" fill="#b93b0f"/><path d="M840.9,778.2 L854.6,782.8 L849.3,776.8 L835.7,772.1Z" fill="#c1400f"/><path d="M831.2,772.5 L840.9,778.2 L835.7,772.1 L826.1,760Z" fill="#c2450f"/><path d="M817.3,768.8 L831.2,772.5 L826.1,760 L812.2,758.9Z" fill="#d24e10"/><path d="M803.3,765 L817.3,768.8 L812.2,758.9 L798.3,756.5Z" fill="#d35110"/><path d="M789.3,769 L803.3,765 L798.3,756.5 L784.3,761.9Z" fill="#d85310"/><path d="M775.1,777.6 L789.3,769 L784.3,761.9 L770.1,771.7Z" fill="#d34d10"/><path d="M760.9,786.8 L775.1,777.6 L770.1,771.7 L756,782Z" fill="#cb4610"/><path d="M746.7,790.2 L760.9,786.8 L756,782 L741.9,785.9Z" fill="#c64110"/><path d="M732.6,792.2 L746.7,790.2 L741.9,785.9 L727.8,788.3Z" fill="#c33f10"/><path d="M718.4,793.7 L732.6,792.2 L727.8,788.3 L713.7,789.8Z" fill="#c13e10"/><path d="M704.2,795.2 L718.4,793.7 L713.7,789.8 L699.6,791.2Z" fill="#c13e10"/><path d="M690,796.7 L704.2,795.2 L699.6,791.2 L685.4,792.7Z" fill="#c03e10"/><path d="M675.8,798.1 L690,796.7 L685.4,792.7 L671.2,794.1Z" fill="#c03d0f"/><path d="M661.5,799.6 L675.8,798.1 L671.2,794.1 L657,795.6Z" fill="#bf3d0f"/><path d="M647.2,801.1 L661.5,799.6 L657,795.6 L642.8,797Z" fill="#bf3d0f"/><path d="M632.9,802.6 L647.2,801.1 L642.8,797 L628.5,798.5Z" fill="#be3d0f"/><path d="M618.5,804 L632.9,802.6 L628.5,798.5 L614.2,799.9Z" fill="#be3c0f"/><path d="M604.1,805.4 L618.5,804 L614.2,799.9 L599.9,801.2Z" fill="#bd3c0f"/><path d="M589.7,806.7 L604.1,805.4 L599.9,801.2 L585.6,802.6Z" fill="#bd3c0f"/><path d="M575.3,808.1 L589.7,806.7 L585.6,802.6 L571.2,803.9Z" fill="#bd3c0f"/><path d="M561.7,809.4 L575.3,808.1 L571.2,803.9 L557.6,805.2Z" fill="#bc3c0f"/><path d="M548,810.7 L561.7,809.4 L557.6,805.2 L544,806.5Z" fill="#bc3c0f"/><path d="M534.4,812 L548,810.7 L544,806.5 L530.4,807.8Z" fill="#bc3b0f"/><path d="M520.7,813.3 L534.4,812 L530.4,807.8 L516.8,809Z" fill="#bb3b0f"/><path d="M506.9,814.6 L520.7,813.3 L516.8,809 L503.2,810.3Z" fill="#bb3b0f"/><path d="M493.2,815.9 L506.9,814.6 L503.2,810.3 L489.5,811.6Z" fill="#bb3b0f"/><path d="M479.4,817.2 L493.2,815.9 L489.5,811.6 L475.8,812.9Z" fill="#ba3b0f"/><path d="M465.6,814.3 L479.4,817.2 L475.8,812.9 L462,810.1Z" fill="#ba3b0f"/><path d="M451.7,803.1 L465.6,814.3 L462,810.1 L448.2,798.5Z" fill="#ba3f0f"/><path d="M437.8,790.6 L451.7,803.1 L448.2,798.5 L434.3,784.4Z" fill="#c3490f"/><path d="M423.8,784.4 L437.8,790.6 L434.3,784.4 L420.3,776.5Z" fill="#d2540f"/><path d="M409.8,779.6 L423.8,784.4 L420.3,776.5 L406.4,771.2Z" fill="#d85a10"/><path d="M393.3,768.5 L409.8,779.6 L406.4,771.2 L390,760Z" fill="#d65d0f"/><path d="M376.6,742.2 L393.3,768.5 L390,760 L373.3,734Z" fill="#d2640e"/><path d="M356.3,761.4 L376.6,742.2 L373.3,734 L353.1,753.1Z" fill="#e97210"/><path d="M336,772.9 L356.3,761.4 L353.1,753.1 L332.9,764.8Z" fill="#e76a10"/><path d="M315.5,779.8 L336,772.9 L332.9,764.8 L312.5,772.2Z" fill="#e46510"/><path d="M295,785.4 L315.5,779.8 L312.5,772.2 L292.1,777.9Z" fill="#e26210"/><path d="M274.2,778.7 L295,785.4 L292.1,777.9 L271.4,770.7Z" fill="#db6010"/><path d="M253.3,769.3 L274.2,778.7 L271.4,770.7 L250.6,760.6Z" fill="#dc650f"/><path d="M958.7,715.1 L974.2,719.5 L968.4,712.9 L953.1,704.8Z" fill="#e26b10"/><path d="M944.6,717.9 L958.7,715.1 L953.1,704.8 L938.9,713.4Z" fill="#ea7010"/><path d="M936.9,742.9 L944.6,717.9 L938.9,713.4 L931.3,735.4Z" fill="#dc630f"/><path d="M929.2,765.2 L936.9,742.9 L931.3,735.4 L923.6,758.7Z" fill="#d4550f"/><path d="M921.6,788.7 L929.2,765.2 L923.6,758.7 L916,782.9Z" fill="#c3430f"/><path d="M913.8,800.7 L921.6,788.7 L916,782.9 L908.3,795.1Z" fill="#b0360e"/><path d="M900.9,802.9 L913.8,800.7 L908.3,795.1 L895.4,797.2Z" fill="#a8310d"/><path d="M887.2,799 L900.9,802.9 L895.4,797.2 L881.8,793.3Z" fill="#a6310d"/><path d="M873.6,794.3 L887.2,799 L881.8,793.3 L868.2,788.5Z" fill="#ae350e"/><path d="M859.9,788.6 L873.6,794.3 L868.2,788.5 L854.6,782.8Z" fill="#b83a0f"/><path d="M846.2,784.2 L859.9,788.6 L854.6,782.8 L840.9,778.2Z" fill="#c1400f"/><path d="M836.4,775.9 L846.2,784.2 L840.9,778.2 L831.2,772.5Z" fill="#bf430f"/><path d="M822.3,779.7 L836.4,775.9 L831.2,772.5 L817.3,768.8Z" fill="#cf4b10"/><path d="M808.4,774.3 L822.3,779.7 L817.3,768.8 L803.3,765Z" fill="#cf4d10"/><path d="M794.3,776.9 L808.4,774.3 L803.3,765 L789.3,769Z" fill="#d65010"/><path d="M780,784.3 L794.3,776.9 L789.3,769 L775.1,777.6Z" fill="#d24c10"/><path d="M765.8,791.9 L780,784.3 L775.1,777.6 L760.9,786.8Z" fill="#cc4610"/><path d="M751.6,794.6 L765.8,791.9 L760.9,786.8 L746.7,790.2Z" fill="#c64210"/><path d="M737.4,796.1 L751.6,794.6 L746.7,790.2 L732.6,792.2Z" fill="#c44010"/><path d="M723.2,797.7 L737.4,796.1 L732.6,792.2 L718.4,793.7Z" fill="#c33f10"/><path d="M708.9,799.2 L723.2,797.7 L718.4,793.7 L704.2,795.2Z" fill="#c33f10"/><path d="M694.6,800.7 L708.9,799.2 L704.2,795.2 L690,796.7Z" fill="#c23f10"/><path d="M680.3,802.2 L694.6,800.7 L690,796.7 L675.8,798.1Z" fill="#c23f10"/><path d="M666,803.7 L680.3,802.2 L675.8,798.1 L661.5,799.6Z" fill="#c13e10"/><path d="M651.6,805.2 L666,803.7 L661.5,799.6 L647.2,801.1Z" fill="#c13e10"/><path d="M637.2,806.7 L651.6,805.2 L647.2,801.1 L632.9,802.6Z" fill="#c03e10"/><path d="M622.8,808.2 L637.2,806.7 L632.9,802.6 L618.5,804Z" fill="#c03d0f"/><path d="M608.4,809.5 L622.8,808.2 L618.5,804 L604.1,805.4Z" fill="#bf3d0f"/><path d="M593.9,810.9 L608.4,809.5 L604.1,805.4 L589.7,806.7Z" fill="#bf3d0f"/><path d="M579.4,812.3 L593.9,810.9 L589.7,806.7 L575.3,808.1Z" fill="#bf3d0f"/><path d="M565.7,813.6 L579.4,812.3 L575.3,808.1 L561.7,809.4Z" fill="#be3d0f"/><path d="M552,815 L565.7,813.6 L561.7,809.4 L548,810.7Z" fill="#be3d0f"/><path d="M538.3,816.3 L552,815 L548,810.7 L534.4,812Z" fill="#be3c0f"/><path d="M524.5,817.6 L538.3,816.3 L534.4,812 L520.7,813.3Z" fill="#bd3c0f"/><path d="M510.8,818.9 L524.5,817.6 L520.7,813.3 L506.9,814.6Z" fill="#bd3c0f"/><path d="M497,820.2 L510.8,818.9 L506.9,814.6 L493.2,815.9Z" fill="#bd3c0f"/><path d="M483.1,821.5 L497,820.2 L493.2,815.9 L479.4,817.2Z" fill="#bc3c0f"/><path d="M469.3,818.4 L483.1,821.5 L479.4,817.2 L465.6,814.3Z" fill="#bc3c0f"/><path d="M455.3,807.7 L469.3,818.4 L465.6,814.3 L451.7,803.1Z" fill="#bc400f"/><path d="M441.3,796.5 L455.3,807.7 L451.7,803.1 L437.8,790.6Z" fill="#c4490f"/><path d="M427.3,791.9 L441.3,796.5 L437.8,790.6 L423.8,784.4Z" fill="#d3540f"/><path d="M413.2,787.6 L427.3,791.9 L423.8,784.4 L409.8,779.6Z" fill="#d75810"/><path d="M396.7,776.6 L413.2,787.6 L409.8,779.6 L393.3,768.5Z" fill="#d55b0f"/><path d="M379.8,750.1 L396.7,776.6 L393.3,768.5 L376.6,742.2Z" fill="#d1620e"/><path d="M359.5,769.5 L379.8,750.1 L376.6,742.2 L356.3,761.4Z" fill="#e97010"/><path d="M339.1,780.8 L359.5,769.5 L356.3,761.4 L336,772.9Z" fill="#e66810"/><path d="M318.5,787.3 L339.1,780.8 L336,772.9 L315.5,779.8Z" fill="#e36310"/><path d="M297.9,792.8 L318.5,787.3 L315.5,779.8 L295,785.4Z" fill="#e16010"/><path d="M277.1,786.6 L297.9,792.8 L295,785.4 L274.2,778.7Z" fill="#db5e10"/><path d="M256.1,777.8 L277.1,786.6 L274.2,778.7 L253.3,769.3Z" fill="#dc630f"/></g>
<g font-family="&quot;Liberation Sans&quot;, sans-serif" fill="#1a1a1a"><text x="117.2" y="654.4" font-size="20.2" text-anchor="end">0</text><text x="114.4" y="554.7" font-size="20.2" text-anchor="end">10</text><text x="111.7" y="453.6" font-size="20.2" text-anchor="end">20</text><text x="108.9" y="351.2" font-size="20.2" text-anchor="end">30</text><text x="106" y="247.3" font-size="20.2" text-anchor="end">40</text><text x="103.2" y="142" font-size="20.2" text-anchor="end">50</text><text x="100.3" y="35.2" font-size="20.2" text-anchor="end">60</text><text x="131.3" y="681.9" font-size="20.2" text-anchor="end">760</text><text x="142.8" y="709.9" font-size="20.2" text-anchor="end">710</text><text x="154.9" y="739.5" font-size="20.2" text-anchor="end">660</text><text x="167.9" y="770.8" font-size="20.2" text-anchor="end">610</text><text x="181.6" y="803.9" font-size="20.2" text-anchor="end">560</text><text x="196.3" y="839.1" font-size="20.2" text-anchor="end">510</text><text x="211.9" y="876.4" font-size="20.2" text-anchor="end">460</text><text x="389.8" y="883" font-size="20.2" text-anchor="middle">155</text><text x="515.4" y="872.7" font-size="20.2" text-anchor="middle">185</text><text x="638.9" y="862.6" font-size="20.2" text-anchor="middle">215</text><text x="760.3" y="852.6" font-size="20.2" text-anchor="middle">245</text><text x="879.6" y="842.8" font-size="20.2" text-anchor="middle">275</text><text x="997" y="833.2" font-size="20.2" text-anchor="middle">305</text><text x="61" y="477.5" font-size="41.6" text-anchor="start" transform="rotate(-90 61 477.5)">% Reflectance</text><text x="519.1" y="954.7" font-size="42" text-anchor="start" transform="rotate(-4.65 519.1 954.7)" letter-spacing="0.5">Day of Year</text><text x="3.5" y="627" font-size="42.3" text-anchor="start" transform="rotate(66.0 3.5 627)">Waveband (nm)</text></g></svg></body></html>
